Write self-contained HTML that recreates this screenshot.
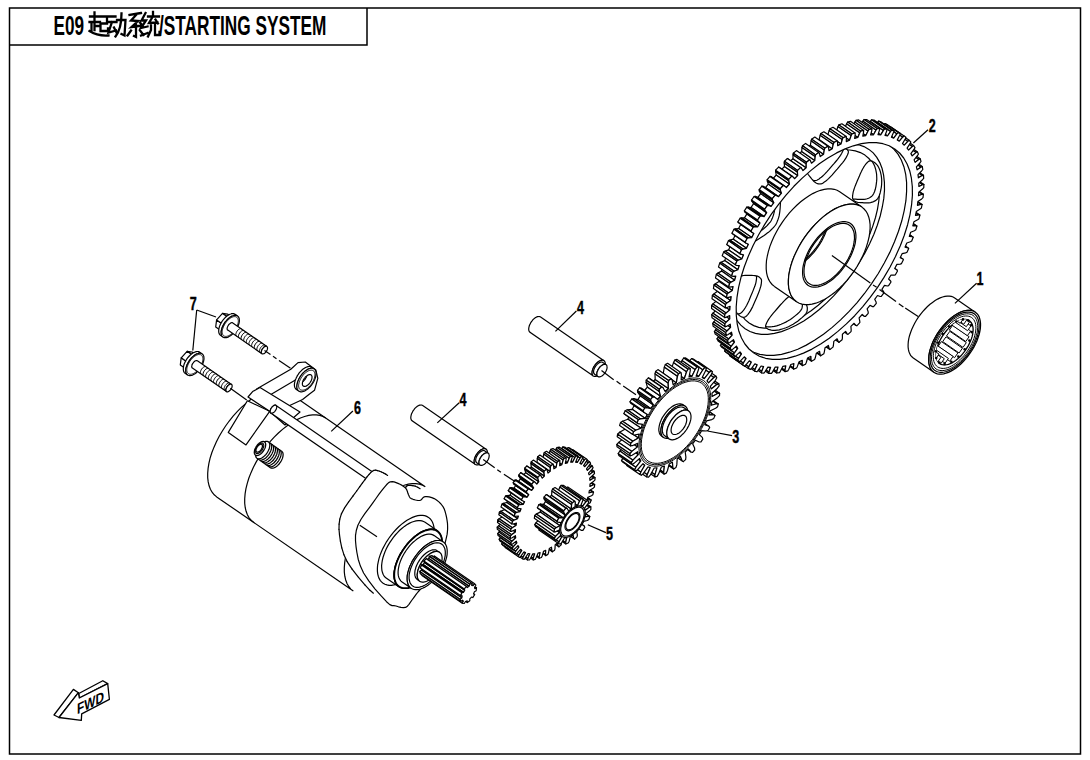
<!DOCTYPE html>
<html><head><meta charset="utf-8"><style>
html,body{margin:0;padding:0;background:#fff;}
body{width:1090px;height:760px;overflow:hidden;position:relative;}
svg{position:absolute;left:0;top:0;}
text{font-family:"Liberation Sans",sans-serif;font-weight:bold;}
</style></head><body>
<svg width="1090" height="760" viewBox="0 0 1090 760">
<defs><clipPath id="c1"><path d="M894.7,148.9 899.6,153.0 903.7,158.0 907.1,164.0 909.7,170.7 911.4,178.2 912.3,186.5 912.4,195.3 911.6,204.7 910.0,214.6 907.6,224.7 904.3,235.2 900.3,245.8 895.5,256.4 890.1,267.0 884.0,277.4 877.4,287.6 870.2,297.4 862.6,306.8 854.7,315.7 846.4,323.9 837.9,331.4 829.3,338.2 820.7,344.1 812.0,349.1 803.5,353.1 795.2,356.2 787.2,358.3 779.6,359.3 772.3,359.3 765.6,358.3 759.4,356.2 753.9,353.1 749.0,349.0 744.9,344.0 741.5,338.0 738.9,331.3 737.2,323.8 736.3,315.5 736.2,306.7 737.0,297.3 738.6,287.4 741.0,277.3 744.3,266.8 748.3,256.2 753.1,245.6 758.5,235.0 764.6,224.6 771.2,214.4 778.4,204.6 786.0,195.2 793.9,186.3 802.2,178.1 810.7,170.6 819.3,163.8 827.9,157.9 836.6,152.9 845.1,148.9 853.4,145.8 861.4,143.7 869.0,142.7 876.3,142.7 883.0,143.7 889.2,145.8Z"/></clipPath>
<clipPath id="c2"><path d="M808.3,164.4 809.7,162.6 811.7,160.7 814.0,158.8 816.4,157.0 818.7,155.4 820.9,153.9 823.3,152.7 825.7,151.5 828.0,150.5 830.3,149.6 832.5,149.0 834.8,148.4 836.9,148.0 839.0,147.8 840.9,147.8 842.7,148.0 844.5,148.4 846.2,149.0 847.4,149.8 848.2,150.8 848.4,152.0 848.1,153.5 847.4,155.1 846.5,156.9 845.5,158.7 844.2,160.7 842.5,162.8 840.7,164.9 838.9,167.1 837.2,169.1 835.4,171.1 833.7,173.1 832.0,175.1 830.3,176.8 828.8,178.4 827.5,179.6 826.2,180.7 825.1,181.6 824.0,182.3 823.1,182.9 822.3,183.4 821.7,183.7 821.1,183.9 820.6,183.9 819.9,184.0 819.2,183.9 818.3,183.8 817.5,183.7 816.6,183.3 815.7,182.8 814.7,182.1 813.8,181.3 812.8,180.2 811.9,179.2 811.0,178.0 810.1,176.9 809.1,175.7 808.2,174.5 807.5,173.2 807.0,171.8 806.8,170.4 806.7,169.0 806.8,167.5 807.3,166.0Z"/></clipPath>
<clipPath id="c3"><path d="M869.8,160.9 871.2,160.9 872.7,161.4 874.1,162.2 875.5,163.3 876.7,164.5 877.8,165.9 878.7,167.5 879.5,169.3 880.2,171.2 880.7,173.2 881.2,175.3 881.5,177.6 881.7,179.9 881.7,182.3 881.6,184.8 881.3,187.3 880.8,190.0 880.2,192.7 879.4,195.2 878.6,197.2 877.5,198.8 876.3,200.0 875.0,200.9 873.5,201.6 872.1,202.2 870.5,202.6 868.9,202.8 867.2,202.9 865.5,202.8 863.9,202.8 862.3,202.7 860.7,202.6 859.2,202.5 857.9,202.3 856.7,202.0 855.7,201.6 854.9,201.2 854.2,200.6 853.7,200.1 853.2,199.5 852.9,199.0 852.7,198.6 852.6,198.1 852.5,197.5 852.6,196.7 852.6,195.7 852.8,194.5 853.0,193.2 853.3,191.7 853.8,190.0 854.4,188.1 855.2,185.9 856.2,183.6 857.1,181.3 858.1,178.9 859.2,176.6 860.2,174.0 861.4,171.6 862.5,169.2 863.7,167.2 864.8,165.5 866.0,163.8 867.3,162.5 868.5,161.4Z"/></clipPath>
<clipPath id="c4"><path d="M868.6,235.6 868.5,237.3 868.0,239.7 867.2,242.5 866.1,245.4 865.0,248.2 863.8,251.0 862.4,253.9 860.8,256.9 859.2,259.8 857.5,262.7 855.7,265.5 853.7,268.3 851.7,271.0 849.7,273.6 847.7,276.0 845.6,278.4 843.3,280.7 841.1,282.8 839.0,284.5 837.4,285.5 836.1,285.8 835.2,285.6 834.5,284.9 834.0,283.8 833.6,282.6 833.4,281.1 833.3,279.1 833.4,277.0 833.6,274.8 833.7,272.7 833.9,270.7 834.0,268.6 834.3,266.5 834.5,264.5 834.9,262.7 835.2,261.1 835.7,259.6 836.2,258.1 836.7,256.9 837.2,255.7 837.6,254.7 838.0,254.0 838.4,253.3 838.9,252.6 839.6,251.8 840.5,250.8 841.4,249.7 842.5,248.6 843.8,247.4 845.1,246.3 846.7,245.0 848.5,243.8 850.4,242.5 852.3,241.2 854.2,240.0 856.1,238.7 858.2,237.4 860.2,236.2 862.1,235.2 863.7,234.5 865.1,234.1 866.4,233.9 867.4,234.0 868.2,234.5Z"/></clipPath>
<clipPath id="c5"><path d="M805.8,313.8 804.3,315.5 802.3,317.4 800.0,319.3 797.7,321.2 795.3,322.8 793.1,324.2 790.7,325.5 788.4,326.7 786.0,327.7 783.7,328.5 781.5,329.2 779.3,329.8 777.1,330.1 775.0,330.4 773.1,330.3 771.3,330.1 769.5,329.7 767.9,329.1 766.6,328.3 765.8,327.4 765.6,326.1 765.9,324.7 766.6,323.0 767.5,321.3 768.6,319.4 769.9,317.5 771.5,315.4 773.3,313.2 775.1,311.1 776.9,309.0 778.6,307.0 780.3,305.0 782.1,303.1 783.7,301.3 785.2,299.8 786.6,298.5 787.8,297.5 789.0,296.6 790.0,295.9 791.0,295.3 791.7,294.8 792.3,294.5 792.9,294.3 793.4,294.2 794.1,294.2 794.9,294.2 795.7,294.3 796.6,294.5 797.5,294.8 798.4,295.3 799.3,296.0 800.3,296.9 801.2,297.9 802.2,299.0 803.1,300.1 804.0,301.2 804.9,302.4 805.8,303.7 806.6,305.0 807.0,306.3 807.3,307.7 807.3,309.1 807.2,310.6 806.7,312.2Z"/></clipPath>
<clipPath id="c6"><path d="M744.2,317.3 742.8,317.2 741.4,316.8 739.9,315.9 738.5,314.8 737.3,313.6 736.3,312.2 735.3,310.6 734.5,308.8 733.8,306.9 733.3,304.9 732.9,302.8 732.5,300.6 732.4,298.2 732.3,295.8 732.5,293.4 732.8,290.8 733.2,288.1 733.8,285.4 734.6,282.9 735.5,280.9 736.5,279.4 737.7,278.2 739.1,277.2 740.5,276.5 742.0,275.9 743.5,275.5 745.2,275.3 746.9,275.3 748.6,275.3 750.2,275.4 751.7,275.4 753.3,275.5 754.8,275.7 756.2,275.9 757.4,276.1 758.3,276.5 759.1,277.0 759.8,277.5 760.3,278.1 760.8,278.6 761.1,279.1 761.4,279.6 761.5,280.0 761.5,280.7 761.5,281.5 761.4,282.5 761.3,283.6 761.1,285.0 760.7,286.5 760.2,288.1 759.6,290.1 758.8,292.2 757.9,294.5 756.9,296.9 755.9,299.2 754.9,301.6 753.8,304.1 752.7,306.6 751.5,308.9 750.4,310.9 749.2,312.7 748.0,314.3 746.8,315.7 745.5,316.7Z"/></clipPath>
<clipPath id="c7"><path d="M745.4,242.6 745.5,240.8 746.1,238.4 746.9,235.6 747.9,232.7 749.0,229.9 750.2,227.1 751.6,224.2 753.2,221.3 754.8,218.3 756.6,215.5 758.4,212.7 760.3,209.9 762.3,207.1 764.3,204.5 766.3,202.1 768.5,199.8 770.7,197.4 773.0,195.3 775.0,193.7 776.7,192.6 777.9,192.3 778.8,192.6 779.5,193.3 780.0,194.3 780.4,195.6 780.6,197.1 780.7,199.0 780.6,201.2 780.4,203.4 780.3,205.4 780.2,207.5 780.0,209.6 779.8,211.6 779.5,213.6 779.2,215.4 778.8,217.1 778.3,218.6 777.8,220.0 777.3,221.3 776.8,222.5 776.4,223.4 776.0,224.2 775.6,224.8 775.1,225.5 774.4,226.4 773.6,227.3 772.6,228.4 771.5,229.5 770.3,230.7 768.9,231.9 767.3,233.1 765.5,234.4 763.7,235.7 761.7,237.0 759.8,238.2 757.9,239.4 755.9,240.7 753.8,242.0 752.0,243.0 750.4,243.7 748.9,244.0 747.7,244.3 746.6,244.2 745.8,243.6Z"/></clipPath>
<clipPath id="c8"><path d="M850.5,223.5 852.0,224.8 853.3,226.3 854.3,228.1 855.1,230.1 855.6,232.4 855.9,234.9 855.9,237.6 855.6,240.4 855.2,243.4 854.4,246.5 853.4,249.6 852.2,252.8 850.8,256.0 849.1,259.2 847.3,262.4 845.3,265.5 843.1,268.5 840.8,271.3 838.4,274.0 835.9,276.4 833.4,278.7 830.8,280.8 828.1,282.5 825.5,284.1 823.0,285.3 820.5,286.2 818.0,286.8 815.7,287.2 813.5,287.2 811.5,286.8 809.6,286.2 807.9,285.3 806.5,284.0 805.2,282.5 804.2,280.7 803.4,278.7 802.9,276.4 802.6,273.9 802.6,271.2 802.8,268.4 803.3,265.4 804.1,262.3 805.0,259.2 806.3,256.0 807.7,252.8 809.3,249.6 811.2,246.4 813.2,243.3 815.4,240.4 817.7,237.5 820.1,234.9 822.6,232.4 825.1,230.1 827.7,228.1 830.3,226.3 832.9,224.8 835.5,223.5 838.0,222.6 840.5,222.0 842.8,221.7 845.0,221.7 847.0,222.0 848.9,222.6Z"/></clipPath>
<clipPath id="c9"><path d="M850.5,223.5 852.0,224.8 853.3,226.3 854.3,228.1 855.1,230.1 855.6,232.4 855.9,234.9 855.9,237.6 855.6,240.4 855.2,243.4 854.4,246.5 853.4,249.6 852.2,252.8 850.8,256.0 849.1,259.2 847.3,262.4 845.3,265.5 843.1,268.5 840.8,271.3 838.4,274.0 835.9,276.4 833.4,278.7 830.8,280.8 828.1,282.5 825.5,284.1 823.0,285.3 820.5,286.2 818.0,286.8 815.7,287.2 813.5,287.2 811.5,286.8 809.6,286.2 807.9,285.3 806.5,284.0 805.2,282.5 804.2,280.7 803.4,278.7 802.9,276.4 802.6,273.9 802.6,271.2 802.8,268.4 803.3,265.4 804.1,262.3 805.0,259.2 806.3,256.0 807.7,252.8 809.3,249.6 811.2,246.4 813.2,243.3 815.4,240.4 817.7,237.5 820.1,234.9 822.6,232.4 825.1,230.1 827.7,228.1 830.3,226.3 832.9,224.8 835.5,223.5 838.0,222.6 840.5,222.0 842.8,221.7 845.0,221.7 847.0,222.0 848.9,222.6Z"/></clipPath>
<clipPath id="c10"><path d="M969.4,320.8 970.4,321.7 971.3,322.7 972.0,323.9 972.5,325.4 972.9,326.9 973.1,328.7 973.1,330.5 972.9,332.5 972.6,334.6 972.1,336.7 971.4,338.9 970.5,341.1 969.5,343.3 968.4,345.6 967.1,347.7 965.7,349.9 964.2,351.9 962.6,353.9 961.0,355.8 959.2,357.5 957.5,359.1 955.7,360.5 953.8,361.7 952.0,362.8 950.2,363.6 948.5,364.3 946.8,364.7 945.2,364.9 943.7,364.9 942.3,364.7 941.0,364.3 939.8,363.6 938.8,362.7 937.9,361.7 937.2,360.5 936.7,359.0 936.3,357.5 936.1,355.7 936.1,353.9 936.3,351.9 936.6,349.8 937.1,347.7 937.8,345.5 938.7,343.3 939.7,341.1 940.8,338.8 942.1,336.7 943.5,334.5 945.0,332.5 946.6,330.5 948.2,328.6 950.0,326.9 951.7,325.3 953.5,323.9 955.4,322.7 957.2,321.6 959.0,320.8 960.7,320.1 962.4,319.7 964.0,319.5 965.5,319.5 966.9,319.7 968.2,320.1Z"/></clipPath>
<clipPath id="c11"><path d="M685.2,415.9 685.6,416.2 686.0,416.7 686.3,417.2 686.5,417.8 686.6,418.5 686.7,419.2 686.7,420.0 686.7,420.8 686.5,421.7 686.3,422.6 686.0,423.5 685.7,424.5 685.2,425.4 684.8,426.4 684.2,427.3 683.6,428.2 683.0,429.1 682.3,429.9 681.6,430.7 680.9,431.4 680.1,432.1 679.4,432.7 678.6,433.2 677.8,433.6 677.1,434.0 676.3,434.3 675.6,434.5 674.9,434.5 674.3,434.5 673.7,434.5 673.2,434.3 672.7,434.0 672.2,433.6 671.9,433.2 671.6,432.7 671.3,432.1 671.2,431.4 671.1,430.7 671.1,429.9 671.2,429.0 671.3,428.2 671.5,427.3 671.8,426.3 672.2,425.4 672.6,424.5 673.1,423.5 673.6,422.6 674.2,421.7 674.8,420.8 675.5,420.0 676.2,419.2 677.0,418.5 677.7,417.8 678.5,417.2 679.2,416.7 680.0,416.2 680.8,415.9 681.5,415.6 682.2,415.4 682.9,415.3 683.5,415.3 684.1,415.4 684.7,415.6Z"/></clipPath>
<clipPath id="c12"><path d="M311.1,374.9 311.3,375.1 311.6,375.4 311.7,375.7 311.9,376.1 312.0,376.5 312.0,377.0 312.0,377.4 312.0,378.0 311.9,378.5 311.8,379.1 311.6,379.6 311.4,380.2 311.1,380.8 310.8,381.4 310.5,381.9 310.1,382.5 309.7,383.0 309.3,383.6 308.9,384.0 308.4,384.5 307.9,384.9 307.5,385.3 307.0,385.6 306.5,385.9 306.1,386.1 305.6,386.3 305.2,386.4 304.7,386.4 304.3,386.4 304.0,386.4 303.6,386.3 303.3,386.1 303.1,385.9 302.8,385.6 302.7,385.3 302.5,384.9 302.4,384.5 302.4,384.0 302.4,383.6 302.4,383.0 302.5,382.5 302.6,381.9 302.8,381.4 303.0,380.8 303.3,380.2 303.6,379.6 303.9,379.1 304.3,378.5 304.7,378.0 305.1,377.4 305.5,377.0 306.0,376.5 306.5,376.1 306.9,375.7 307.4,375.4 307.9,375.1 308.3,374.9 308.8,374.7 309.2,374.6 309.7,374.6 310.1,374.6 310.4,374.6 310.8,374.7Z"/></clipPath></defs>
<rect x="9.5" y="8" width="1071" height="746" fill="none" stroke="#000" stroke-width="1.5"/>
<path d="M9.5,45 H367 V8" fill="none" stroke="#000" stroke-width="1.5"/>
<g font-size="27"><text x="0" y="0" transform="translate(53.5,34.5) scale(0.636,1)">E09</text>
<text x="0" y="0" transform="translate(159,34.5) scale(0.639,1)">/STARTING SYSTEM</text></g>
<path d="M90,16.5 L99,16.5 M94.5,12.5 L94.5,22 M89.5,22 L100,22 M94.5,22 L94.5,30 M94.5,26 L99,26 M91.5,24.5 L91.5,31 M89.5,31 C94,34 100,36 108.5,35.5 M100.5,16.5 L107,16.5 L107,23.5 L100.5,23.5 L100.5,31 L108,31 L108,28.5 M108.5,16.5 L115.5,16.5 M107.5,22 L116.5,22 M112,22 L108.5,32.5 L116,30.5 M114,27.5 L116.5,32.5 M117,20 L125.5,20 L124.5,35.5 L121.5,34 M121.5,13.5 C121.5,25 119,32 115.5,36.5 M129.5,15 L141,13 M136,15 L131,20.5 L138,21 L131.5,27 L142,25.5 M140,22.5 L142.5,26 M136,25 L136,37 L134,36 M131,30.5 L127.5,35.5 M140,30.5 L143.5,35 M145.5,13 L141.5,20.5 L146,20.5 L141,28 L147.5,26.5 M141,35.5 L147.5,33 M153,12 L153,15.5 M148,16.5 L159,16.5 M152.5,17 L149,23 L157.5,22.5 M155.5,19.5 L158,23.5 M151,25 L151,30 L148,36.5 M155,25 L155,35 L159.5,35 L159.5,32" fill="none" stroke="#000" stroke-width="2.3" stroke-linecap="square" stroke-linejoin="miter"/>
<g stroke="#000" stroke-width="1.3" fill="#fff" stroke-linejoin="round">
<path d="M54,715 L73.4,689.4 L78.4,692.7 L59,717.5Z"/>
<path d="M78.8,693.5 L102.8,680.7 L107.7,683.6 L79.3,698Z"/>
<path d="M59,717.5 L78.4,692.7 L79.3,698 L107.7,683.6 L109.4,699.3 L81.7,713.8 L81.3,720.4Z"/>
</g>
<text x="0" y="0" font-size="16" transform="translate(77,714.5) skewY(-26) scale(0.74,0.95)">FWD</text>
<path d="M881.5,259.4 883.8,261.0 897.0,270.1 894.7,268.5Z" fill="#fff" stroke="#000" stroke-width="1.20" stroke-linejoin="round"/>
<path d="M851.2,307.2 849.0,305.4 862.2,314.5 864.4,316.3Z" fill="#fff" stroke="#000" stroke-width="1.20" stroke-linejoin="round"/>
<path d="M887.0,248.7 889.6,249.9 902.8,259.0 900.2,257.8Z" fill="#fff" stroke="#000" stroke-width="1.20" stroke-linejoin="round"/>
<path d="M842.8,316.3 840.9,314.2 854.1,323.3 855.9,325.4Z" fill="#fff" stroke="#000" stroke-width="1.20" stroke-linejoin="round"/>
<path d="M891.9,238.0 894.7,238.7 907.9,247.8 905.1,247.1Z" fill="#fff" stroke="#000" stroke-width="1.20" stroke-linejoin="round"/>
<path d="M899.1,227.6 900.0,228.1 913.2,237.2 912.3,236.7Z" fill="#fff" stroke="#000" stroke-width="1.20" stroke-linejoin="round"/>
<path d="M834.0,324.8 832.5,322.3 845.6,331.4 847.2,333.9Z" fill="#fff" stroke="#000" stroke-width="1.20" stroke-linejoin="round"/>
<path d="M825.8,333.3 825.1,332.6 838.3,341.6 839.0,342.3Z" fill="#fff" stroke="#000" stroke-width="1.20" stroke-linejoin="round"/>
<path d="M896.1,227.3 899.1,227.6 912.3,236.7 909.3,236.4Z" fill="#fff" stroke="#000" stroke-width="1.20" stroke-linejoin="round"/>
<path d="M825.1,332.6 823.9,329.7 837.1,338.8 838.3,341.6Z" fill="#fff" stroke="#000" stroke-width="1.20" stroke-linejoin="round"/>
<path d="M902.8,216.6 903.8,216.9 916.9,226.0 916.0,225.7Z" fill="#fff" stroke="#000" stroke-width="1.20" stroke-linejoin="round"/>
<path d="M816.7,340.4 816.1,339.6 829.2,348.6 829.9,349.5Z" fill="#fff" stroke="#000" stroke-width="1.20" stroke-linejoin="round"/>
<path d="M899.6,216.7 902.8,216.6 916.0,225.7 912.8,225.8Z" fill="#fff" stroke="#000" stroke-width="1.20" stroke-linejoin="round"/>
<path d="M816.1,339.6 815.2,336.3 828.4,345.4 829.2,348.6Z" fill="#fff" stroke="#000" stroke-width="1.20" stroke-linejoin="round"/>
<path d="M905.7,205.8 906.7,206.0 919.9,215.0 918.9,214.9Z" fill="#fff" stroke="#000" stroke-width="1.20" stroke-linejoin="round"/>
<path d="M902.3,206.3 905.7,205.8 918.9,214.9 915.5,215.4Z" fill="#fff" stroke="#000" stroke-width="1.20" stroke-linejoin="round"/>
<path d="M807.5,346.7 807.0,345.7 820.2,354.8 820.7,355.8Z" fill="#fff" stroke="#000" stroke-width="1.20" stroke-linejoin="round"/>
<path d="M807.0,345.7 806.4,342.2 819.6,351.3 820.2,354.8Z" fill="#fff" stroke="#000" stroke-width="1.20" stroke-linejoin="round"/>
<path d="M907.8,195.3 908.9,195.3 922.1,204.4 920.9,204.4Z" fill="#fff" stroke="#000" stroke-width="1.20" stroke-linejoin="round"/>
<path d="M904.2,196.3 907.8,195.3 920.9,204.4 917.4,205.3Z" fill="#fff" stroke="#000" stroke-width="1.20" stroke-linejoin="round"/>
<path d="M798.3,352.1 797.9,351.0 811.1,360.1 811.5,361.2Z" fill="#fff" stroke="#000" stroke-width="1.20" stroke-linejoin="round"/>
<path d="M797.9,351.0 797.8,347.2 810.9,356.3 811.1,360.1Z" fill="#fff" stroke="#000" stroke-width="1.20" stroke-linejoin="round"/>
<path d="M909.0,185.2 910.2,185.1 923.4,194.2 922.2,194.3Z" fill="#fff" stroke="#000" stroke-width="1.20" stroke-linejoin="round"/>
<path d="M905.4,186.6 909.0,185.2 922.2,194.3 918.5,195.7Z" fill="#fff" stroke="#000" stroke-width="1.20" stroke-linejoin="round"/>
<path d="M789.3,356.5 789.0,355.3 802.2,364.4 802.4,365.6Z" fill="#fff" stroke="#000" stroke-width="1.20" stroke-linejoin="round"/>
<path d="M789.0,355.3 789.2,351.3 802.3,360.4 802.2,364.4Z" fill="#fff" stroke="#000" stroke-width="1.20" stroke-linejoin="round"/>
<path d="M909.4,175.6 910.7,175.3 923.9,184.4 922.6,184.7Z" fill="#fff" stroke="#000" stroke-width="1.20" stroke-linejoin="round"/>
<path d="M905.7,177.4 909.4,175.6 922.6,184.7 918.9,186.5Z" fill="#fff" stroke="#000" stroke-width="1.20" stroke-linejoin="round"/>
<path d="M780.4,360.0 780.3,358.7 793.4,367.8 793.6,369.1Z" fill="#fff" stroke="#000" stroke-width="1.20" stroke-linejoin="round"/>
<path d="M780.3,358.7 780.8,354.5 793.9,363.6 793.4,367.8Z" fill="#fff" stroke="#000" stroke-width="1.20" stroke-linejoin="round"/>
<path d="M909.0,166.5 910.3,166.1 923.5,175.2 922.2,175.6Z" fill="#fff" stroke="#000" stroke-width="1.20" stroke-linejoin="round"/>
<path d="M905.2,168.7 909.0,166.5 922.2,175.6 918.4,177.8Z" fill="#fff" stroke="#000" stroke-width="1.20" stroke-linejoin="round"/>
<path d="M771.8,362.5 771.8,361.1 785.0,370.2 785.0,371.6Z" fill="#fff" stroke="#000" stroke-width="1.20" stroke-linejoin="round"/>
<path d="M771.8,361.1 772.6,356.7 785.8,365.8 785.0,370.2Z" fill="#fff" stroke="#000" stroke-width="1.20" stroke-linejoin="round"/>
<path d="M907.8,158.1 909.1,157.6 922.3,166.6 920.9,167.2Z" fill="#fff" stroke="#000" stroke-width="1.20" stroke-linejoin="round"/>
<path d="M904.0,160.7 907.8,158.1 920.9,167.2 917.1,169.8Z" fill="#fff" stroke="#000" stroke-width="1.20" stroke-linejoin="round"/>
<path d="M763.5,363.9 763.6,362.5 776.8,371.5 776.7,373.0Z" fill="#fff" stroke="#000" stroke-width="1.20" stroke-linejoin="round"/>
<path d="M763.6,362.5 764.8,357.9 778.0,367.0 776.8,371.5Z" fill="#fff" stroke="#000" stroke-width="1.20" stroke-linejoin="round"/>
<path d="M905.7,150.4 907.0,149.7 920.2,158.8 918.8,159.5Z" fill="#fff" stroke="#000" stroke-width="1.20" stroke-linejoin="round"/>
<path d="M901.9,153.4 905.7,150.4 918.8,159.5 915.1,162.4Z" fill="#fff" stroke="#000" stroke-width="1.20" stroke-linejoin="round"/>
<path d="M755.7,364.3 755.9,362.8 769.1,371.9 768.8,373.4Z" fill="#fff" stroke="#000" stroke-width="1.20" stroke-linejoin="round"/>
<path d="M755.9,362.8 757.4,358.2 770.6,367.3 769.1,371.9Z" fill="#fff" stroke="#000" stroke-width="1.20" stroke-linejoin="round"/>
<path d="M902.8,143.5 904.1,142.7 917.3,151.8 916.0,152.6Z" fill="#fff" stroke="#000" stroke-width="1.20" stroke-linejoin="round"/>
<path d="M899.1,146.8 902.8,143.5 916.0,152.6 912.2,155.9Z" fill="#fff" stroke="#000" stroke-width="1.20" stroke-linejoin="round"/>
<path d="M748.3,363.7 748.6,362.1 761.8,371.2 761.4,372.8Z" fill="#fff" stroke="#000" stroke-width="1.20" stroke-linejoin="round"/>
<path d="M748.6,362.1 750.5,357.4 763.6,366.5 761.8,371.2Z" fill="#fff" stroke="#000" stroke-width="1.20" stroke-linejoin="round"/>
<path d="M899.1,137.5 900.5,136.5 913.6,145.6 912.3,146.6Z" fill="#fff" stroke="#000" stroke-width="1.20" stroke-linejoin="round"/>
<path d="M895.5,141.0 899.1,137.5 912.3,146.6 908.6,150.1Z" fill="#fff" stroke="#000" stroke-width="1.20" stroke-linejoin="round"/>
<path d="M741.4,362.0 741.9,360.4 755.1,369.5 754.6,371.1Z" fill="#fff" stroke="#000" stroke-width="1.20" stroke-linejoin="round"/>
<path d="M741.9,360.4 744.0,355.7 757.2,364.8 755.1,369.5Z" fill="#fff" stroke="#000" stroke-width="1.20" stroke-linejoin="round"/>
<path d="M894.7,132.3 896.0,131.2 909.2,140.3 907.9,141.4Z" fill="#fff" stroke="#000" stroke-width="1.20" stroke-linejoin="round"/>
<path d="M891.2,136.1 894.7,132.3 907.9,141.4 904.3,145.2Z" fill="#fff" stroke="#000" stroke-width="1.20" stroke-linejoin="round"/>
<path d="M735.2,359.3 735.8,357.7 748.9,366.7 748.3,368.4Z" fill="#fff" stroke="#000" stroke-width="1.20" stroke-linejoin="round"/>
<path d="M735.8,357.7 738.2,353.0 751.3,362.1 748.9,366.7Z" fill="#fff" stroke="#000" stroke-width="1.20" stroke-linejoin="round"/>
<path d="M889.6,128.1 890.9,126.9 904.1,135.9 902.7,137.2Z" fill="#fff" stroke="#000" stroke-width="1.20" stroke-linejoin="round"/>
<path d="M886.2,132.1 889.6,128.1 902.7,137.2 899.3,141.2Z" fill="#fff" stroke="#000" stroke-width="1.20" stroke-linejoin="round"/>
<path d="M731.4,357.0 729.5,355.6 742.7,364.7 744.5,366.1Z" fill="#fff" stroke="#000" stroke-width="1.20" stroke-linejoin="round"/>
<path d="M884.1,130.8 886.2,132.1 899.3,141.2 897.3,139.9Z" fill="#fff" stroke="#000" stroke-width="1.20" stroke-linejoin="round"/>
<path d="M729.5,355.6 730.3,353.9 743.4,363.0 742.7,364.7Z" fill="#fff" stroke="#000" stroke-width="1.20" stroke-linejoin="round"/>
<path d="M730.3,353.9 732.9,349.4 746.1,358.4 743.4,363.0Z" fill="#fff" stroke="#000" stroke-width="1.20" stroke-linejoin="round"/>
<path d="M732.9,349.4 731.1,347.7 744.3,356.8 746.1,358.4Z" fill="#fff" stroke="#000" stroke-width="1.20" stroke-linejoin="round"/>
<path d="M885.0,123.5 887.1,124.5 900.3,133.6 898.2,132.6Z" fill="#fff" stroke="#000" stroke-width="1.20" stroke-linejoin="round"/>
<path d="M883.8,124.8 885.0,123.5 898.2,132.6 896.9,133.9Z" fill="#fff" stroke="#000" stroke-width="1.20" stroke-linejoin="round"/>
<path d="M880.5,129.0 883.8,124.8 896.9,133.9 893.7,138.1Z" fill="#fff" stroke="#000" stroke-width="1.20" stroke-linejoin="round"/>
<path d="M726.2,352.6 724.6,350.9 737.8,360.0 739.4,361.7Z" fill="#fff" stroke="#000" stroke-width="1.20" stroke-linejoin="round"/>
<path d="M878.2,128.1 880.5,129.0 893.7,138.1 891.4,137.2Z" fill="#fff" stroke="#000" stroke-width="1.20" stroke-linejoin="round"/>
<path d="M724.6,350.9 725.4,349.3 738.6,358.3 737.8,360.0Z" fill="#fff" stroke="#000" stroke-width="1.20" stroke-linejoin="round"/>
<path d="M725.4,349.3 728.4,344.8 741.5,353.9 738.6,358.3Z" fill="#fff" stroke="#000" stroke-width="1.20" stroke-linejoin="round"/>
<path d="M728.4,344.8 726.8,342.8 740.0,351.9 741.5,353.9Z" fill="#fff" stroke="#000" stroke-width="1.20" stroke-linejoin="round"/>
<path d="M878.6,121.1 880.8,121.8 894.0,130.9 891.7,130.2Z" fill="#fff" stroke="#000" stroke-width="1.20" stroke-linejoin="round"/>
<path d="M877.3,122.5 878.6,121.1 891.7,130.2 890.5,131.6Z" fill="#fff" stroke="#000" stroke-width="1.20" stroke-linejoin="round"/>
<path d="M874.3,126.9 877.3,122.5 890.5,131.6 887.5,136.0Z" fill="#fff" stroke="#000" stroke-width="1.20" stroke-linejoin="round"/>
<path d="M871.8,126.4 874.3,126.9 887.5,136.0 885.0,135.5Z" fill="#fff" stroke="#000" stroke-width="1.20" stroke-linejoin="round"/>
<path d="M721.8,347.3 720.4,345.3 733.6,354.4 735.0,356.4Z" fill="#fff" stroke="#000" stroke-width="1.20" stroke-linejoin="round"/>
<path d="M720.4,345.3 721.4,343.7 734.5,352.8 733.6,354.4Z" fill="#fff" stroke="#000" stroke-width="1.20" stroke-linejoin="round"/>
<path d="M721.4,343.7 724.5,339.3 737.7,348.4 734.5,352.8Z" fill="#fff" stroke="#000" stroke-width="1.20" stroke-linejoin="round"/>
<path d="M724.5,339.3 723.2,337.0 736.4,346.1 737.7,348.4Z" fill="#fff" stroke="#000" stroke-width="1.20" stroke-linejoin="round"/>
<path d="M871.5,119.8 874.0,120.1 887.2,129.2 884.7,128.9Z" fill="#fff" stroke="#000" stroke-width="1.20" stroke-linejoin="round"/>
<path d="M867.5,125.8 870.3,121.3 883.5,130.4 880.7,134.9Z" fill="#fff" stroke="#000" stroke-width="1.20" stroke-linejoin="round"/>
<path d="M870.3,121.3 871.5,119.8 884.7,128.9 883.5,130.4Z" fill="#fff" stroke="#000" stroke-width="1.20" stroke-linejoin="round"/>
<path d="M864.8,125.6 867.5,125.8 880.7,134.9 878.0,134.7Z" fill="#fff" stroke="#000" stroke-width="1.20" stroke-linejoin="round"/>
<path d="M718.1,341.1 717.0,338.8 730.2,347.9 731.3,350.2Z" fill="#fff" stroke="#000" stroke-width="1.20" stroke-linejoin="round"/>
<path d="M718.0,337.2 721.4,333.1 734.5,342.1 731.2,346.3Z" fill="#fff" stroke="#000" stroke-width="1.20" stroke-linejoin="round"/>
<path d="M717.0,338.8 718.0,337.2 731.2,346.3 730.2,347.9Z" fill="#fff" stroke="#000" stroke-width="1.20" stroke-linejoin="round"/>
<path d="M721.4,333.1 720.4,330.5 733.5,339.6 734.5,342.1Z" fill="#fff" stroke="#000" stroke-width="1.20" stroke-linejoin="round"/>
<path d="M864.0,119.5 866.6,119.5 879.8,128.6 877.1,128.6Z" fill="#fff" stroke="#000" stroke-width="1.20" stroke-linejoin="round"/>
<path d="M860.3,125.7 862.9,121.1 876.0,130.1 873.5,134.8Z" fill="#fff" stroke="#000" stroke-width="1.20" stroke-linejoin="round"/>
<path d="M862.9,121.1 864.0,119.5 877.1,128.6 876.0,130.1Z" fill="#fff" stroke="#000" stroke-width="1.20" stroke-linejoin="round"/>
<path d="M857.4,125.9 860.3,125.7 873.5,134.8 870.6,135.0Z" fill="#fff" stroke="#000" stroke-width="1.20" stroke-linejoin="round"/>
<path d="M715.2,334.1 714.4,331.5 727.6,340.6 728.4,343.2Z" fill="#fff" stroke="#000" stroke-width="1.20" stroke-linejoin="round"/>
<path d="M715.5,329.9 719.0,326.0 732.2,335.1 728.7,339.0Z" fill="#fff" stroke="#000" stroke-width="1.20" stroke-linejoin="round"/>
<path d="M714.4,331.5 715.5,329.9 728.7,339.0 727.6,340.6Z" fill="#fff" stroke="#000" stroke-width="1.20" stroke-linejoin="round"/>
<path d="M719.0,326.0 718.3,323.1 731.5,332.2 732.2,335.1Z" fill="#fff" stroke="#000" stroke-width="1.20" stroke-linejoin="round"/>
<path d="M856.0,120.3 858.7,119.9 871.9,129.0 869.1,129.4Z" fill="#fff" stroke="#000" stroke-width="1.20" stroke-linejoin="round"/>
<path d="M852.6,126.5 854.9,121.9 868.1,131.0 865.8,135.6Z" fill="#fff" stroke="#000" stroke-width="1.20" stroke-linejoin="round"/>
<path d="M854.9,121.9 856.0,120.3 869.1,129.4 868.1,131.0Z" fill="#fff" stroke="#000" stroke-width="1.20" stroke-linejoin="round"/>
<path d="M849.6,127.1 852.6,126.5 865.8,135.6 862.8,136.2Z" fill="#fff" stroke="#000" stroke-width="1.20" stroke-linejoin="round"/>
<path d="M713.2,326.3 712.7,323.4 725.8,332.5 726.3,335.4Z" fill="#fff" stroke="#000" stroke-width="1.20" stroke-linejoin="round"/>
<path d="M713.8,321.9 717.4,318.2 730.6,327.3 727.0,331.0Z" fill="#fff" stroke="#000" stroke-width="1.20" stroke-linejoin="round"/>
<path d="M712.7,323.4 713.8,321.9 727.0,331.0 725.8,332.5Z" fill="#fff" stroke="#000" stroke-width="1.20" stroke-linejoin="round"/>
<path d="M717.4,318.2 717.0,315.1 730.2,324.2 730.6,327.3Z" fill="#fff" stroke="#000" stroke-width="1.20" stroke-linejoin="round"/>
<path d="M847.6,122.1 850.5,121.3 863.6,130.4 860.7,131.2Z" fill="#fff" stroke="#000" stroke-width="1.20" stroke-linejoin="round"/>
<path d="M844.6,128.4 846.6,123.7 859.8,132.8 857.8,137.5Z" fill="#fff" stroke="#000" stroke-width="1.20" stroke-linejoin="round"/>
<path d="M841.5,129.3 844.6,128.4 857.8,137.5 854.7,138.4Z" fill="#fff" stroke="#000" stroke-width="1.20" stroke-linejoin="round"/>
<path d="M846.6,123.7 847.6,122.1 860.7,131.2 859.8,132.8Z" fill="#fff" stroke="#000" stroke-width="1.20" stroke-linejoin="round"/>
<path d="M712.0,317.7 711.7,314.7 724.9,323.7 725.1,326.8Z" fill="#fff" stroke="#000" stroke-width="1.20" stroke-linejoin="round"/>
<path d="M712.9,313.2 716.6,309.8 729.8,318.9 726.1,322.3Z" fill="#fff" stroke="#000" stroke-width="1.20" stroke-linejoin="round"/>
<path d="M716.6,309.8 716.6,306.5 729.7,315.5 729.8,318.9Z" fill="#fff" stroke="#000" stroke-width="1.20" stroke-linejoin="round"/>
<path d="M711.7,314.7 712.9,313.2 726.1,322.3 724.9,323.7Z" fill="#fff" stroke="#000" stroke-width="1.20" stroke-linejoin="round"/>
<path d="M838.9,124.9 841.9,123.8 855.0,132.9 852.0,134.0Z" fill="#fff" stroke="#000" stroke-width="1.20" stroke-linejoin="round"/>
<path d="M836.3,131.2 838.0,126.5 851.2,135.6 849.5,140.3Z" fill="#fff" stroke="#000" stroke-width="1.20" stroke-linejoin="round"/>
<path d="M833.1,132.5 836.3,131.2 849.5,140.3 846.3,141.6Z" fill="#fff" stroke="#000" stroke-width="1.20" stroke-linejoin="round"/>
<path d="M838.0,126.5 838.9,124.9 852.0,134.0 851.2,135.6Z" fill="#fff" stroke="#000" stroke-width="1.20" stroke-linejoin="round"/>
<path d="M712.9,303.9 716.7,300.8 729.8,309.9 726.1,313.0Z" fill="#fff" stroke="#000" stroke-width="1.20" stroke-linejoin="round"/>
<path d="M711.6,308.5 711.6,305.3 724.8,314.4 724.7,317.6Z" fill="#fff" stroke="#000" stroke-width="1.20" stroke-linejoin="round"/>
<path d="M716.7,300.8 716.9,297.2 730.1,306.3 729.8,309.9Z" fill="#fff" stroke="#000" stroke-width="1.20" stroke-linejoin="round"/>
<path d="M711.6,305.3 712.9,303.9 726.1,313.0 724.8,314.4Z" fill="#fff" stroke="#000" stroke-width="1.20" stroke-linejoin="round"/>
<path d="M827.8,134.9 829.2,130.4 842.3,139.5 841.0,144.0Z" fill="#fff" stroke="#000" stroke-width="1.20" stroke-linejoin="round"/>
<path d="M824.5,136.6 827.8,134.9 841.0,144.0 837.7,145.7Z" fill="#fff" stroke="#000" stroke-width="1.20" stroke-linejoin="round"/>
<path d="M829.9,128.7 833.0,127.3 846.2,136.4 843.1,137.8Z" fill="#fff" stroke="#000" stroke-width="1.20" stroke-linejoin="round"/>
<path d="M829.2,130.4 829.9,128.7 843.1,137.8 842.3,139.5Z" fill="#fff" stroke="#000" stroke-width="1.20" stroke-linejoin="round"/>
<path d="M713.7,294.1 717.5,291.3 730.7,300.4 726.9,303.1Z" fill="#fff" stroke="#000" stroke-width="1.20" stroke-linejoin="round"/>
<path d="M717.5,291.3 718.0,287.6 731.2,296.7 730.7,300.4Z" fill="#fff" stroke="#000" stroke-width="1.20" stroke-linejoin="round"/>
<path d="M712.0,298.8 712.4,295.3 725.6,304.4 725.2,307.8Z" fill="#fff" stroke="#000" stroke-width="1.20" stroke-linejoin="round"/>
<path d="M712.4,295.3 713.7,294.1 726.9,303.1 725.6,304.4Z" fill="#fff" stroke="#000" stroke-width="1.20" stroke-linejoin="round"/>
<path d="M815.8,141.6 819.1,139.6 832.3,148.7 829.0,150.7Z" fill="#fff" stroke="#000" stroke-width="1.20" stroke-linejoin="round"/>
<path d="M819.1,139.6 820.2,135.2 833.3,144.2 832.3,148.7Z" fill="#fff" stroke="#000" stroke-width="1.20" stroke-linejoin="round"/>
<path d="M820.8,133.5 823.9,131.8 837.1,140.8 834.0,142.6Z" fill="#fff" stroke="#000" stroke-width="1.20" stroke-linejoin="round"/>
<path d="M820.2,135.2 820.8,133.5 834.0,142.6 833.3,144.2Z" fill="#fff" stroke="#000" stroke-width="1.20" stroke-linejoin="round"/>
<path d="M719.1,281.4 720.0,277.5 733.1,286.6 732.3,290.5Z" fill="#fff" stroke="#000" stroke-width="1.20" stroke-linejoin="round"/>
<path d="M715.3,283.8 719.1,281.4 732.3,290.5 728.5,292.9Z" fill="#fff" stroke="#000" stroke-width="1.20" stroke-linejoin="round"/>
<path d="M713.4,288.5 714.0,284.9 727.2,294.0 726.5,297.6Z" fill="#fff" stroke="#000" stroke-width="1.20" stroke-linejoin="round"/>
<path d="M714.0,284.9 715.3,283.8 728.5,292.9 727.2,294.0Z" fill="#fff" stroke="#000" stroke-width="1.20" stroke-linejoin="round"/>
<path d="M807.1,147.5 810.4,145.2 823.6,154.2 820.2,156.6Z" fill="#fff" stroke="#000" stroke-width="1.20" stroke-linejoin="round"/>
<path d="M810.4,145.2 811.1,140.8 824.3,149.9 823.6,154.2Z" fill="#fff" stroke="#000" stroke-width="1.20" stroke-linejoin="round"/>
<path d="M811.6,139.2 814.8,137.1 827.9,146.2 824.8,148.3Z" fill="#fff" stroke="#000" stroke-width="1.20" stroke-linejoin="round"/>
<path d="M811.1,140.8 811.6,139.2 824.8,148.3 824.3,149.9Z" fill="#fff" stroke="#000" stroke-width="1.20" stroke-linejoin="round"/>
<path d="M721.6,271.1 722.7,267.1 735.8,276.2 734.7,280.2Z" fill="#fff" stroke="#000" stroke-width="1.20" stroke-linejoin="round"/>
<path d="M717.8,273.1 721.6,271.1 734.7,280.2 731.0,282.2Z" fill="#fff" stroke="#000" stroke-width="1.20" stroke-linejoin="round"/>
<path d="M715.5,277.9 716.4,274.2 729.6,283.3 728.7,287.0Z" fill="#fff" stroke="#000" stroke-width="1.20" stroke-linejoin="round"/>
<path d="M716.4,274.2 717.8,273.1 731.0,282.2 729.6,283.3Z" fill="#fff" stroke="#000" stroke-width="1.20" stroke-linejoin="round"/>
<path d="M798.4,154.1 801.7,151.5 814.8,160.6 811.5,163.2Z" fill="#fff" stroke="#000" stroke-width="1.20" stroke-linejoin="round"/>
<path d="M801.7,151.5 802.0,147.4 815.2,156.5 814.8,160.6Z" fill="#fff" stroke="#000" stroke-width="1.20" stroke-linejoin="round"/>
<path d="M724.7,260.6 726.1,256.6 739.3,265.6 737.9,269.7Z" fill="#fff" stroke="#000" stroke-width="1.20" stroke-linejoin="round"/>
<path d="M802.5,145.8 805.6,143.4 818.7,152.5 815.6,154.9Z" fill="#fff" stroke="#000" stroke-width="1.20" stroke-linejoin="round"/>
<path d="M802.0,147.4 802.5,145.8 815.6,154.9 815.2,156.5Z" fill="#fff" stroke="#000" stroke-width="1.20" stroke-linejoin="round"/>
<path d="M721.0,262.2 724.7,260.6 737.9,269.7 734.2,271.3Z" fill="#fff" stroke="#000" stroke-width="1.20" stroke-linejoin="round"/>
<path d="M718.5,266.9 719.7,263.1 732.8,272.2 731.7,276.0Z" fill="#fff" stroke="#000" stroke-width="1.20" stroke-linejoin="round"/>
<path d="M789.8,161.6 793.0,158.7 806.2,167.7 803.0,170.6Z" fill="#fff" stroke="#000" stroke-width="1.20" stroke-linejoin="round"/>
<path d="M719.7,263.1 721.0,262.2 734.2,271.3 732.8,272.2Z" fill="#fff" stroke="#000" stroke-width="1.20" stroke-linejoin="round"/>
<path d="M793.0,158.7 793.0,154.8 806.2,163.8 806.2,167.7Z" fill="#fff" stroke="#000" stroke-width="1.20" stroke-linejoin="round"/>
<path d="M728.7,249.9 730.3,245.8 743.5,254.9 741.8,259.0Z" fill="#fff" stroke="#000" stroke-width="1.20" stroke-linejoin="round"/>
<path d="M725.1,251.1 728.7,249.9 741.8,259.0 738.2,260.2Z" fill="#fff" stroke="#000" stroke-width="1.20" stroke-linejoin="round"/>
<path d="M793.3,153.2 796.4,150.6 809.6,159.7 806.5,162.3Z" fill="#fff" stroke="#000" stroke-width="1.20" stroke-linejoin="round"/>
<path d="M793.0,154.8 793.3,153.2 806.5,162.3 806.2,163.8Z" fill="#fff" stroke="#000" stroke-width="1.20" stroke-linejoin="round"/>
<path d="M781.4,169.7 784.5,166.5 797.7,175.6 794.5,178.7Z" fill="#fff" stroke="#000" stroke-width="1.20" stroke-linejoin="round"/>
<path d="M722.2,255.8 723.7,251.9 736.9,261.0 735.4,264.8Z" fill="#fff" stroke="#000" stroke-width="1.20" stroke-linejoin="round"/>
<path d="M784.5,166.5 784.2,162.9 797.4,171.9 797.7,175.6Z" fill="#fff" stroke="#000" stroke-width="1.20" stroke-linejoin="round"/>
<path d="M723.7,251.9 725.1,251.1 738.2,260.2 736.9,261.0Z" fill="#fff" stroke="#000" stroke-width="1.20" stroke-linejoin="round"/>
<path d="M733.3,239.2 735.2,235.1 748.4,244.2 746.5,248.3Z" fill="#fff" stroke="#000" stroke-width="1.20" stroke-linejoin="round"/>
<path d="M787.4,158.5 788.2,159.0 801.4,168.1 800.6,167.6Z" fill="#fff" stroke="#000" stroke-width="1.20" stroke-linejoin="round"/>
<path d="M729.8,240.0 733.3,239.2 746.5,248.3 743.0,249.1Z" fill="#fff" stroke="#000" stroke-width="1.20" stroke-linejoin="round"/>
<path d="M773.2,178.4 776.3,175.0 789.5,184.1 786.4,187.5Z" fill="#fff" stroke="#000" stroke-width="1.20" stroke-linejoin="round"/>
<path d="M784.4,161.3 787.4,158.5 800.6,167.6 797.6,170.4Z" fill="#fff" stroke="#000" stroke-width="1.20" stroke-linejoin="round"/>
<path d="M784.2,162.9 784.4,161.3 797.6,170.4 797.4,171.9Z" fill="#fff" stroke="#000" stroke-width="1.20" stroke-linejoin="round"/>
<path d="M727.5,245.1 726.8,244.5 739.9,253.6 740.7,254.2Z" fill="#fff" stroke="#000" stroke-width="1.20" stroke-linejoin="round"/>
<path d="M738.6,228.5 740.7,224.4 753.9,233.5 751.7,237.6Z" fill="#fff" stroke="#000" stroke-width="1.20" stroke-linejoin="round"/>
<path d="M776.3,175.0 775.6,171.6 788.8,180.7 789.5,184.1Z" fill="#fff" stroke="#000" stroke-width="1.20" stroke-linejoin="round"/>
<path d="M765.4,187.6 768.3,184.1 781.5,193.2 778.6,196.7Z" fill="#fff" stroke="#000" stroke-width="1.20" stroke-linejoin="round"/>
<path d="M726.8,244.5 728.5,240.6 741.6,249.7 739.9,253.6Z" fill="#fff" stroke="#000" stroke-width="1.20" stroke-linejoin="round"/>
<path d="M728.5,240.6 729.8,240.0 743.0,249.1 741.6,249.7Z" fill="#fff" stroke="#000" stroke-width="1.20" stroke-linejoin="round"/>
<path d="M735.2,228.8 738.6,228.5 751.7,237.6 748.4,237.9Z" fill="#fff" stroke="#000" stroke-width="1.20" stroke-linejoin="round"/>
<path d="M744.5,217.9 746.9,213.9 760.0,223.0 757.6,227.0Z" fill="#fff" stroke="#000" stroke-width="1.20" stroke-linejoin="round"/>
<path d="M778.6,167.1 779.5,167.5 792.7,176.6 791.8,176.2Z" fill="#fff" stroke="#000" stroke-width="1.20" stroke-linejoin="round"/>
<path d="M757.9,197.4 760.7,193.6 773.9,202.7 771.1,206.5Z" fill="#fff" stroke="#000" stroke-width="1.20" stroke-linejoin="round"/>
<path d="M751.0,207.5 753.6,203.6 766.7,212.7 764.1,216.6Z" fill="#fff" stroke="#000" stroke-width="1.20" stroke-linejoin="round"/>
<path d="M768.3,184.1 767.3,181.0 780.4,190.1 781.5,193.2Z" fill="#fff" stroke="#000" stroke-width="1.20" stroke-linejoin="round"/>
<path d="M775.6,171.6 775.6,170.2 788.8,179.3 788.8,180.7Z" fill="#fff" stroke="#000" stroke-width="1.20" stroke-linejoin="round"/>
<path d="M775.6,170.2 778.6,167.1 791.8,176.2 788.8,179.3Z" fill="#fff" stroke="#000" stroke-width="1.20" stroke-linejoin="round"/>
<path d="M732.7,233.9 732.0,233.2 745.2,242.3 745.8,243.0Z" fill="#fff" stroke="#000" stroke-width="1.20" stroke-linejoin="round"/>
<path d="M741.3,217.8 744.5,217.9 757.6,227.0 754.5,226.9Z" fill="#fff" stroke="#000" stroke-width="1.20" stroke-linejoin="round"/>
<path d="M762.9,186.3 765.4,187.6 778.6,196.7 776.1,195.4Z" fill="#fff" stroke="#000" stroke-width="1.20" stroke-linejoin="round"/>
<path d="M746.9,213.9 744.9,211.9 758.0,221.0 760.0,223.0Z" fill="#fff" stroke="#000" stroke-width="1.20" stroke-linejoin="round"/>
<path d="M760.7,193.6 759.3,190.9 772.5,200.0 773.9,202.7Z" fill="#fff" stroke="#000" stroke-width="1.20" stroke-linejoin="round"/>
<path d="M733.9,229.3 735.2,228.8 748.4,237.9 747.1,238.4Z" fill="#fff" stroke="#000" stroke-width="1.20" stroke-linejoin="round"/>
<path d="M732.0,233.2 733.9,229.3 747.1,238.4 745.2,242.3Z" fill="#fff" stroke="#000" stroke-width="1.20" stroke-linejoin="round"/>
<path d="M748.0,207.0 751.0,207.5 764.1,216.6 761.2,216.0Z" fill="#fff" stroke="#000" stroke-width="1.20" stroke-linejoin="round"/>
<path d="M755.2,196.4 757.9,197.4 771.1,206.5 768.4,205.5Z" fill="#fff" stroke="#000" stroke-width="1.20" stroke-linejoin="round"/>
<path d="M753.6,203.6 751.9,201.2 765.0,210.3 766.7,212.7Z" fill="#fff" stroke="#000" stroke-width="1.20" stroke-linejoin="round"/>
<path d="M770.0,176.4 771.1,176.6 784.2,185.7 783.2,185.5Z" fill="#fff" stroke="#000" stroke-width="1.20" stroke-linejoin="round"/>
<path d="M767.3,181.0 767.2,179.7 780.4,188.7 780.4,190.1Z" fill="#fff" stroke="#000" stroke-width="1.20" stroke-linejoin="round"/>
<path d="M738.5,222.8 737.9,221.9 751.1,231.0 751.6,231.9Z" fill="#fff" stroke="#000" stroke-width="1.20" stroke-linejoin="round"/>
<path d="M767.2,179.7 770.0,176.4 783.2,185.5 780.4,188.7Z" fill="#fff" stroke="#000" stroke-width="1.20" stroke-linejoin="round"/>
<path d="M740.1,218.2 741.3,217.8 754.5,226.9 753.2,227.2Z" fill="#fff" stroke="#000" stroke-width="1.20" stroke-linejoin="round"/>
<path d="M761.9,186.2 762.9,186.3 776.1,195.4 775.0,195.3Z" fill="#fff" stroke="#000" stroke-width="1.20" stroke-linejoin="round"/>
<path d="M737.9,221.9 740.1,218.2 753.2,227.2 751.1,231.0Z" fill="#fff" stroke="#000" stroke-width="1.20" stroke-linejoin="round"/>
<path d="M759.3,190.9 759.2,189.6 772.3,198.7 772.5,200.0Z" fill="#fff" stroke="#000" stroke-width="1.20" stroke-linejoin="round"/>
<path d="M744.9,211.9 744.4,210.9 757.6,220.0 758.0,221.0Z" fill="#fff" stroke="#000" stroke-width="1.20" stroke-linejoin="round"/>
<path d="M746.8,207.2 748.0,207.0 761.2,216.0 760.0,216.3Z" fill="#fff" stroke="#000" stroke-width="1.20" stroke-linejoin="round"/>
<path d="M754.1,196.5 755.2,196.4 768.4,205.5 767.3,205.6Z" fill="#fff" stroke="#000" stroke-width="1.20" stroke-linejoin="round"/>
<path d="M759.2,189.6 761.9,186.2 775.0,195.3 772.3,198.7Z" fill="#fff" stroke="#000" stroke-width="1.20" stroke-linejoin="round"/>
<path d="M751.9,201.2 751.5,200.1 764.7,209.2 765.0,210.3Z" fill="#fff" stroke="#000" stroke-width="1.20" stroke-linejoin="round"/>
<path d="M744.4,210.9 746.8,207.2 760.0,216.3 757.6,220.0Z" fill="#fff" stroke="#000" stroke-width="1.20" stroke-linejoin="round"/>
<path d="M751.5,200.1 754.1,196.5 767.3,205.6 764.7,209.2Z" fill="#fff" stroke="#000" stroke-width="1.20" stroke-linejoin="round"/>
<g clip-path="url(#c1)">
<path d="M894.7,148.9 899.6,153.0 903.7,158.0 907.1,164.0 909.7,170.7 911.4,178.2 912.3,186.5 912.4,195.3 911.6,204.7 910.0,214.6 907.6,224.7 904.3,235.2 900.3,245.8 895.5,256.4 890.1,267.0 884.0,277.4 877.4,287.6 870.2,297.4 862.6,306.8 854.7,315.7 846.4,323.9 837.9,331.4 829.3,338.2 820.7,344.1 812.0,349.1 803.5,353.1 795.2,356.2 787.2,358.3 779.6,359.3 772.3,359.3 765.6,358.3 759.4,356.2 753.9,353.1 749.0,349.0 744.9,344.0 741.5,338.0 738.9,331.3 737.2,323.8 736.3,315.5 736.2,306.7 737.0,297.3 738.6,287.4 741.0,277.3 744.3,266.8 748.3,256.2 753.1,245.6 758.5,235.0 764.6,224.6 771.2,214.4 778.4,204.6 786.0,195.2 793.9,186.3 802.2,178.1 810.7,170.6 819.3,163.8 827.9,157.9 836.6,152.9 845.1,148.9 853.4,145.8 861.4,143.7 869.0,142.7 876.3,142.7 883.0,143.7 889.2,145.8Z" fill="#fff" stroke="none" stroke-width="1.20"/>
<path d="M877.4,137.0 882.3,141.1 886.4,146.1 889.8,152.0 892.4,158.8 894.1,166.3 895.0,174.6 895.1,183.4 894.3,192.8 892.7,202.6 890.3,212.8 887.0,223.3 883.0,233.8 878.2,244.5 872.8,255.1 866.7,265.5 860.1,275.7 852.9,285.5 845.3,294.9 837.4,303.7 829.1,312.0 820.6,319.5 812.0,326.2 803.4,332.1 794.8,337.1 786.3,341.2 778.0,344.3 769.9,346.4 762.3,347.4 755.0,347.4 748.3,346.3 742.1,344.2 736.6,341.1 731.7,337.1 727.6,332.0 724.2,326.1 721.7,319.4 719.9,311.8 719.0,303.6 718.9,294.7 719.7,285.4 721.3,275.5 723.8,265.3 727.0,254.9 731.0,244.3 735.8,233.7 741.2,223.1 747.3,212.6 753.9,202.5 761.1,192.6 768.7,183.3 776.7,174.4 784.9,166.2 793.4,158.7 802.0,151.9 810.7,146.0 819.3,141.0 827.8,136.9 836.1,133.9 844.1,131.8 851.8,130.8 859.0,130.8 865.7,131.8 871.9,133.9Z" fill="#fff" stroke="none" stroke-width="1.20"/>
<path d="M868.9,149.4 873.2,152.9 876.8,157.4 879.8,162.6 882.1,168.5 883.6,175.1 884.4,182.4 884.5,190.1 883.8,198.4 882.3,207.0 880.2,216.0 877.3,225.2 873.8,234.5 869.6,243.8 864.8,253.1 859.5,262.3 853.7,271.3 847.4,279.9 840.7,288.1 833.7,295.9 826.4,303.1 819.0,309.8 811.4,315.7 803.8,320.9 796.2,325.3 788.8,328.8 781.5,331.6 774.4,333.4 767.7,334.3 761.3,334.3 755.4,333.4 750.0,331.5 745.1,328.8 740.8,325.2 737.2,320.8 734.2,315.6 732.0,309.7 730.4,303.0 729.6,295.8 729.6,288.0 730.3,279.8 731.7,271.1 733.8,262.2 736.7,253.0 740.2,243.7 744.4,234.3 749.2,225.0 754.5,215.8 760.4,206.9 766.7,198.3 773.3,190.0 780.3,182.2 787.6,175.0 795.0,168.4 802.6,162.5 810.2,157.3 817.8,152.9 825.3,149.3 832.6,146.6 839.6,144.8 846.3,143.9 852.7,143.9 858.6,144.8 864.0,146.6Z" fill="none" stroke="#000" stroke-width="1.20"/>
<path d="M864.9,155.1 868.9,158.5 872.3,162.6 875.1,167.5 877.2,173.0 878.7,179.2 879.4,186.0 879.5,193.3 878.8,201.0 877.5,209.1 875.5,217.5 872.8,226.1 869.5,234.8 865.6,243.5 861.1,252.2 856.1,260.8 850.7,269.2 844.8,277.3 838.5,285.0 832.0,292.3 825.2,299.0 818.2,305.2 811.1,310.8 804.0,315.6 796.9,319.7 789.9,323.1 783.1,325.6 776.5,327.3 770.2,328.2 764.3,328.2 758.7,327.3 753.7,325.6 749.1,323.0 745.1,319.7 741.7,315.5 738.9,310.7 736.8,305.1 735.4,298.9 734.6,292.2 734.5,284.9 735.2,277.1 736.5,269.1 738.5,260.7 741.2,252.1 744.5,243.4 748.4,234.6 752.9,225.9 757.9,217.3 763.4,209.0 769.2,200.9 775.5,193.2 782.0,185.9 788.8,179.1 795.8,172.9 802.9,167.4 810.0,162.5 817.1,158.4 824.1,155.1 830.9,152.5 837.5,150.8 843.8,150.0 849.8,150.0 855.3,150.9 860.4,152.6Z" fill="none" stroke="#000" stroke-width="1.20"/>
<path d="M889.0,145.0 893.8,149.0 898.0,154.1 901.3,160.0 903.9,166.7 905.7,174.3 906.6,182.5 906.6,191.4 905.9,200.7 904.2,210.6 901.8,220.8 898.5,231.2 894.5,241.8 889.8,252.4 884.3,263.0 878.3,273.5 871.6,283.6 864.5,293.5 856.9,302.8 848.9,311.7 840.6,319.9 832.2,327.4 823.5,334.2 814.9,340.1 806.3,345.1 797.8,349.2 789.5,352.2 781.5,354.3 773.8,355.3 766.6,355.3 759.8,354.3 753.7,352.2 748.1,349.1 743.3,345.0 739.1,340.0 735.8,334.1 733.2,327.3 731.4,319.8 730.5,311.6 730.4,302.7 731.2,293.3 732.8,283.5 735.3,273.3 738.5,262.8 742.6,252.3 747.3,241.6 752.7,231.0 758.8,220.6 765.5,210.4 772.6,200.6 780.2,191.2 788.2,182.4 796.4,174.1 804.9,166.6 813.5,159.9 822.2,154.0 830.8,149.0 839.3,144.9 847.6,141.8 855.6,139.7 863.3,138.7 870.5,138.7 877.2,139.8 883.4,141.9Z" fill="none" stroke="#000" stroke-width="1.20"/>
<path d="M808.3,164.4 809.7,162.6 811.7,160.7 814.0,158.8 816.4,157.0 818.7,155.4 820.9,153.9 823.3,152.7 825.7,151.5 828.0,150.5 830.3,149.6 832.5,149.0 834.8,148.4 836.9,148.0 839.0,147.8 840.9,147.8 842.7,148.0 844.5,148.4 846.2,149.0 847.4,149.8 848.2,150.8 848.4,152.0 848.1,153.5 847.4,155.1 846.5,156.9 845.5,158.7 844.2,160.7 842.5,162.8 840.7,164.9 838.9,167.1 837.2,169.1 835.4,171.1 833.7,173.1 832.0,175.1 830.3,176.8 828.8,178.4 827.5,179.6 826.2,180.7 825.1,181.6 824.0,182.3 823.1,182.9 822.3,183.4 821.7,183.7 821.1,183.9 820.6,183.9 819.9,184.0 819.2,183.9 818.3,183.8 817.5,183.7 816.6,183.3 815.7,182.8 814.7,182.1 813.8,181.3 812.8,180.2 811.9,179.2 811.0,178.0 810.1,176.9 809.1,175.7 808.2,174.5 807.5,173.2 807.0,171.8 806.8,170.4 806.7,169.0 806.8,167.5 807.3,166.0Z" fill="#fff" stroke="#000" stroke-width="1.20" stroke-linejoin="round"/>
<path d="M803.3,161.0 804.8,159.2 806.8,157.3 809.0,155.4 811.4,153.6 813.7,152.0 816.0,150.5 818.4,149.2 820.7,148.1 823.1,147.1 825.4,146.2 827.6,145.5 829.8,145.0 832.0,144.6 834.1,144.4 836.0,144.4 837.8,144.6 839.6,145.0 841.2,145.6 842.5,146.4 843.3,147.4 843.4,148.6 843.2,150.1 842.5,151.7 841.6,153.5 840.5,155.3 839.2,157.2 837.6,159.4 835.8,161.5 834.0,163.7 832.2,165.7 830.5,167.7 828.8,169.7 827.0,171.7 825.4,173.4 823.9,174.9 822.5,176.2 821.3,177.3 820.1,178.1 819.1,178.9 818.1,179.5 817.3,180.0 816.7,180.3 816.2,180.5 815.7,180.5 815.0,180.6 814.2,180.5 813.4,180.4 812.5,180.2 811.6,179.9 810.7,179.4 809.8,178.7 808.8,177.8 807.9,176.8 806.9,175.7 806.0,174.6 805.1,173.5 804.1,172.3 803.2,171.0 802.5,169.7 802.1,168.4 801.8,167.0 801.8,165.6 801.9,164.1 802.4,162.6Z" fill="none" stroke="#000" stroke-width="1.20" clip-path="url(#c2)"/>
<path d="M869.8,160.9 871.2,160.9 872.7,161.4 874.1,162.2 875.5,163.3 876.7,164.5 877.8,165.9 878.7,167.5 879.5,169.3 880.2,171.2 880.7,173.2 881.2,175.3 881.5,177.6 881.7,179.9 881.7,182.3 881.6,184.8 881.3,187.3 880.8,190.0 880.2,192.7 879.4,195.2 878.6,197.2 877.5,198.8 876.3,200.0 875.0,200.9 873.5,201.6 872.1,202.2 870.5,202.6 868.9,202.8 867.2,202.9 865.5,202.8 863.9,202.8 862.3,202.7 860.7,202.6 859.2,202.5 857.9,202.3 856.7,202.0 855.7,201.6 854.9,201.2 854.2,200.6 853.7,200.1 853.2,199.5 852.9,199.0 852.7,198.6 852.6,198.1 852.5,197.5 852.6,196.7 852.6,195.7 852.8,194.5 853.0,193.2 853.3,191.7 853.8,190.0 854.4,188.1 855.2,185.9 856.2,183.6 857.1,181.3 858.1,178.9 859.2,176.6 860.2,174.0 861.4,171.6 862.5,169.2 863.7,167.2 864.8,165.5 866.0,163.8 867.3,162.5 868.5,161.4Z" fill="#fff" stroke="#000" stroke-width="1.20" stroke-linejoin="round"/>
<path d="M864.9,157.5 866.3,157.5 867.7,158.0 869.2,158.8 870.6,159.9 871.8,161.1 872.8,162.5 873.7,164.1 874.6,165.9 875.2,167.8 875.8,169.8 876.2,171.9 876.6,174.2 876.7,176.5 876.8,178.9 876.6,181.4 876.3,183.9 875.9,186.6 875.3,189.3 874.5,191.8 873.6,193.8 872.6,195.4 871.4,196.6 870.0,197.5 868.6,198.2 867.1,198.8 865.6,199.2 863.9,199.4 862.2,199.4 860.5,199.4 858.9,199.4 857.4,199.3 855.8,199.2 854.3,199.1 852.9,198.9 851.7,198.6 850.8,198.2 850.0,197.7 849.3,197.2 848.7,196.7 848.3,196.1 848.0,195.6 847.7,195.2 847.6,194.7 847.6,194.1 847.6,193.3 847.7,192.3 847.8,191.1 848.0,189.8 848.4,188.3 848.8,186.6 849.5,184.7 850.3,182.5 851.2,180.2 852.2,177.9 853.2,175.5 854.2,173.1 855.3,170.6 856.4,168.1 857.6,165.8 858.7,163.8 859.9,162.0 861.1,160.4 862.3,159.0 863.6,158.0Z" fill="none" stroke="#000" stroke-width="1.20" clip-path="url(#c3)"/>
<path d="M868.6,235.6 868.5,237.3 868.0,239.7 867.2,242.5 866.1,245.4 865.0,248.2 863.8,251.0 862.4,253.9 860.8,256.9 859.2,259.8 857.5,262.7 855.7,265.5 853.7,268.3 851.7,271.0 849.7,273.6 847.7,276.0 845.6,278.4 843.3,280.7 841.1,282.8 839.0,284.5 837.4,285.5 836.1,285.8 835.2,285.6 834.5,284.9 834.0,283.8 833.6,282.6 833.4,281.1 833.3,279.1 833.4,277.0 833.6,274.8 833.7,272.7 833.9,270.7 834.0,268.6 834.3,266.5 834.5,264.5 834.9,262.7 835.2,261.1 835.7,259.6 836.2,258.1 836.7,256.9 837.2,255.7 837.6,254.7 838.0,254.0 838.4,253.3 838.9,252.6 839.6,251.8 840.5,250.8 841.4,249.7 842.5,248.6 843.8,247.4 845.1,246.3 846.7,245.0 848.5,243.8 850.4,242.5 852.3,241.2 854.2,240.0 856.1,238.7 858.2,237.4 860.2,236.2 862.1,235.2 863.7,234.5 865.1,234.1 866.4,233.9 867.4,234.0 868.2,234.5Z" fill="#fff" stroke="#000" stroke-width="1.20" stroke-linejoin="round"/>
<path d="M863.6,232.2 863.5,233.9 863.0,236.3 862.2,239.1 861.2,242.0 860.1,244.8 858.9,247.6 857.5,250.5 855.9,253.5 854.2,256.4 852.5,259.2 850.7,262.0 848.8,264.9 846.8,267.6 844.8,270.2 842.7,272.6 840.6,275.0 838.3,277.3 836.1,279.4 834.1,281.1 832.4,282.1 831.2,282.4 830.3,282.2 829.6,281.4 829.1,280.4 828.7,279.2 828.5,277.6 828.4,275.7 828.5,273.6 828.6,271.4 828.8,269.3 828.9,267.3 829.1,265.2 829.3,263.1 829.6,261.1 829.9,259.3 830.3,257.7 830.8,256.1 831.3,254.7 831.8,253.4 832.2,252.3 832.7,251.3 833.1,250.6 833.5,249.9 834.0,249.2 834.7,248.4 835.5,247.4 836.5,246.3 837.6,245.2 838.8,244.0 840.2,242.8 841.8,241.6 843.5,240.3 845.4,239.1 847.4,237.8 849.2,236.6 851.2,235.3 853.2,234.0 855.2,232.8 857.1,231.7 858.7,231.1 860.1,230.7 861.4,230.5 862.5,230.6 863.3,231.1Z" fill="none" stroke="#000" stroke-width="1.20" clip-path="url(#c4)"/>
<path d="M805.8,313.8 804.3,315.5 802.3,317.4 800.0,319.3 797.7,321.2 795.3,322.8 793.1,324.2 790.7,325.5 788.4,326.7 786.0,327.7 783.7,328.5 781.5,329.2 779.3,329.8 777.1,330.1 775.0,330.4 773.1,330.3 771.3,330.1 769.5,329.7 767.9,329.1 766.6,328.3 765.8,327.4 765.6,326.1 765.9,324.7 766.6,323.0 767.5,321.3 768.6,319.4 769.9,317.5 771.5,315.4 773.3,313.2 775.1,311.1 776.9,309.0 778.6,307.0 780.3,305.0 782.1,303.1 783.7,301.3 785.2,299.8 786.6,298.5 787.8,297.5 789.0,296.6 790.0,295.9 791.0,295.3 791.7,294.8 792.3,294.5 792.9,294.3 793.4,294.2 794.1,294.2 794.9,294.2 795.7,294.3 796.6,294.5 797.5,294.8 798.4,295.3 799.3,296.0 800.3,296.9 801.2,297.9 802.2,299.0 803.1,300.1 804.0,301.2 804.9,302.4 805.8,303.7 806.6,305.0 807.0,306.3 807.3,307.7 807.3,309.1 807.2,310.6 806.7,312.2Z" fill="#fff" stroke="#000" stroke-width="1.20" stroke-linejoin="round"/>
<path d="M800.8,310.4 799.4,312.1 797.4,314.0 795.1,315.9 792.7,317.8 790.4,319.4 788.1,320.8 785.8,322.1 783.4,323.2 781.1,324.3 778.8,325.1 776.6,325.8 774.3,326.3 772.1,326.7 770.1,326.9 768.2,326.9 766.4,326.7 764.5,326.3 762.9,325.7 761.7,324.9 760.9,324.0 760.7,322.7 761.0,321.3 761.7,319.6 762.6,317.9 763.6,316.0 764.9,314.1 766.6,312.0 768.3,309.8 770.2,307.7 771.9,305.6 773.6,303.6 775.4,301.6 777.1,299.7 778.8,297.9 780.3,296.4 781.6,295.1 782.9,294.1 784.0,293.2 785.1,292.5 786.0,291.8 786.8,291.4 787.4,291.1 787.9,290.9 788.5,290.8 789.1,290.8 789.9,290.8 790.8,290.9 791.6,291.1 792.5,291.4 793.4,291.9 794.4,292.6 795.3,293.5 796.3,294.5 797.2,295.6 798.1,296.7 799.0,297.8 800.0,299.0 800.9,300.3 801.6,301.6 802.1,302.9 802.3,304.3 802.4,305.7 802.2,307.2 801.8,308.7Z" fill="none" stroke="#000" stroke-width="1.20" clip-path="url(#c5)"/>
<path d="M744.2,317.3 742.8,317.2 741.4,316.8 739.9,315.9 738.5,314.8 737.3,313.6 736.3,312.2 735.3,310.6 734.5,308.8 733.8,306.9 733.3,304.9 732.9,302.8 732.5,300.6 732.4,298.2 732.3,295.8 732.5,293.4 732.8,290.8 733.2,288.1 733.8,285.4 734.6,282.9 735.5,280.9 736.5,279.4 737.7,278.2 739.1,277.2 740.5,276.5 742.0,275.9 743.5,275.5 745.2,275.3 746.9,275.3 748.6,275.3 750.2,275.4 751.7,275.4 753.3,275.5 754.8,275.7 756.2,275.9 757.4,276.1 758.3,276.5 759.1,277.0 759.8,277.5 760.3,278.1 760.8,278.6 761.1,279.1 761.4,279.6 761.5,280.0 761.5,280.7 761.5,281.5 761.4,282.5 761.3,283.6 761.1,285.0 760.7,286.5 760.2,288.1 759.6,290.1 758.8,292.2 757.9,294.5 756.9,296.9 755.9,299.2 754.9,301.6 753.8,304.1 752.7,306.6 751.5,308.9 750.4,310.9 749.2,312.7 748.0,314.3 746.8,315.7 745.5,316.7Z" fill="#fff" stroke="#000" stroke-width="1.20" stroke-linejoin="round"/>
<path d="M739.3,313.8 737.9,313.8 736.4,313.3 735.0,312.5 733.6,311.4 732.4,310.2 731.3,308.8 730.4,307.2 729.6,305.4 728.9,303.5 728.3,301.5 727.9,299.4 727.6,297.2 727.4,294.8 727.4,292.4 727.5,290.0 727.8,287.4 728.3,284.7 728.9,282.0 729.6,279.5 730.5,277.5 731.6,275.9 732.8,274.8 734.1,273.8 735.5,273.1 737.0,272.5 738.6,272.1 740.2,271.9 741.9,271.9 743.6,271.9 745.2,272.0 746.8,272.0 748.4,272.1 749.9,272.2 751.2,272.5 752.4,272.7 753.4,273.1 754.2,273.6 754.9,274.1 755.4,274.7 755.9,275.2 756.2,275.7 756.4,276.2 756.5,276.6 756.6,277.2 756.5,278.1 756.5,279.1 756.3,280.2 756.1,281.6 755.8,283.1 755.3,284.7 754.7,286.6 753.8,288.8 752.9,291.1 751.9,293.5 750.9,295.8 749.9,298.2 748.9,300.7 747.7,303.2 746.6,305.5 745.4,307.5 744.2,309.3 743.0,310.9 741.8,312.3 740.6,313.3Z" fill="none" stroke="#000" stroke-width="1.20" clip-path="url(#c6)"/>
<path d="M745.4,242.6 745.5,240.8 746.1,238.4 746.9,235.6 747.9,232.7 749.0,229.9 750.2,227.1 751.6,224.2 753.2,221.3 754.8,218.3 756.6,215.5 758.4,212.7 760.3,209.9 762.3,207.1 764.3,204.5 766.3,202.1 768.5,199.8 770.7,197.4 773.0,195.3 775.0,193.7 776.7,192.6 777.9,192.3 778.8,192.6 779.5,193.3 780.0,194.3 780.4,195.6 780.6,197.1 780.7,199.0 780.6,201.2 780.4,203.4 780.3,205.4 780.2,207.5 780.0,209.6 779.8,211.6 779.5,213.6 779.2,215.4 778.8,217.1 778.3,218.6 777.8,220.0 777.3,221.3 776.8,222.5 776.4,223.4 776.0,224.2 775.6,224.8 775.1,225.5 774.4,226.4 773.6,227.3 772.6,228.4 771.5,229.5 770.3,230.7 768.9,231.9 767.3,233.1 765.5,234.4 763.7,235.7 761.7,237.0 759.8,238.2 757.9,239.4 755.9,240.7 753.8,242.0 752.0,243.0 750.4,243.7 748.9,244.0 747.7,244.3 746.6,244.2 745.8,243.6Z" fill="#fff" stroke="#000" stroke-width="1.20" stroke-linejoin="round"/>
<path d="M740.5,239.2 740.6,237.4 741.1,235.0 741.9,232.2 742.9,229.3 744.0,226.5 745.3,223.7 746.7,220.8 748.2,217.9 749.9,214.9 751.6,212.1 753.4,209.3 755.4,206.5 757.3,203.7 759.4,201.1 761.4,198.7 763.5,196.4 765.8,194.0 768.0,191.9 770.1,190.3 771.7,189.2 772.9,188.9 773.9,189.2 774.6,189.9 775.1,190.9 775.5,192.2 775.7,193.7 775.7,195.6 775.7,197.7 775.5,199.9 775.4,202.0 775.2,204.1 775.0,206.2 774.8,208.2 774.6,210.2 774.2,212.0 773.8,213.7 773.4,215.2 772.9,216.6 772.4,217.9 771.9,219.0 771.5,220.0 771.1,220.8 770.7,221.4 770.2,222.1 769.5,222.9 768.6,223.9 767.6,225.0 766.6,226.1 765.3,227.3 763.9,228.5 762.4,229.7 760.6,231.0 758.7,232.3 756.8,233.6 754.9,234.8 753.0,236.0 750.9,237.3 748.9,238.6 747.0,239.6 745.4,240.3 744.0,240.6 742.7,240.8 741.6,240.7 740.9,240.2Z" fill="none" stroke="#000" stroke-width="1.20" clip-path="url(#c7)"/>
</g>
<path d="M899.3,141.2 902.7,137.2 904.1,135.9 905.9,137.3 905.2,139.0 902.5,143.6 904.3,145.2 907.9,141.4 909.2,140.3 910.8,142.0 910.0,143.7 907.1,148.1 908.6,150.1 912.3,146.6 913.6,145.6 915.0,147.6 914.1,149.2 910.9,153.6 912.2,155.9 916.0,152.6 917.3,151.8 918.4,154.1 917.4,155.7 914.1,159.9 915.1,162.4 918.8,159.5 920.2,158.8 921.0,161.4 919.9,163.0 916.4,166.9 917.1,169.8 920.9,167.2 922.3,166.6 922.8,169.5 921.6,171.0 918.0,174.7 918.4,177.8 922.2,175.6 923.5,175.2 923.7,178.3 922.5,179.7 918.8,183.1 918.9,186.5 922.6,184.7 923.9,184.4 923.8,187.6 922.5,189.0 918.8,192.1 918.5,195.7 922.2,194.3 923.4,194.2 923.0,197.6 921.7,198.9 917.9,201.6 917.4,205.3 920.9,204.4 922.1,204.4 921.4,208.0 920.1,209.1 916.3,211.5 915.5,215.4 918.9,214.9 919.9,215.0 919.0,218.7 917.6,219.8 913.9,221.8 912.8,225.8 916.0,225.7 916.9,226.0 915.8,229.8 914.4,230.7 910.7,232.3 909.3,236.4 912.3,236.7 913.2,237.2 911.7,241.0 910.4,241.8 906.8,243.0 905.1,247.1 907.9,247.8 908.7,248.4 907.0,252.3 905.6,252.9 902.1,253.7 900.2,257.8 902.8,259.0 903.4,259.7 901.5,263.6 900.2,264.1 896.9,264.4 894.7,268.5 897.0,270.1 897.5,271.0 895.4,274.8 894.1,275.1 891.0,275.0 888.6,279.0 890.6,281.0 891.0,282.0 888.6,285.7 887.4,286.0 884.5,285.4 881.9,289.3 883.6,291.7 883.9,292.8 881.3,296.4 880.2,296.5 877.5,295.5 874.7,299.3 876.1,302.0 876.3,303.3 873.6,306.7 872.5,306.6 870.0,305.3 867.1,308.8 868.2,311.9 868.2,313.3 865.4,316.5 864.4,316.3 862.2,314.5 859.1,317.9 859.8,321.3 859.8,322.7 856.8,325.8 855.9,325.4 854.1,323.3 850.9,326.4 851.2,330.1 851.0,331.6 848.0,334.4 847.2,333.9 845.6,331.4 842.4,334.3 842.4,338.2 842.1,339.7 839.0,342.3 838.3,341.6 837.1,338.8 833.8,341.4 833.4,345.5 833.0,347.1 829.9,349.5 829.2,348.6 828.4,345.4 825.0,347.8 824.3,352.1 823.8,353.7 820.7,355.8 820.2,354.8 819.6,351.3 816.3,353.3 815.3,357.8 814.6,359.4 811.5,361.2 811.1,360.1 810.9,356.3 807.6,358.0 806.3,362.5 805.5,364.2 802.4,365.6 802.2,364.4 802.3,360.4 799.1,361.7 797.4,366.4 796.6,368.0 793.6,369.1 793.4,367.8 793.9,363.6 790.8,364.5 788.8,369.2 787.9,370.8 785.0,371.6 785.0,370.2 785.8,365.8 782.8,366.4 780.5,371.0 779.5,372.6 776.7,373.0 776.8,371.5 778.0,367.0 775.1,367.2 772.6,371.9 771.5,373.4 768.8,373.4 769.1,371.9 770.6,367.3 767.9,367.1 765.1,371.6 763.9,373.1 761.4,372.8 761.8,371.2 763.6,366.5 761.1,366.0 758.1,370.4 756.9,371.8 754.6,371.1 755.1,369.5 757.2,364.8 754.9,363.9 751.7,368.1 750.4,369.4 748.3,368.4 748.9,366.7 751.3,362.1 749.3,360.8 745.9,364.8 744.5,366.1 742.7,364.7 743.4,363.0 746.1,358.4 744.3,356.8 740.7,360.6 739.4,361.7 737.8,360.0 738.6,358.3 741.5,353.9 740.0,351.9 736.3,355.4 735.0,356.4 733.6,354.4 734.5,352.8 737.7,348.4 736.4,346.1 732.6,349.4 731.3,350.2 730.2,347.9 731.2,346.3 734.5,342.1 733.5,339.6 729.8,342.5 728.4,343.2 727.6,340.6 728.7,339.0 732.2,335.1 731.5,332.2 727.7,334.8 726.3,335.4 725.8,332.5 727.0,331.0 730.6,327.3 730.2,324.2 726.4,326.4 725.1,326.8 724.9,323.7 726.1,322.3 729.8,318.9 729.7,315.5 726.0,317.3 724.7,317.6 724.8,314.4 726.1,313.0 729.8,309.9 730.1,306.3 726.4,307.7 725.2,307.8 725.6,304.4 726.9,303.1 730.7,300.4 731.2,296.7 727.7,297.6 726.5,297.6 727.2,294.0 728.5,292.9 732.3,290.5 733.1,286.6 729.7,287.1 728.7,287.0 729.6,283.3 731.0,282.2 734.7,280.2 735.8,276.2 732.6,276.3 731.7,276.0 732.8,272.2 734.2,271.3 737.9,269.7 739.3,265.6 736.3,265.3 735.4,264.8 736.9,261.0 738.2,260.2 741.8,259.0 743.5,254.9 740.7,254.2 739.9,253.6 741.6,249.7 743.0,249.1 746.5,248.3 748.4,244.2 745.8,243.0 745.2,242.3 747.1,238.4 748.4,237.9 751.7,237.6 753.9,233.5 751.6,231.9 751.1,231.0 753.2,227.2 754.5,226.9 757.6,227.0 760.0,223.0 758.0,221.0 757.6,220.0 760.0,216.3 761.2,216.0 764.1,216.6 766.7,212.7 765.0,210.3 764.7,209.2 767.3,205.6 768.4,205.5 771.1,206.5 773.9,202.7 772.5,200.0 772.3,198.7 775.0,195.3 776.1,195.4 778.6,196.7 781.5,193.2 780.4,190.1 780.4,188.7 783.2,185.5 784.2,185.7 786.4,187.5 789.5,184.1 788.8,180.7 788.8,179.3 791.8,176.2 792.7,176.6 794.5,178.7 797.7,175.6 797.4,171.9 797.6,170.4 800.6,167.6 801.4,168.1 803.0,170.6 806.2,167.7 806.2,163.8 806.5,162.3 809.6,159.7 810.3,160.4 811.5,163.2 814.8,160.6 815.2,156.5 815.6,154.9 818.7,152.5 819.4,153.4 820.2,156.6 823.6,154.2 824.3,149.9 824.8,148.3 827.9,146.2 828.4,147.2 829.0,150.7 832.3,148.7 833.3,144.2 834.0,142.6 837.1,140.8 837.5,141.9 837.7,145.7 841.0,144.0 842.3,139.5 843.1,137.8 846.2,136.4 846.4,137.6 846.3,141.6 849.5,140.3 851.2,135.6 852.0,134.0 855.0,132.9 855.2,134.2 854.7,138.4 857.8,137.5 859.8,132.8 860.7,131.2 863.6,130.4 863.6,131.8 862.8,136.2 865.8,135.6 868.1,131.0 869.1,129.4 871.9,129.0 871.8,130.5 870.6,135.0 873.5,134.8 876.0,130.1 877.1,128.6 879.8,128.6 879.5,130.1 878.0,134.7 880.7,134.9 883.5,130.4 884.7,128.9 887.2,129.2 886.8,130.8 885.0,135.5 887.5,136.0 890.5,131.6 891.7,130.2 894.0,130.9 893.5,132.5 891.4,137.2 893.7,138.1 896.9,133.9 898.2,132.6 900.3,133.6 899.7,135.3 897.3,139.9Z M894.7,148.9 899.6,153.0 903.7,158.0 907.1,164.0 909.7,170.7 911.4,178.2 912.3,186.5 912.4,195.3 911.6,204.7 910.0,214.6 907.6,224.7 904.3,235.2 900.3,245.8 895.5,256.4 890.1,267.0 884.0,277.4 877.4,287.6 870.2,297.4 862.6,306.8 854.7,315.7 846.4,323.9 837.9,331.4 829.3,338.2 820.7,344.1 812.0,349.1 803.5,353.1 795.2,356.2 787.2,358.3 779.6,359.3 772.3,359.3 765.6,358.3 759.4,356.2 753.9,353.1 749.0,349.0 744.9,344.0 741.5,338.0 738.9,331.3 737.2,323.8 736.3,315.5 736.2,306.7 737.0,297.3 738.6,287.4 741.0,277.3 744.3,266.8 748.3,256.2 753.1,245.6 758.5,235.0 764.6,224.6 771.2,214.4 778.4,204.6 786.0,195.2 793.9,186.3 802.2,178.1 810.7,170.6 819.3,163.8 827.9,157.9 836.6,152.9 845.1,148.9 853.4,145.8 861.4,143.7 869.0,142.7 876.3,142.7 883.0,143.7 889.2,145.8Z" fill="#fff" stroke="#000" stroke-width="1.20" fill-rule="evenodd" stroke-linejoin="round"/>
<path d="M774.4,286.4 772.1,284.5 770.2,282.2 768.6,279.4 767.4,276.3 766.6,272.8 766.2,269.0 766.2,264.9 766.5,260.5 767.3,256.0 768.4,251.3 769.9,246.4 771.8,241.5 774.0,236.6 776.5,231.7 779.3,226.8 782.4,222.1 785.7,217.5 789.2,213.2 792.9,209.1 796.8,205.3 800.7,201.8 804.7,198.7 808.7,195.9 812.7,193.6 816.6,191.7 820.5,190.3 824.2,189.3 827.8,188.9 831.1,188.9 834.2,189.3 837.1,190.3 839.7,191.7 861.9,207.1 859.3,205.6 856.5,204.7 853.3,204.2 850.0,204.2 846.4,204.7 842.7,205.6 838.9,207.0 834.9,208.9 830.9,211.3 826.9,214.0 822.9,217.1 819.0,220.6 815.2,224.4 811.5,228.5 807.9,232.9 804.6,237.4 801.5,242.1 798.7,247.0 796.2,251.9 794.0,256.8 792.1,261.7 790.6,266.6 789.5,271.3 788.7,275.9 788.4,280.2 788.4,284.3 788.8,288.1 789.7,291.6 790.8,294.8 792.4,297.5 794.3,299.8 796.6,301.7Z" fill="#fff" stroke="#000" stroke-width="1.20"/>
<path d="M861.9,207.1 864.1,209.0 866.1,211.3 867.6,214.0 868.8,217.2 869.6,220.7 870.1,224.5 870.1,228.6 869.7,232.9 869.0,237.5 867.8,242.2 866.3,247.1 864.5,252.0 862.3,256.9 859.7,261.8 856.9,266.7 853.9,271.4 850.5,275.9 847.0,280.3 843.3,284.4 839.5,288.2 835.6,291.7 831.6,294.8 827.6,297.6 823.6,299.9 819.6,301.8 815.8,303.2 812.0,304.2 808.5,304.6 805.1,304.6 802.0,304.1 799.2,303.2 796.6,301.7 794.3,299.8 792.4,297.5 790.8,294.8 789.7,291.6 788.8,288.1 788.4,284.3 788.4,280.2 788.7,275.9 789.5,271.3 790.6,266.6 792.1,261.7 794.0,256.8 796.2,251.9 798.7,247.0 801.5,242.1 804.6,237.4 807.9,232.9 811.5,228.5 815.2,224.4 819.0,220.6 822.9,217.1 826.9,214.0 830.9,211.3 834.9,208.9 838.9,207.0 842.7,205.6 846.4,204.7 850.0,204.2 853.3,204.2 856.5,204.7 859.3,205.6Z" fill="#fff" stroke="#000" stroke-width="1.20"/>
<path d="M850.5,223.5 852.0,224.8 853.3,226.3 854.3,228.1 855.1,230.1 855.6,232.4 855.9,234.9 855.9,237.6 855.6,240.4 855.2,243.4 854.4,246.5 853.4,249.6 852.2,252.8 850.8,256.0 849.1,259.2 847.3,262.4 845.3,265.5 843.1,268.5 840.8,271.3 838.4,274.0 835.9,276.4 833.4,278.7 830.8,280.8 828.1,282.5 825.5,284.1 823.0,285.3 820.5,286.2 818.0,286.8 815.7,287.2 813.5,287.2 811.5,286.8 809.6,286.2 807.9,285.3 806.5,284.0 805.2,282.5 804.2,280.7 803.4,278.7 802.9,276.4 802.6,273.9 802.6,271.2 802.8,268.4 803.3,265.4 804.1,262.3 805.0,259.2 806.3,256.0 807.7,252.8 809.3,249.6 811.2,246.4 813.2,243.3 815.4,240.4 817.7,237.5 820.1,234.9 822.6,232.4 825.1,230.1 827.7,228.1 830.3,226.3 832.9,224.8 835.5,223.5 838.0,222.6 840.5,222.0 842.8,221.7 845.0,221.7 847.0,222.0 848.9,222.6Z" fill="#fff" stroke="#000" stroke-width="1.20"/>
<path d="M849.4,225.2 850.8,226.4 852.0,227.8 852.9,229.5 853.7,231.4 854.2,233.6 854.4,235.9 854.5,238.5 854.2,241.2 853.8,244.0 853.1,246.9 852.1,249.9 851.0,252.9 849.6,256.0 848.1,259.0 846.3,262.0 844.4,264.9 842.4,267.7 840.2,270.4 837.9,272.9 835.6,275.3 833.1,277.4 830.7,279.4 828.2,281.0 825.7,282.5 823.3,283.6 820.9,284.5 818.6,285.1 816.4,285.4 814.4,285.4 812.4,285.1 810.7,284.5 809.1,283.6 807.7,282.5 806.5,281.0 805.5,279.3 804.8,277.4 804.3,275.2 804.0,272.9 804.0,270.3 804.2,267.7 804.7,264.8 805.4,261.9 806.3,258.9 807.5,255.9 808.8,252.9 810.4,249.8 812.1,246.8 814.0,243.9 816.1,241.1 818.3,238.4 820.5,235.9 822.9,233.5 825.3,231.4 827.8,229.5 830.3,227.8 832.7,226.3 835.2,225.2 837.6,224.3 839.9,223.7 842.0,223.4 844.1,223.4 846.0,223.7 847.8,224.3Z" fill="none" stroke="#000" stroke-width="1.20"/>
<path d="M823.4,204.8 824.8,206.0 826.1,207.6 827.1,209.3 827.9,211.4 828.4,213.7 828.7,216.2 828.7,218.8 828.5,221.7 828.0,224.6 827.3,227.7 826.3,230.9 825.1,234.1 823.6,237.3 822.0,240.5 820.1,243.7 818.1,246.7 816.0,249.7 813.7,252.6 811.3,255.2 808.8,257.7 806.2,260.0 803.6,262.0 801.0,263.8 798.4,265.3 795.8,266.6 793.3,267.5 790.9,268.1 788.5,268.4 786.4,268.4 784.3,268.1 782.5,267.5 780.8,266.5 779.3,265.3 778.1,263.8 777.0,262.0 776.3,259.9 775.7,257.7 775.5,255.2 775.4,252.5 775.7,249.7 776.2,246.7 776.9,243.6 777.9,240.5 779.1,237.3 780.5,234.0 782.2,230.8 784.0,227.7 786.0,224.6 788.2,221.6 790.5,218.8 792.9,216.1 795.4,213.6 798.0,211.4 800.6,209.3 803.2,207.5 805.8,206.0 808.4,204.8 810.9,203.9 813.3,203.2 815.6,202.9 817.8,202.9 819.8,203.2 821.7,203.9Z" fill="none" stroke="#000" stroke-width="1.20" clip-path="url(#c8)"/>
<path d="M822.2,206.4 823.6,207.6 824.8,209.1 825.8,210.7 826.5,212.7 827.0,214.8 827.3,217.2 827.3,219.7 827.1,222.4 826.6,225.2 825.9,228.1 825.0,231.1 823.8,234.2 822.5,237.2 820.9,240.2 819.2,243.2 817.3,246.2 815.2,249.0 813.0,251.6 810.8,254.2 808.4,256.5 806.0,258.7 803.5,260.6 801.0,262.3 798.6,263.7 796.1,264.9 793.8,265.8 791.5,266.4 789.3,266.7 787.2,266.7 785.3,266.4 783.5,265.8 781.9,264.9 780.5,263.7 779.3,262.3 778.4,260.6 777.6,258.7 777.1,256.5 776.9,254.1 776.9,251.6 777.1,248.9 777.5,246.1 778.2,243.2 779.2,240.2 780.3,237.2 781.7,234.1 783.2,231.1 785.0,228.1 786.9,225.2 788.9,222.4 791.1,219.7 793.4,217.2 795.8,214.8 798.2,212.6 800.6,210.7 803.1,209.0 805.6,207.6 808.0,206.4 810.4,205.5 812.7,205.0 814.9,204.7 817.0,204.7 818.9,205.0 820.6,205.6Z" fill="none" stroke="#000" stroke-width="1.20" clip-path="url(#c9)"/>
<path d="M913.3,358.0 911.9,356.8 910.6,355.4 909.7,353.6 908.9,351.6 908.4,349.4 908.1,347.0 908.1,344.4 908.3,341.6 908.8,338.7 909.5,335.7 910.5,332.7 911.7,329.5 913.1,326.4 914.7,323.3 916.4,320.2 918.4,317.2 920.5,314.3 922.7,311.6 925.1,309.0 927.5,306.5 930.0,304.3 932.5,302.4 935.1,300.6 937.6,299.1 940.1,297.9 942.6,297.0 944.9,296.4 947.2,296.1 949.3,296.1 951.3,296.4 953.1,297.0 954.7,298.0 975.3,312.2 973.7,311.2 971.9,310.6 969.9,310.3 967.8,310.3 965.5,310.6 963.2,311.2 960.7,312.1 958.2,313.3 955.7,314.8 953.1,316.5 950.6,318.5 948.1,320.7 945.7,323.2 943.3,325.8 941.1,328.5 939.0,331.4 937.0,334.4 935.2,337.5 933.6,340.6 932.2,343.7 931.1,346.9 930.1,349.9 929.4,352.9 928.9,355.8 928.7,358.6 928.7,361.2 929.0,363.6 929.5,365.8 930.2,367.8 931.2,369.6 932.4,371.0 933.9,372.2Z" fill="#fff" stroke="#000" stroke-width="1.20"/>
<path d="M975.3,312.2 976.8,313.4 978.0,314.8 979.0,316.6 979.7,318.6 980.2,320.8 980.5,323.2 980.5,325.8 980.3,328.6 979.8,331.5 979.1,334.5 978.1,337.5 977.0,340.7 975.6,343.8 974.0,346.9 972.2,350.0 970.2,353.0 968.1,355.9 965.9,358.6 963.5,361.2 961.1,363.7 958.6,365.9 956.1,367.9 953.5,369.6 951.0,371.1 948.5,372.3 946.0,373.2 943.7,373.8 941.4,374.1 939.3,374.1 937.3,373.8 935.5,373.2 933.9,372.2 932.4,371.0 931.2,369.6 930.2,367.8 929.5,365.8 929.0,363.6 928.7,361.2 928.7,358.6 928.9,355.8 929.4,352.9 930.1,349.9 931.1,346.9 932.2,343.7 933.6,340.6 935.2,337.5 937.0,334.4 939.0,331.4 941.1,328.5 943.3,325.8 945.7,323.2 948.1,320.7 950.6,318.5 953.1,316.5 955.7,314.8 958.2,313.3 960.7,312.1 963.2,311.2 965.5,310.6 967.8,310.3 969.9,310.3 971.9,310.6 973.7,311.2Z" fill="#fff" stroke="#000" stroke-width="1.30"/>
<path d="M974.2,313.8 975.5,314.9 976.7,316.3 977.6,318.0 978.4,319.9 978.8,322.0 979.1,324.2 979.1,326.7 978.9,329.3 978.4,332.1 977.8,334.9 976.9,337.8 975.7,340.7 974.4,343.7 972.9,346.7 971.2,349.6 969.4,352.4 967.4,355.1 965.3,357.7 963.0,360.2 960.7,362.5 958.4,364.6 956.0,366.4 953.6,368.1 951.2,369.5 948.8,370.6 946.5,371.5 944.3,372.0 942.2,372.3 940.1,372.3 938.3,372.0 936.6,371.5 935.0,370.6 933.7,369.5 932.5,368.1 931.6,366.4 930.8,364.5 930.4,362.4 930.1,360.2 930.1,357.7 930.3,355.1 930.8,352.3 931.4,349.5 932.3,346.6 933.5,343.7 934.8,340.7 936.3,337.7 938.0,334.8 939.8,332.0 941.8,329.3 943.9,326.7 946.2,324.2 948.5,321.9 950.8,319.8 953.2,318.0 955.6,316.3 958.0,314.9 960.4,313.8 962.7,312.9 964.9,312.4 967.0,312.1 969.1,312.1 970.9,312.4 972.6,312.9Z" fill="none" stroke="#000" stroke-width="1.20"/>
<path d="M973.1,315.4 974.3,316.5 975.4,317.8 976.3,319.4 977.0,321.2 977.4,323.1 977.7,325.3 977.7,327.6 977.5,330.1 977.1,332.6 976.4,335.3 975.6,338.1 974.5,340.8 973.3,343.6 971.8,346.4 970.3,349.1 968.5,351.8 966.6,354.4 964.6,356.8 962.6,359.1 960.4,361.3 958.2,363.3 955.9,365.0 953.6,366.6 951.4,367.9 949.2,369.0 947.0,369.8 944.9,370.3 942.9,370.6 941.0,370.6 939.2,370.3 937.6,369.8 936.1,369.0 934.9,367.9 933.8,366.6 932.9,365.0 932.2,363.2 931.8,361.3 931.5,359.1 931.5,356.8 931.7,354.3 932.1,351.8 932.8,349.1 933.6,346.3 934.7,343.6 935.9,340.8 937.4,338.0 938.9,335.3 940.7,332.6 942.6,330.0 944.6,327.6 946.6,325.3 948.8,323.1 951.0,321.1 953.3,319.4 955.6,317.8 957.8,316.5 960.0,315.4 962.2,314.6 964.3,314.1 966.3,313.8 968.2,313.8 970.0,314.1 971.6,314.6Z" fill="none" stroke="#000" stroke-width="1.00"/>
<path d="M971.6,317.5 972.8,318.5 973.8,319.7 974.6,321.1 975.3,322.8 975.7,324.6 975.9,326.6 975.9,328.7 975.7,331.0 975.3,333.4 974.7,335.8 974.0,338.4 973.0,340.9 971.8,343.5 970.5,346.1 969.0,348.6 967.4,351.1 965.7,353.4 963.9,355.7 961.9,357.8 959.9,359.8 957.9,361.7 955.8,363.3 953.7,364.7 951.6,365.9 949.6,366.9 947.6,367.7 945.6,368.2 943.8,368.4 942.0,368.4 940.4,368.1 938.9,367.6 937.6,366.9 936.4,365.9 935.4,364.7 934.6,363.3 933.9,361.6 933.5,359.8 933.3,357.8 933.3,355.7 933.5,353.4 933.9,351.0 934.5,348.6 935.2,346.0 936.2,343.5 937.4,340.9 938.7,338.3 940.2,335.8 941.8,333.3 943.5,331.0 945.3,328.7 947.3,326.6 949.3,324.6 951.3,322.7 953.4,321.1 955.5,319.7 957.6,318.5 959.6,317.5 961.6,316.7 963.6,316.2 965.4,316.0 967.2,316.0 968.8,316.3 970.3,316.8Z" fill="none" stroke="#000" stroke-width="1.00"/>
<path d="M969.4,320.8 970.4,321.7 971.3,322.7 972.0,323.9 972.5,325.4 972.9,326.9 973.1,328.7 973.1,330.5 972.9,332.5 972.6,334.6 972.1,336.7 971.4,338.9 970.5,341.1 969.5,343.3 968.4,345.6 967.1,347.7 965.7,349.9 964.2,351.9 962.6,353.9 961.0,355.8 959.2,357.5 957.5,359.1 955.7,360.5 953.8,361.7 952.0,362.8 950.2,363.6 948.5,364.3 946.8,364.7 945.2,364.9 943.7,364.9 942.3,364.7 941.0,364.3 939.8,363.6 938.8,362.7 937.9,361.7 937.2,360.5 936.7,359.0 936.3,357.5 936.1,355.7 936.1,353.9 936.3,351.9 936.6,349.8 937.1,347.7 937.8,345.5 938.7,343.3 939.7,341.1 940.8,338.8 942.1,336.7 943.5,334.5 945.0,332.5 946.6,330.5 948.2,328.6 950.0,326.9 951.7,325.3 953.5,323.9 955.4,322.7 957.2,321.6 959.0,320.8 960.7,320.1 962.4,319.7 964.0,319.5 965.5,319.5 966.9,319.7 968.2,320.1Z" fill="#fff" stroke="#000" stroke-width="1.30"/>
<g clip-path="url(#c10)">
<path d="M946.0,336.8 962.4,348.2 959.1,353.0 942.7,341.6Z" fill="#fff" stroke="#000" stroke-width="1.00" stroke-linejoin="round"/>
<path d="M949.8,331.3 966.3,342.6 963.0,347.4 946.5,336.0Z" fill="#fff" stroke="#000" stroke-width="1.00" stroke-linejoin="round"/>
<path d="M941.4,341.6 957.9,352.9 954.6,357.7 938.1,346.3Z" fill="#fff" stroke="#000" stroke-width="1.00" stroke-linejoin="round"/>
<path d="M952.6,325.3 969.1,336.7 965.8,341.5 949.3,330.1Z" fill="#fff" stroke="#000" stroke-width="1.00" stroke-linejoin="round"/>
<path d="M954.2,319.6 970.7,331.0 967.4,335.7 950.9,324.4Z" fill="#fff" stroke="#000" stroke-width="1.00" stroke-linejoin="round"/>
<path d="M936.6,345.1 953.1,356.4 949.8,361.2 933.3,349.9Z" fill="#fff" stroke="#000" stroke-width="1.00" stroke-linejoin="round"/>
<path d="M932.0,347.1 948.4,358.4 945.1,363.2 928.7,351.8Z" fill="#fff" stroke="#000" stroke-width="1.00" stroke-linejoin="round"/>
<path d="M954.4,314.5 970.9,325.9 967.6,330.7 951.1,319.3Z" fill="#fff" stroke="#000" stroke-width="1.00" stroke-linejoin="round"/>
<path d="M953.2,310.6 969.6,321.9 966.3,326.7 949.9,315.3Z" fill="#fff" stroke="#000" stroke-width="1.00" stroke-linejoin="round"/>
<path d="M927.8,347.3 944.3,358.7 941.0,363.5 924.5,352.1Z" fill="#fff" stroke="#000" stroke-width="1.00" stroke-linejoin="round"/>
<path d="M924.6,345.9 941.0,357.2 937.7,362.0 921.3,350.6Z" fill="#fff" stroke="#000" stroke-width="1.00" stroke-linejoin="round"/>
<path d="M950.7,308.1 967.1,319.4 963.8,324.2 947.4,312.8Z" fill="#fff" stroke="#000" stroke-width="1.00" stroke-linejoin="round"/>
<path d="M922.5,342.8 939.0,354.1 935.7,358.9 919.2,347.6Z" fill="#fff" stroke="#000" stroke-width="1.00" stroke-linejoin="round"/>
<path d="M947.0,307.2 963.5,318.6 960.2,323.3 943.7,312.0Z" fill="#fff" stroke="#000" stroke-width="1.00" stroke-linejoin="round"/>
</g>
<circle cx="968.3" cy="320.6" r="1.3" fill="#000"/>
<circle cx="971.3" cy="325.1" r="1.3" fill="#000"/>
<circle cx="971.7" cy="332.1" r="1.3" fill="#000"/>
<circle cx="969.4" cy="340.6" r="1.3" fill="#000"/>
<circle cx="964.7" cy="349.2" r="1.3" fill="#000"/>
<circle cx="958.3" cy="356.6" r="1.3" fill="#000"/>
<circle cx="951.3" cy="361.8" r="1.3" fill="#000"/>
<circle cx="944.6" cy="363.9" r="1.3" fill="#000"/>
<circle cx="939.3" cy="362.6" r="1.3" fill="#000"/>
<circle cx="936.2" cy="358.1" r="1.3" fill="#000"/>
<circle cx="935.8" cy="351.2" r="1.3" fill="#000"/>
<circle cx="938.2" cy="342.7" r="1.3" fill="#000"/>
<circle cx="942.9" cy="334.1" r="1.3" fill="#000"/>
<circle cx="949.2" cy="326.6" r="1.3" fill="#000"/>
<circle cx="956.3" cy="321.5" r="1.3" fill="#000"/>
<circle cx="963.0" cy="319.4" r="1.3" fill="#000"/>
<path d="M670.1,452.5 668.9,451.6 682.1,460.7 683.3,461.6Z" fill="#fff" stroke="#000" stroke-width="1.20" stroke-linejoin="round"/>
<path d="M700.4,405.7 701.7,406.5 714.9,415.6 713.6,414.8Z" fill="#fff" stroke="#000" stroke-width="1.20" stroke-linejoin="round"/>
<path d="M677.9,442.9 675.1,439.8 688.2,448.8 691.0,452.0Z" fill="#fff" stroke="#000" stroke-width="1.20" stroke-linejoin="round"/>
<path d="M691.6,415.7 695.6,417.1 708.8,426.2 704.8,424.8Z" fill="#fff" stroke="#000" stroke-width="1.20" stroke-linejoin="round"/>
<path d="M668.9,451.6 667.3,447.2 680.4,456.2 682.1,460.7Z" fill="#fff" stroke="#000" stroke-width="1.20" stroke-linejoin="round"/>
<path d="M695.7,405.8 700.4,405.7 713.6,414.8 708.9,414.9Z" fill="#fff" stroke="#000" stroke-width="1.20" stroke-linejoin="round"/>
<path d="M660.5,459.9 659.7,458.4 672.9,467.5 673.6,468.9Z" fill="#fff" stroke="#000" stroke-width="1.20" stroke-linejoin="round"/>
<path d="M703.5,394.7 705.1,394.9 718.3,403.9 716.6,403.7Z" fill="#fff" stroke="#000" stroke-width="1.20" stroke-linejoin="round"/>
<path d="M659.7,458.4 659.2,453.0 672.4,462.0 672.9,467.5Z" fill="#fff" stroke="#000" stroke-width="1.20" stroke-linejoin="round"/>
<path d="M698.2,396.2 703.5,394.7 716.6,403.7 711.3,405.3Z" fill="#fff" stroke="#000" stroke-width="1.20" stroke-linejoin="round"/>
<path d="M650.9,465.0 650.5,463.2 663.7,472.2 664.0,474.1Z" fill="#fff" stroke="#000" stroke-width="1.20" stroke-linejoin="round"/>
<path d="M704.6,384.4 706.4,384.1 719.6,393.2 717.7,393.5Z" fill="#fff" stroke="#000" stroke-width="1.20" stroke-linejoin="round"/>
<path d="M650.5,463.2 651.3,456.9 664.4,466.0 663.7,472.2Z" fill="#fff" stroke="#000" stroke-width="1.20" stroke-linejoin="round"/>
<path d="M699.0,387.4 704.6,384.4 717.7,393.5 712.1,396.5Z" fill="#fff" stroke="#000" stroke-width="1.20" stroke-linejoin="round"/>
<path d="M641.8,467.7 641.9,465.5 655.0,474.6 654.9,476.8Z" fill="#fff" stroke="#000" stroke-width="1.20" stroke-linejoin="round"/>
<path d="M703.6,375.6 705.6,374.7 718.8,383.8 716.8,384.6Z" fill="#fff" stroke="#000" stroke-width="1.20" stroke-linejoin="round"/>
<path d="M641.9,465.5 643.8,458.8 657.0,467.9 655.0,474.6Z" fill="#fff" stroke="#000" stroke-width="1.20" stroke-linejoin="round"/>
<path d="M698.0,379.8 703.6,375.6 716.8,384.6 711.2,388.9Z" fill="#fff" stroke="#000" stroke-width="1.20" stroke-linejoin="round"/>
<path d="M633.6,467.9 634.1,465.5 647.3,474.5 646.8,476.9Z" fill="#fff" stroke="#000" stroke-width="1.20" stroke-linejoin="round"/>
<path d="M700.7,368.4 702.8,367.1 716.0,376.2 713.9,377.5Z" fill="#fff" stroke="#000" stroke-width="1.20" stroke-linejoin="round"/>
<path d="M634.1,465.5 637.2,458.5 650.3,467.6 647.3,474.5Z" fill="#fff" stroke="#000" stroke-width="1.20" stroke-linejoin="round"/>
<path d="M695.3,373.8 700.7,368.4 713.9,377.5 708.5,382.9Z" fill="#fff" stroke="#000" stroke-width="1.20" stroke-linejoin="round"/>
<path d="M626.7,465.4 627.7,462.9 640.9,472.0 639.9,474.5Z" fill="#fff" stroke="#000" stroke-width="1.20" stroke-linejoin="round"/>
<path d="M696.0,363.4 698.0,361.6 711.2,370.7 709.2,372.5Z" fill="#fff" stroke="#000" stroke-width="1.20" stroke-linejoin="round"/>
<path d="M627.7,462.9 631.7,456.1 644.8,465.2 640.9,472.0Z" fill="#fff" stroke="#000" stroke-width="1.20" stroke-linejoin="round"/>
<path d="M691.1,369.6 696.0,363.4 709.2,372.5 704.3,378.7Z" fill="#fff" stroke="#000" stroke-width="1.20" stroke-linejoin="round"/>
<path d="M631.7,456.1 629.9,454.6 643.0,463.7 644.8,465.2Z" fill="#fff" stroke="#000" stroke-width="1.20" stroke-linejoin="round"/>
<path d="M689.0,368.4 691.1,369.6 704.3,378.7 702.2,377.5Z" fill="#fff" stroke="#000" stroke-width="1.20" stroke-linejoin="round"/>
<path d="M622.6,462.0 621.5,460.6 634.7,469.7 635.8,471.0Z" fill="#fff" stroke="#000" stroke-width="1.20" stroke-linejoin="round"/>
<path d="M691.6,358.6 693.3,359.1 706.4,368.1 704.7,367.6Z" fill="#fff" stroke="#000" stroke-width="1.20" stroke-linejoin="round"/>
<path d="M621.5,460.6 622.8,458.1 636.0,467.2 634.7,469.7Z" fill="#fff" stroke="#000" stroke-width="1.20" stroke-linejoin="round"/>
<path d="M622.8,458.1 627.6,451.7 640.8,460.8 636.0,467.2Z" fill="#fff" stroke="#000" stroke-width="1.20" stroke-linejoin="round"/>
<path d="M685.5,367.4 689.7,360.7 702.9,369.8 698.7,376.5Z" fill="#fff" stroke="#000" stroke-width="1.20" stroke-linejoin="round"/>
<path d="M689.7,360.7 691.6,358.6 704.7,367.6 702.9,369.8Z" fill="#fff" stroke="#000" stroke-width="1.20" stroke-linejoin="round"/>
<path d="M627.6,451.7 626.4,449.4 639.6,458.5 640.8,460.8Z" fill="#fff" stroke="#000" stroke-width="1.20" stroke-linejoin="round"/>
<path d="M682.9,367.1 685.5,367.4 698.7,376.5 696.1,376.2Z" fill="#fff" stroke="#000" stroke-width="1.20" stroke-linejoin="round"/>
<path d="M618.8,455.4 618.2,453.5 631.3,462.6 632.0,464.5Z" fill="#fff" stroke="#000" stroke-width="1.20" stroke-linejoin="round"/>
<path d="M619.8,451.1 625.1,445.5 638.3,454.6 633.0,460.2Z" fill="#fff" stroke="#000" stroke-width="1.20" stroke-linejoin="round"/>
<path d="M683.7,358.0 685.7,357.9 698.9,367.0 696.9,367.1Z" fill="#fff" stroke="#000" stroke-width="1.20" stroke-linejoin="round"/>
<path d="M678.8,367.4 682.1,360.4 695.2,369.5 691.9,376.4Z" fill="#fff" stroke="#000" stroke-width="1.20" stroke-linejoin="round"/>
<path d="M625.1,445.5 624.6,442.6 637.7,451.7 638.3,454.6Z" fill="#fff" stroke="#000" stroke-width="1.20" stroke-linejoin="round"/>
<path d="M618.2,453.5 619.8,451.1 633.0,460.2 631.3,462.6Z" fill="#fff" stroke="#000" stroke-width="1.20" stroke-linejoin="round"/>
<path d="M675.8,367.9 678.8,367.4 691.9,376.4 689.0,377.0Z" fill="#fff" stroke="#000" stroke-width="1.20" stroke-linejoin="round"/>
<path d="M682.1,360.4 683.7,358.0 696.9,367.1 695.2,369.5Z" fill="#fff" stroke="#000" stroke-width="1.20" stroke-linejoin="round"/>
<path d="M624.3,437.8 624.5,434.3 637.6,443.4 637.5,446.9Z" fill="#fff" stroke="#000" stroke-width="1.20" stroke-linejoin="round"/>
<path d="M618.7,442.4 624.3,437.8 637.5,446.9 631.9,451.4Z" fill="#fff" stroke="#000" stroke-width="1.20" stroke-linejoin="round"/>
<path d="M668.1,370.9 671.2,369.4 684.4,378.5 681.2,379.9Z" fill="#fff" stroke="#000" stroke-width="1.20" stroke-linejoin="round"/>
<path d="M671.2,369.4 673.5,362.6 686.6,371.7 684.4,378.5Z" fill="#fff" stroke="#000" stroke-width="1.20" stroke-linejoin="round"/>
<path d="M617.0,446.8 616.8,444.5 630.0,453.6 630.1,455.9Z" fill="#fff" stroke="#000" stroke-width="1.20" stroke-linejoin="round"/>
<path d="M674.8,360.1 677.0,359.4 690.2,368.5 688.0,369.2Z" fill="#fff" stroke="#000" stroke-width="1.20" stroke-linejoin="round"/>
<path d="M616.8,444.5 618.7,442.4 631.9,451.4 630.0,453.6Z" fill="#fff" stroke="#000" stroke-width="1.20" stroke-linejoin="round"/>
<path d="M673.5,362.6 674.8,360.1 688.0,369.2 686.6,371.7Z" fill="#fff" stroke="#000" stroke-width="1.20" stroke-linejoin="round"/>
<path d="M625.3,428.9 626.1,425.1 639.3,434.2 638.4,438.0Z" fill="#fff" stroke="#000" stroke-width="1.20" stroke-linejoin="round"/>
<path d="M660.0,375.8 663.2,373.6 676.4,382.7 673.2,384.8Z" fill="#fff" stroke="#000" stroke-width="1.20" stroke-linejoin="round"/>
<path d="M619.6,432.2 625.3,428.9 638.4,438.0 632.8,441.3Z" fill="#fff" stroke="#000" stroke-width="1.20" stroke-linejoin="round"/>
<path d="M663.2,373.6 664.3,367.1 677.5,376.2 676.4,382.7Z" fill="#fff" stroke="#000" stroke-width="1.20" stroke-linejoin="round"/>
<path d="M617.2,436.7 617.6,434.1 630.8,443.2 630.4,445.8Z" fill="#fff" stroke="#000" stroke-width="1.20" stroke-linejoin="round"/>
<path d="M665.3,364.6 667.6,363.3 680.8,372.4 678.5,373.7Z" fill="#fff" stroke="#000" stroke-width="1.20" stroke-linejoin="round"/>
<path d="M617.6,434.1 619.6,432.2 632.8,441.3 630.8,443.2Z" fill="#fff" stroke="#000" stroke-width="1.20" stroke-linejoin="round"/>
<path d="M664.3,367.1 665.3,364.6 678.5,373.7 677.5,376.2Z" fill="#fff" stroke="#000" stroke-width="1.20" stroke-linejoin="round"/>
<path d="M627.9,419.3 629.4,415.3 642.6,424.4 641.1,428.3Z" fill="#fff" stroke="#000" stroke-width="1.20" stroke-linejoin="round"/>
<path d="M652.0,382.4 655.2,379.5 668.4,388.6 665.2,391.5Z" fill="#fff" stroke="#000" stroke-width="1.20" stroke-linejoin="round"/>
<path d="M622.5,421.2 627.9,419.3 641.1,428.3 635.7,430.3Z" fill="#fff" stroke="#000" stroke-width="1.20" stroke-linejoin="round"/>
<path d="M655.2,379.5 655.0,373.8 668.2,382.9 668.4,388.6Z" fill="#fff" stroke="#000" stroke-width="1.20" stroke-linejoin="round"/>
<path d="M632.2,409.3 634.2,405.4 647.4,414.5 645.3,418.4Z" fill="#fff" stroke="#000" stroke-width="1.20" stroke-linejoin="round"/>
<path d="M644.5,390.5 647.4,387.1 660.6,396.2 657.7,399.5Z" fill="#fff" stroke="#000" stroke-width="1.20" stroke-linejoin="round"/>
<path d="M637.8,399.6 640.3,395.8 653.5,404.9 650.9,408.7Z" fill="#fff" stroke="#000" stroke-width="1.20" stroke-linejoin="round"/>
<path d="M620.5,422.6 622.5,421.2 635.7,430.3 633.6,431.7Z" fill="#fff" stroke="#000" stroke-width="1.20" stroke-linejoin="round"/>
<path d="M619.6,425.4 620.5,422.6 633.6,431.7 632.8,434.5Z" fill="#fff" stroke="#000" stroke-width="1.20" stroke-linejoin="round"/>
<path d="M655.0,373.8 655.6,371.4 668.8,380.5 668.2,382.9Z" fill="#fff" stroke="#000" stroke-width="1.20" stroke-linejoin="round"/>
<path d="M655.6,371.4 657.9,369.6 671.1,378.7 668.8,380.5Z" fill="#fff" stroke="#000" stroke-width="1.20" stroke-linejoin="round"/>
<path d="M627.2,409.8 632.2,409.3 645.3,418.4 640.4,418.9Z" fill="#fff" stroke="#000" stroke-width="1.20" stroke-linejoin="round"/>
<path d="M647.4,387.1 646.1,382.3 659.3,391.4 660.6,396.2Z" fill="#fff" stroke="#000" stroke-width="1.20" stroke-linejoin="round"/>
<path d="M633.6,398.6 637.8,399.6 650.9,408.7 646.7,407.6Z" fill="#fff" stroke="#000" stroke-width="1.20" stroke-linejoin="round"/>
<path d="M640.3,395.8 637.8,392.3 651.0,401.4 653.5,404.9Z" fill="#fff" stroke="#000" stroke-width="1.20" stroke-linejoin="round"/>
<path d="M625.0,414.6 623.9,413.6 637.1,422.7 638.2,423.7Z" fill="#fff" stroke="#000" stroke-width="1.20" stroke-linejoin="round"/>
<path d="M648.4,377.9 649.8,378.6 663.0,387.7 661.6,387.0Z" fill="#fff" stroke="#000" stroke-width="1.20" stroke-linejoin="round"/>
<path d="M625.2,410.7 627.2,409.8 640.4,418.9 638.4,419.8Z" fill="#fff" stroke="#000" stroke-width="1.20" stroke-linejoin="round"/>
<path d="M646.1,382.3 646.2,380.1 659.4,389.2 659.3,391.4Z" fill="#fff" stroke="#000" stroke-width="1.20" stroke-linejoin="round"/>
<path d="M623.9,413.6 625.2,410.7 638.4,419.8 637.1,422.7Z" fill="#fff" stroke="#000" stroke-width="1.20" stroke-linejoin="round"/>
<path d="M646.2,380.1 648.4,377.9 661.6,387.0 659.4,389.2Z" fill="#fff" stroke="#000" stroke-width="1.20" stroke-linejoin="round"/>
<path d="M630.7,403.2 630.0,401.7 643.2,410.8 643.9,412.3Z" fill="#fff" stroke="#000" stroke-width="1.20" stroke-linejoin="round"/>
<path d="M639.5,387.8 641.2,388.0 654.4,397.1 652.7,396.9Z" fill="#fff" stroke="#000" stroke-width="1.20" stroke-linejoin="round"/>
<path d="M631.7,399.0 633.6,398.6 646.7,407.6 644.8,408.0Z" fill="#fff" stroke="#000" stroke-width="1.20" stroke-linejoin="round"/>
<path d="M637.8,392.3 637.5,390.4 650.7,399.5 651.0,401.4Z" fill="#fff" stroke="#000" stroke-width="1.20" stroke-linejoin="round"/>
<path d="M630.0,401.7 631.7,399.0 644.8,408.0 643.2,410.8Z" fill="#fff" stroke="#000" stroke-width="1.20" stroke-linejoin="round"/>
<path d="M637.5,390.4 639.5,387.8 652.7,396.9 650.7,399.5Z" fill="#fff" stroke="#000" stroke-width="1.20" stroke-linejoin="round"/>
<path d="M704.3,378.7 709.2,372.5 711.2,370.7 712.5,371.8 711.4,374.3 707.0,380.9 708.5,382.9 713.9,377.5 716.0,376.2 716.8,377.8 715.4,380.3 710.3,386.3 711.2,388.9 716.8,384.6 718.8,383.8 719.2,385.9 717.4,388.2 712.0,393.3 712.1,396.5 717.7,393.5 719.6,393.2 719.5,395.7 717.5,397.7 711.9,401.7 711.3,405.3 716.6,403.7 718.3,403.9 717.6,406.7 715.6,408.3 710.0,411.0 708.9,414.9 713.6,414.8 714.9,415.6 713.8,418.4 711.8,419.6 706.6,420.8 704.8,424.8 708.8,426.2 709.7,427.5 708.2,430.3 706.2,431.0 701.6,430.7 699.3,434.6 702.3,437.4 702.8,439.1 701.0,441.8 699.2,442.0 695.4,440.2 692.6,443.8 694.6,447.9 694.7,450.0 692.6,452.4 691.0,452.0 688.2,448.8 685.2,452.0 685.9,457.2 685.6,459.6 683.3,461.6 682.1,460.7 680.4,456.2 677.2,458.8 676.8,464.9 676.0,467.4 673.6,468.9 672.9,467.5 672.4,462.0 669.2,463.9 667.5,470.5 666.3,473.1 664.0,474.1 663.7,472.2 664.4,466.0 661.4,467.0 658.6,473.9 657.1,476.4 654.9,476.8 655.0,474.6 657.0,467.9 654.2,468.0 650.4,474.9 648.6,477.1 646.8,476.9 647.3,474.5 650.3,467.6 648.0,466.9 643.4,473.4 641.4,475.3 639.9,474.5 640.9,472.0 644.8,465.2 643.0,463.7 637.8,469.5 635.8,471.0 634.7,469.7 636.0,467.2 640.8,460.8 639.6,458.5 634.0,463.4 632.0,464.5 631.3,462.6 633.0,460.2 638.3,454.6 637.7,451.7 632.1,455.3 630.1,455.9 630.0,453.6 631.9,451.4 637.5,446.9 637.6,443.4 632.2,445.7 630.4,445.8 630.8,443.2 632.8,441.3 638.4,438.0 639.3,434.2 634.2,435.0 632.8,434.5 633.6,431.7 635.7,430.3 641.1,428.3 642.6,424.4 638.2,423.7 637.1,422.7 638.4,419.8 640.4,418.9 645.3,418.4 647.4,414.5 643.9,412.3 643.2,410.8 644.8,408.0 646.7,407.6 650.9,408.7 653.5,404.9 651.0,401.4 650.7,399.5 652.7,396.9 654.4,397.1 657.7,399.5 660.6,396.2 659.3,391.4 659.4,389.2 661.6,387.0 663.0,387.7 665.2,391.5 668.4,388.6 668.2,382.9 668.8,380.5 671.1,378.7 672.1,379.9 673.2,384.8 676.4,382.7 677.5,376.2 678.5,373.7 680.8,372.4 681.4,374.0 681.2,379.9 684.4,378.5 686.6,371.7 688.0,369.2 690.2,368.5 690.3,370.5 689.0,377.0 691.9,376.4 695.2,369.5 696.9,367.1 698.9,367.0 698.6,369.3 696.1,376.2 698.7,376.5 702.9,369.8 704.7,367.6 706.4,368.1 705.7,370.6 702.2,377.5Z" fill="#fff" stroke="#000" stroke-width="1.20" stroke-linejoin="round"/>
<path d="M703.5,380.5 705.5,382.2 707.1,384.2 708.5,386.7 709.6,389.4 710.3,392.5 710.7,395.8 710.7,399.4 710.4,403.3 709.7,407.3 708.7,411.4 707.4,415.7 705.7,420.0 703.8,424.3 701.6,428.6 699.1,432.9 696.4,437.0 693.5,441.0 690.4,444.8 687.2,448.4 683.8,451.8 680.3,454.8 676.8,457.6 673.3,460.0 669.8,462.0 666.3,463.7 663.0,464.9 659.7,465.8 656.6,466.2 653.6,466.2 650.9,465.8 648.4,464.9 646.1,463.7 644.1,462.0 642.5,460.0 641.1,457.5 640.0,454.8 639.3,451.7 638.9,448.4 638.9,444.8 639.2,440.9 639.9,436.9 640.9,432.8 642.2,428.5 643.9,424.2 645.8,419.9 648.0,415.6 650.5,411.3 653.2,407.2 656.1,403.2 659.2,399.4 662.4,395.8 665.8,392.4 669.3,389.4 672.8,386.6 676.3,384.2 679.8,382.2 683.3,380.5 686.6,379.3 689.9,378.4 693.0,378.0 696.0,378.0 698.7,378.4 701.2,379.3Z" fill="none" stroke="#000" stroke-width="1.00"/>
<path d="M702.5,381.9 704.4,383.5 706.1,385.5 707.4,387.8 708.4,390.5 709.1,393.5 709.4,396.7 709.5,400.2 709.2,403.9 708.5,407.8 707.6,411.8 706.3,415.9 704.7,420.0 702.8,424.2 700.7,428.4 698.3,432.5 695.7,436.5 692.9,440.4 689.9,444.1 686.7,447.5 683.5,450.8 680.2,453.7 676.8,456.4 673.4,458.7 670.0,460.7 666.6,462.3 663.4,463.5 660.2,464.3 657.2,464.7 654.3,464.7 651.7,464.3 649.3,463.5 647.1,462.3 645.2,460.7 643.5,458.7 642.2,456.4 641.2,453.7 640.5,450.7 640.2,447.5 640.1,444.0 640.4,440.3 641.1,436.4 642.0,432.4 643.3,428.3 644.9,424.2 646.8,420.0 648.9,415.8 651.3,411.7 653.9,407.7 656.7,403.8 659.7,400.1 662.9,396.7 666.1,393.4 669.4,390.5 672.8,387.8 676.2,385.5 679.6,383.5 683.0,381.9 686.2,380.7 689.4,379.9 692.4,379.5 695.3,379.5 697.9,379.9 700.3,380.7Z" fill="none" stroke="#000" stroke-width="1.00"/>
<path d="M701.6,383.2 703.5,384.8 705.0,386.7 706.3,389.0 707.3,391.5 708.0,394.4 708.3,397.5 708.3,400.9 708.0,404.5 707.4,408.2 706.5,412.1 705.3,416.1 703.7,420.1 701.9,424.2 699.8,428.2 697.5,432.2 695.0,436.0 692.3,439.8 689.4,443.3 686.4,446.7 683.2,449.8 680.0,452.7 676.7,455.3 673.4,457.5 670.1,459.4 666.9,461.0 663.7,462.1 660.7,462.9 657.8,463.3 655.0,463.3 652.5,462.9 650.1,462.1 648.0,461.0 646.1,459.4 644.6,457.5 643.3,455.2 642.3,452.7 641.6,449.8 641.3,446.7 641.3,443.3 641.6,439.7 642.2,436.0 643.1,432.1 644.3,428.1 645.9,424.1 647.7,420.0 649.8,416.0 652.1,412.0 654.6,408.2 657.3,404.4 660.2,400.9 663.2,397.5 666.4,394.4 669.6,391.5 672.9,388.9 676.2,386.7 679.5,384.8 682.7,383.2 685.9,382.1 688.9,381.3 691.8,380.9 694.6,380.9 697.1,381.3 699.5,382.1Z" fill="none" stroke="#000" stroke-width="1.00"/>
<path d="M661.5,436.0 660.8,435.4 660.2,434.6 659.6,433.7 659.3,432.7 659.0,431.5 658.8,430.3 658.8,428.9 659.0,427.5 659.2,426.0 659.6,424.4 660.1,422.8 660.7,421.2 661.4,419.6 662.2,417.9 663.2,416.3 664.2,414.8 665.3,413.3 666.5,411.8 667.7,410.5 668.9,409.2 670.2,408.1 671.6,407.0 672.9,406.1 674.2,405.4 675.5,404.7 676.8,404.3 678.0,404.0 679.2,403.8 680.3,403.8 681.3,404.0 682.3,404.3 683.1,404.8 685.2,406.2 684.3,405.7 683.4,405.4 682.4,405.2 681.2,405.2 680.1,405.4 678.8,405.7 677.6,406.2 676.3,406.8 674.9,407.6 673.6,408.5 672.3,409.5 671.0,410.6 669.7,411.9 668.5,413.3 667.4,414.7 666.3,416.2 665.2,417.8 664.3,419.4 663.5,421.0 662.7,422.6 662.1,424.2 661.6,425.8 661.3,427.4 661.0,428.9 660.9,430.3 660.9,431.7 661.0,433.0 661.3,434.1 661.7,435.2 662.2,436.1 662.9,436.8 663.6,437.5Z" fill="#fff" stroke="#000" stroke-width="1.20"/>
<path d="M685.2,406.2 685.9,406.8 686.6,407.6 687.1,408.5 687.5,409.5 687.7,410.7 687.9,411.9 687.9,413.3 687.8,414.7 687.5,416.2 687.1,417.8 686.6,419.4 686.0,421.0 685.3,422.6 684.5,424.3 683.5,425.9 682.5,427.4 681.4,428.9 680.3,430.4 679.0,431.7 677.8,433.0 676.5,434.1 675.2,435.2 673.8,436.1 672.5,436.8 671.2,437.5 669.9,437.9 668.7,438.3 667.5,438.4 666.4,438.4 665.4,438.2 664.4,437.9 663.6,437.5 662.9,436.8 662.2,436.1 661.7,435.2 661.3,434.1 661.0,433.0 660.9,431.7 660.9,430.3 661.0,428.9 661.3,427.4 661.6,425.8 662.1,424.2 662.7,422.6 663.5,421.0 664.3,419.4 665.2,417.8 666.3,416.2 667.4,414.7 668.5,413.3 669.7,411.9 671.0,410.6 672.3,409.5 673.6,408.5 674.9,407.6 676.3,406.8 677.6,406.2 678.8,405.7 680.1,405.4 681.2,405.2 682.4,405.2 683.4,405.4 684.3,405.7Z" fill="#fff" stroke="#000" stroke-width="1.20"/>
<path d="M664.7,435.8 664.1,435.2 663.5,434.6 663.0,433.7 662.7,432.8 662.4,431.8 662.3,430.7 662.3,429.4 662.4,428.2 662.6,426.8 663.0,425.4 663.4,424.0 664.0,422.5 664.6,421.1 665.4,419.6 666.2,418.2 667.1,416.8 668.1,415.4 669.1,414.2 670.2,413.0 671.4,411.8 672.5,410.8 673.7,409.9 674.9,409.1 676.1,408.4 677.2,407.8 678.4,407.4 679.5,407.1 680.5,407.0 681.5,407.0 682.4,407.1 683.3,407.4 684.0,407.8 688.6,410.9 687.8,410.5 687.0,410.2 686.0,410.1 685.0,410.1 684.0,410.2 682.9,410.5 681.8,410.9 680.6,411.5 679.4,412.2 678.2,413.0 677.0,413.9 675.9,414.9 674.8,416.1 673.7,417.3 672.6,418.6 671.6,419.9 670.7,421.3 669.9,422.7 669.2,424.2 668.5,425.7 667.9,427.1 667.5,428.5 667.2,429.9 666.9,431.3 666.8,432.6 666.8,433.8 667.0,434.9 667.2,435.9 667.6,436.9 668.0,437.7 668.6,438.4 669.3,438.9Z" fill="#fff" stroke="#000" stroke-width="1.20"/>
<path d="M688.6,410.9 689.2,411.5 689.8,412.2 690.3,413.0 690.6,413.9 690.9,415.0 691.0,416.1 691.0,417.3 690.9,418.6 690.7,419.9 690.3,421.3 689.9,422.8 689.3,424.2 688.7,425.7 687.9,427.1 687.1,428.6 686.2,430.0 685.2,431.3 684.2,432.6 683.1,433.8 681.9,434.9 680.8,436.0 679.6,436.9 678.4,437.7 677.2,438.4 676.1,438.9 674.9,439.4 673.8,439.6 672.8,439.8 671.8,439.8 670.9,439.6 670.0,439.4 669.3,438.9 668.6,438.4 668.0,437.7 667.6,436.9 667.2,435.9 667.0,434.9 666.8,433.8 666.8,432.6 666.9,431.3 667.2,429.9 667.5,428.5 667.9,427.1 668.5,425.7 669.2,424.2 669.9,422.7 670.7,421.3 671.6,419.9 672.6,418.6 673.7,417.3 674.8,416.1 675.9,414.9 677.0,413.9 678.2,413.0 679.4,412.2 680.6,411.5 681.8,410.9 682.9,410.5 684.0,410.2 685.0,410.1 686.0,410.1 687.0,410.2 687.8,410.5Z" fill="#fff" stroke="#000" stroke-width="1.20"/>
<path d="M685.2,415.9 685.6,416.2 686.0,416.7 686.3,417.2 686.5,417.8 686.6,418.5 686.7,419.2 686.7,420.0 686.7,420.8 686.5,421.7 686.3,422.6 686.0,423.5 685.7,424.5 685.2,425.4 684.8,426.4 684.2,427.3 683.6,428.2 683.0,429.1 682.3,429.9 681.6,430.7 680.9,431.4 680.1,432.1 679.4,432.7 678.6,433.2 677.8,433.6 677.1,434.0 676.3,434.3 675.6,434.5 674.9,434.5 674.3,434.5 673.7,434.5 673.2,434.3 672.7,434.0 672.2,433.6 671.9,433.2 671.6,432.7 671.3,432.1 671.2,431.4 671.1,430.7 671.1,429.9 671.2,429.0 671.3,428.2 671.5,427.3 671.8,426.3 672.2,425.4 672.6,424.5 673.1,423.5 673.6,422.6 674.2,421.7 674.8,420.8 675.5,420.0 676.2,419.2 677.0,418.5 677.7,417.8 678.5,417.2 679.2,416.7 680.0,416.2 680.8,415.9 681.5,415.6 682.2,415.4 682.9,415.3 683.5,415.3 684.1,415.4 684.7,415.6Z" fill="#fff" stroke="#000" stroke-width="1.20"/>
<path d="M675.3,409.1 675.7,409.4 676.1,409.9 676.4,410.4 676.6,411.0 676.8,411.7 676.8,412.4 676.9,413.2 676.8,414.0 676.6,414.9 676.4,415.8 676.1,416.7 675.8,417.7 675.4,418.6 674.9,419.5 674.3,420.5 673.7,421.4 673.1,422.2 672.4,423.1 671.7,423.9 671.0,424.6 670.2,425.3 669.5,425.9 668.7,426.4 668.0,426.8 667.2,427.2 666.5,427.5 665.7,427.6 665.1,427.7 664.4,427.7 663.8,427.6 663.3,427.5 662.8,427.2 662.4,426.8 662.0,426.4 661.7,425.8 661.5,425.2 661.3,424.6 661.2,423.8 661.2,423.1 661.3,422.2 661.4,421.4 661.7,420.5 661.9,419.5 662.3,418.6 662.7,417.6 663.2,416.7 663.7,415.8 664.3,414.9 665.0,414.0 665.6,413.2 666.3,412.4 667.1,411.7 667.8,411.0 668.6,410.4 669.4,409.9 670.1,409.4 670.9,409.1 671.6,408.8 672.3,408.6 673.0,408.5 673.6,408.5 674.2,408.6 674.8,408.8Z" fill="none" stroke="#000" stroke-width="1.60" clip-path="url(#c11)"/>
<path d="M530.0,332.3 529.7,331.9 529.3,331.6 529.1,331.1 528.9,330.6 528.8,330.1 528.7,329.4 528.7,328.8 528.8,328.1 528.9,327.3 529.1,326.6 529.3,325.8 529.6,325.0 530.0,324.2 530.4,323.4 530.8,322.6 531.3,321.9 531.9,321.1 532.4,320.4 533.0,319.7 533.6,319.1 534.3,318.6 534.9,318.1 535.6,317.6 536.2,317.2 536.9,316.9 537.5,316.7 538.1,316.6 538.7,316.5 539.2,316.5 539.7,316.6 540.2,316.7 540.6,316.9 604.0,360.7 603.5,360.4 603.1,360.3 602.6,360.2 602.0,360.2 601.5,360.3 600.9,360.4 600.2,360.7 599.6,361.0 599.0,361.3 598.3,361.8 597.7,362.3 597.0,362.9 596.4,363.5 595.8,364.1 595.2,364.8 594.7,365.6 594.2,366.3 593.7,367.1 593.3,367.9 593.0,368.7 592.7,369.5 592.4,370.3 592.3,371.1 592.1,371.8 592.1,372.5 592.1,373.2 592.1,373.8 592.3,374.3 592.5,374.9 592.7,375.3 593.0,375.7 593.4,376.0Z" fill="#fff" stroke="#000" stroke-width="1.20"/>
<path d="M604.0,360.7 604.3,361.0 604.6,361.4 604.9,361.8 605.1,362.3 605.2,362.9 605.3,363.5 605.3,364.1 605.2,364.9 605.1,365.6 604.9,366.4 604.7,367.1 604.4,367.9 604.0,368.7 603.6,369.5 603.2,370.3 602.7,371.1 602.1,371.8 601.6,372.5 601.0,373.2 600.3,373.8 599.7,374.4 599.1,374.9 598.4,375.3 597.8,375.7 597.1,376.0 596.5,376.2 595.9,376.4 595.3,376.4 594.8,376.4 594.3,376.4 593.8,376.2 593.4,376.0 593.0,375.7 592.7,375.3 592.5,374.9 592.3,374.3 592.1,373.8 592.1,373.2 592.1,372.5 592.1,371.8 592.3,371.1 592.4,370.3 592.7,369.5 593.0,368.7 593.3,367.9 593.7,367.1 594.2,366.3 594.7,365.6 595.2,364.8 595.8,364.1 596.4,363.5 597.0,362.9 597.7,362.3 598.3,361.8 599.0,361.3 599.6,361.0 600.2,360.7 600.9,360.4 601.5,360.3 602.0,360.2 602.6,360.2 603.1,360.3 603.5,360.4Z" fill="#fff" stroke="#000" stroke-width="1.20"/>
<path d="M594.6,374.3 594.3,374.0 594.1,373.7 593.9,373.4 593.7,373.0 593.6,372.5 593.6,372.1 593.6,371.6 593.6,371.0 593.7,370.4 593.8,369.8 594.0,369.2 594.3,368.6 594.5,368.0 594.9,367.4 595.2,366.8 595.6,366.2 596.0,365.6 596.5,365.1 596.9,364.6 597.4,364.1 597.9,363.7 598.4,363.3 598.9,362.9 599.4,362.6 599.9,362.4 600.4,362.2 600.8,362.1 601.3,362.0 601.7,362.0 602.1,362.1 602.4,362.2 602.8,362.4 606.1,364.7 605.7,364.5 605.4,364.4 605.0,364.3 604.6,364.3 604.1,364.4 603.7,364.5 603.2,364.7 602.7,364.9 602.2,365.2 601.7,365.5 601.2,365.9 600.7,366.4 600.2,366.8 599.7,367.4 599.3,367.9 598.9,368.5 598.5,369.1 598.2,369.7 597.8,370.3 597.6,370.9 597.3,371.5 597.1,372.1 597.0,372.7 596.9,373.3 596.9,373.8 596.9,374.3 596.9,374.8 597.0,375.3 597.2,375.6 597.4,376.0 597.6,376.3 597.9,376.5Z" fill="#fff" stroke="#000" stroke-width="1.20"/>
<path d="M606.1,364.7 606.3,364.9 606.6,365.2 606.8,365.5 606.9,365.9 607.0,366.4 607.1,366.8 607.1,367.4 607.0,367.9 607.0,368.5 606.8,369.1 606.6,369.7 606.4,370.3 606.1,370.9 605.8,371.5 605.4,372.1 605.1,372.7 604.6,373.3 604.2,373.8 603.7,374.4 603.3,374.8 602.8,375.3 602.3,375.7 601.8,376.0 601.3,376.3 600.8,376.5 600.3,376.7 599.8,376.8 599.4,376.9 599.0,376.9 598.6,376.8 598.2,376.7 597.9,376.5 597.6,376.3 597.4,376.0 597.2,375.6 597.0,375.3 596.9,374.8 596.9,374.3 596.9,373.8 596.9,373.3 597.0,372.7 597.1,372.1 597.3,371.5 597.6,370.9 597.8,370.3 598.2,369.7 598.5,369.1 598.9,368.5 599.3,367.9 599.7,367.4 600.2,366.8 600.7,366.4 601.2,365.9 601.7,365.5 602.2,365.2 602.7,364.9 603.2,364.7 603.7,364.5 604.1,364.4 604.6,364.3 605.0,364.3 605.4,364.4 605.7,364.5Z" fill="#fff" stroke="#000" stroke-width="1.20"/>
<path d="M567.6,505.3 570.1,506.4 583.3,515.5 580.8,514.3Z" fill="#fff" stroke="#000" stroke-width="1.20" stroke-linejoin="round"/>
<path d="M557.4,524.8 555.4,522.9 568.6,532.0 570.6,533.9Z" fill="#fff" stroke="#000" stroke-width="1.20" stroke-linejoin="round"/>
<path d="M571.1,498.1 574.0,498.5 587.2,507.6 584.3,507.2Z" fill="#fff" stroke="#000" stroke-width="1.20" stroke-linejoin="round"/>
<path d="M551.4,531.3 550.0,528.7 563.1,537.8 564.6,540.4Z" fill="#fff" stroke="#000" stroke-width="1.20" stroke-linejoin="round"/>
<path d="M545.8,537.7 545.1,537.0 558.3,546.1 558.9,546.8Z" fill="#fff" stroke="#000" stroke-width="1.20" stroke-linejoin="round"/>
<path d="M577.1,490.6 578.0,491.0 591.2,500.0 590.3,499.7Z" fill="#fff" stroke="#000" stroke-width="1.20" stroke-linejoin="round"/>
<path d="M573.8,490.9 577.1,490.6 590.3,499.7 587.0,500.0Z" fill="#fff" stroke="#000" stroke-width="1.20" stroke-linejoin="round"/>
<path d="M545.1,537.0 544.2,533.8 557.4,542.9 558.3,546.1Z" fill="#fff" stroke="#000" stroke-width="1.20" stroke-linejoin="round"/>
<path d="M579.2,483.0 580.3,483.0 593.5,492.1 592.4,492.0Z" fill="#fff" stroke="#000" stroke-width="1.20" stroke-linejoin="round"/>
<path d="M539.1,542.7 538.7,541.7 551.9,550.8 552.3,551.8Z" fill="#fff" stroke="#000" stroke-width="1.20" stroke-linejoin="round"/>
<path d="M575.7,483.9 579.2,483.0 592.4,492.0 588.9,493.0Z" fill="#fff" stroke="#000" stroke-width="1.20" stroke-linejoin="round"/>
<path d="M538.7,541.7 538.4,538.1 551.5,547.2 551.9,550.8Z" fill="#fff" stroke="#000" stroke-width="1.20" stroke-linejoin="round"/>
<path d="M580.4,475.7 581.6,475.5 594.7,484.5 593.6,484.7Z" fill="#fff" stroke="#000" stroke-width="1.20" stroke-linejoin="round"/>
<path d="M532.5,546.5 532.3,545.4 545.5,554.5 545.7,555.6Z" fill="#fff" stroke="#000" stroke-width="1.20" stroke-linejoin="round"/>
<path d="M576.7,477.3 580.4,475.7 593.6,484.7 589.9,486.4Z" fill="#fff" stroke="#000" stroke-width="1.20" stroke-linejoin="round"/>
<path d="M532.3,545.4 532.5,541.3 545.7,550.4 545.5,554.5Z" fill="#fff" stroke="#000" stroke-width="1.20" stroke-linejoin="round"/>
<path d="M526.1,549.2 526.1,547.9 539.2,557.0 539.3,558.3Z" fill="#fff" stroke="#000" stroke-width="1.20" stroke-linejoin="round"/>
<path d="M580.5,468.9 581.8,468.5 595.0,477.6 593.7,478.0Z" fill="#fff" stroke="#000" stroke-width="1.20" stroke-linejoin="round"/>
<path d="M526.1,547.9 526.9,543.6 540.1,552.6 539.2,557.0Z" fill="#fff" stroke="#000" stroke-width="1.20" stroke-linejoin="round"/>
<path d="M576.8,471.2 580.5,468.9 593.7,478.0 590.0,480.3Z" fill="#fff" stroke="#000" stroke-width="1.20" stroke-linejoin="round"/>
<path d="M520.0,550.7 520.2,549.2 533.3,558.3 533.1,559.8Z" fill="#fff" stroke="#000" stroke-width="1.20" stroke-linejoin="round"/>
<path d="M579.7,462.9 581.0,462.3 594.2,471.3 592.8,472.0Z" fill="#fff" stroke="#000" stroke-width="1.20" stroke-linejoin="round"/>
<path d="M520.2,549.2 521.6,544.7 534.7,553.8 533.3,558.3Z" fill="#fff" stroke="#000" stroke-width="1.20" stroke-linejoin="round"/>
<path d="M575.9,465.9 579.7,462.9 592.8,472.0 589.1,474.9Z" fill="#fff" stroke="#000" stroke-width="1.20" stroke-linejoin="round"/>
<path d="M514.3,550.9 514.7,549.3 527.9,558.4 527.5,559.9Z" fill="#fff" stroke="#000" stroke-width="1.20" stroke-linejoin="round"/>
<path d="M577.8,457.8 579.2,456.9 592.3,466.0 591.0,466.9Z" fill="#fff" stroke="#000" stroke-width="1.20" stroke-linejoin="round"/>
<path d="M514.7,549.3 516.7,544.7 529.8,553.8 527.9,558.4Z" fill="#fff" stroke="#000" stroke-width="1.20" stroke-linejoin="round"/>
<path d="M574.2,461.3 577.8,457.8 591.0,466.9 587.4,470.4Z" fill="#fff" stroke="#000" stroke-width="1.20" stroke-linejoin="round"/>
<path d="M509.3,549.8 509.9,548.1 523.1,557.2 522.5,558.8Z" fill="#fff" stroke="#000" stroke-width="1.20" stroke-linejoin="round"/>
<path d="M575.0,453.7 576.3,452.6 589.5,461.7 588.2,462.8Z" fill="#fff" stroke="#000" stroke-width="1.20" stroke-linejoin="round"/>
<path d="M509.9,548.1 512.3,543.6 525.5,552.6 523.1,557.2Z" fill="#fff" stroke="#000" stroke-width="1.20" stroke-linejoin="round"/>
<path d="M571.6,457.6 575.0,453.7 588.2,462.8 584.8,466.7Z" fill="#fff" stroke="#000" stroke-width="1.20" stroke-linejoin="round"/>
<path d="M505.1,547.4 505.8,545.8 519.0,554.9 518.2,556.5Z" fill="#fff" stroke="#000" stroke-width="1.20" stroke-linejoin="round"/>
<path d="M571.4,450.8 572.6,449.5 585.8,458.6 584.5,459.9Z" fill="#fff" stroke="#000" stroke-width="1.20" stroke-linejoin="round"/>
<path d="M505.8,545.8 508.7,541.3 521.8,550.4 519.0,554.9Z" fill="#fff" stroke="#000" stroke-width="1.20" stroke-linejoin="round"/>
<path d="M568.2,455.0 571.4,450.8 584.5,459.9 581.4,464.1Z" fill="#fff" stroke="#000" stroke-width="1.20" stroke-linejoin="round"/>
<path d="M508.7,541.3 507.5,540.2 520.6,549.3 521.8,550.4Z" fill="#fff" stroke="#000" stroke-width="1.20" stroke-linejoin="round"/>
<path d="M566.7,454.3 568.2,455.0 581.4,464.1 579.9,463.4Z" fill="#fff" stroke="#000" stroke-width="1.20" stroke-linejoin="round"/>
<path d="M502.7,545.2 501.7,543.9 514.8,552.9 515.9,554.3Z" fill="#fff" stroke="#000" stroke-width="1.20" stroke-linejoin="round"/>
<path d="M568.1,447.6 569.7,448.1 582.9,457.2 581.3,456.6Z" fill="#fff" stroke="#000" stroke-width="1.20" stroke-linejoin="round"/>
<path d="M502.6,542.3 505.8,538.0 518.9,547.1 515.7,551.3Z" fill="#fff" stroke="#000" stroke-width="1.20" stroke-linejoin="round"/>
<path d="M564.1,453.4 566.9,449.0 580.1,458.1 577.3,462.5Z" fill="#fff" stroke="#000" stroke-width="1.20" stroke-linejoin="round"/>
<path d="M501.7,543.9 502.6,542.3 515.7,551.3 514.8,552.9Z" fill="#fff" stroke="#000" stroke-width="1.20" stroke-linejoin="round"/>
<path d="M566.9,449.0 568.1,447.6 581.3,456.6 580.1,458.1Z" fill="#fff" stroke="#000" stroke-width="1.20" stroke-linejoin="round"/>
<path d="M505.8,538.0 504.9,536.5 518.0,545.6 518.9,547.1Z" fill="#fff" stroke="#000" stroke-width="1.20" stroke-linejoin="round"/>
<path d="M562.4,453.1 564.1,453.4 577.3,462.5 575.6,462.2Z" fill="#fff" stroke="#000" stroke-width="1.20" stroke-linejoin="round"/>
<path d="M499.9,540.9 499.2,539.2 512.3,548.3 513.1,550.0Z" fill="#fff" stroke="#000" stroke-width="1.20" stroke-linejoin="round"/>
<path d="M562.9,446.9 564.7,447.0 577.9,456.1 576.0,456.0Z" fill="#fff" stroke="#000" stroke-width="1.20" stroke-linejoin="round"/>
<path d="M500.2,537.7 503.7,533.8 516.9,542.9 513.4,546.7Z" fill="#fff" stroke="#000" stroke-width="1.20" stroke-linejoin="round"/>
<path d="M559.4,453.0 561.8,448.4 575.0,457.5 572.6,462.1Z" fill="#fff" stroke="#000" stroke-width="1.20" stroke-linejoin="round"/>
<path d="M499.2,539.2 500.2,537.7 513.4,546.7 512.3,548.3Z" fill="#fff" stroke="#000" stroke-width="1.20" stroke-linejoin="round"/>
<path d="M561.8,448.4 562.9,446.9 576.0,456.0 575.0,457.5Z" fill="#fff" stroke="#000" stroke-width="1.20" stroke-linejoin="round"/>
<path d="M503.7,533.8 503.1,532.0 516.3,541.1 516.9,542.9Z" fill="#fff" stroke="#000" stroke-width="1.20" stroke-linejoin="round"/>
<path d="M557.5,453.1 559.4,453.0 572.6,462.1 570.7,462.2Z" fill="#fff" stroke="#000" stroke-width="1.20" stroke-linejoin="round"/>
<path d="M498.1,535.6 497.7,533.6 510.9,542.6 511.2,544.7Z" fill="#fff" stroke="#000" stroke-width="1.20" stroke-linejoin="round"/>
<path d="M557.0,447.5 559.1,447.1 572.3,456.2 570.2,456.6Z" fill="#fff" stroke="#000" stroke-width="1.20" stroke-linejoin="round"/>
<path d="M498.8,532.1 502.5,528.7 515.7,537.8 512.0,541.2Z" fill="#fff" stroke="#000" stroke-width="1.20" stroke-linejoin="round"/>
<path d="M554.2,453.7 556.1,449.1 569.3,458.2 567.4,462.8Z" fill="#fff" stroke="#000" stroke-width="1.20" stroke-linejoin="round"/>
<path d="M502.5,528.7 502.3,526.6 515.4,535.7 515.7,537.8Z" fill="#fff" stroke="#000" stroke-width="1.20" stroke-linejoin="round"/>
<path d="M552.2,454.3 554.2,453.7 567.4,462.8 565.3,463.4Z" fill="#fff" stroke="#000" stroke-width="1.20" stroke-linejoin="round"/>
<path d="M497.7,533.6 498.8,532.1 512.0,541.2 510.9,542.6Z" fill="#fff" stroke="#000" stroke-width="1.20" stroke-linejoin="round"/>
<path d="M556.1,449.1 557.0,447.5 570.2,456.6 569.3,458.2Z" fill="#fff" stroke="#000" stroke-width="1.20" stroke-linejoin="round"/>
<path d="M502.2,522.9 502.4,520.5 515.5,529.6 515.4,532.0Z" fill="#fff" stroke="#000" stroke-width="1.20" stroke-linejoin="round"/>
<path d="M546.5,456.5 548.7,455.5 561.9,464.6 559.7,465.6Z" fill="#fff" stroke="#000" stroke-width="1.20" stroke-linejoin="round"/>
<path d="M498.5,525.8 502.2,522.9 515.4,532.0 511.6,534.8Z" fill="#fff" stroke="#000" stroke-width="1.20" stroke-linejoin="round"/>
<path d="M548.7,455.5 550.0,451.0 563.2,460.1 561.9,464.6Z" fill="#fff" stroke="#000" stroke-width="1.20" stroke-linejoin="round"/>
<path d="M497.3,529.3 497.2,527.1 510.4,536.1 510.4,538.4Z" fill="#fff" stroke="#000" stroke-width="1.20" stroke-linejoin="round"/>
<path d="M550.8,449.4 553.0,448.6 566.1,457.7 564.0,458.5Z" fill="#fff" stroke="#000" stroke-width="1.20" stroke-linejoin="round"/>
<path d="M497.2,527.1 498.5,525.8 511.6,534.8 510.4,536.1Z" fill="#fff" stroke="#000" stroke-width="1.20" stroke-linejoin="round"/>
<path d="M550.0,451.0 550.8,449.4 564.0,458.5 563.2,460.1Z" fill="#fff" stroke="#000" stroke-width="1.20" stroke-linejoin="round"/>
<path d="M502.9,516.5 503.3,513.9 516.5,523.0 516.0,525.6Z" fill="#fff" stroke="#000" stroke-width="1.20" stroke-linejoin="round"/>
<path d="M540.7,459.8 542.9,458.4 556.1,467.5 553.9,468.8Z" fill="#fff" stroke="#000" stroke-width="1.20" stroke-linejoin="round"/>
<path d="M499.1,518.7 502.9,516.5 516.0,525.6 512.3,527.8Z" fill="#fff" stroke="#000" stroke-width="1.20" stroke-linejoin="round"/>
<path d="M542.9,458.4 543.7,454.1 556.9,463.2 556.1,467.5Z" fill="#fff" stroke="#000" stroke-width="1.20" stroke-linejoin="round"/>
<path d="M497.5,522.4 497.8,519.9 511.0,528.9 510.7,531.5Z" fill="#fff" stroke="#000" stroke-width="1.20" stroke-linejoin="round"/>
<path d="M544.3,452.5 546.5,451.3 559.7,460.4 557.5,461.6Z" fill="#fff" stroke="#000" stroke-width="1.20" stroke-linejoin="round"/>
<path d="M497.8,519.9 499.1,518.7 512.3,527.8 511.0,528.9Z" fill="#fff" stroke="#000" stroke-width="1.20" stroke-linejoin="round"/>
<path d="M543.7,454.1 544.3,452.5 557.5,461.6 556.9,463.2Z" fill="#fff" stroke="#000" stroke-width="1.20" stroke-linejoin="round"/>
<path d="M504.4,509.6 505.2,506.9 518.4,516.0 517.6,518.7Z" fill="#fff" stroke="#000" stroke-width="1.20" stroke-linejoin="round"/>
<path d="M534.8,464.0 537.1,462.3 550.2,471.4 548.0,473.1Z" fill="#fff" stroke="#000" stroke-width="1.20" stroke-linejoin="round"/>
<path d="M500.7,511.2 504.4,509.6 517.6,518.7 513.9,520.3Z" fill="#fff" stroke="#000" stroke-width="1.20" stroke-linejoin="round"/>
<path d="M537.1,462.3 537.3,458.3 550.4,467.4 550.2,471.4Z" fill="#fff" stroke="#000" stroke-width="1.20" stroke-linejoin="round"/>
<path d="M498.8,514.8 499.4,512.1 512.6,521.2 511.9,523.9Z" fill="#fff" stroke="#000" stroke-width="1.20" stroke-linejoin="round"/>
<path d="M537.7,456.7 539.9,455.1 553.1,464.2 550.8,465.8Z" fill="#fff" stroke="#000" stroke-width="1.20" stroke-linejoin="round"/>
<path d="M506.8,502.5 507.9,499.8 521.1,508.8 520.0,511.6Z" fill="#fff" stroke="#000" stroke-width="1.20" stroke-linejoin="round"/>
<path d="M529.1,469.1 531.3,467.1 544.4,476.1 542.3,478.2Z" fill="#fff" stroke="#000" stroke-width="1.20" stroke-linejoin="round"/>
<path d="M499.4,512.1 500.7,511.2 513.9,520.3 512.6,521.2Z" fill="#fff" stroke="#000" stroke-width="1.20" stroke-linejoin="round"/>
<path d="M537.3,458.3 537.7,456.7 550.8,465.8 550.4,467.4Z" fill="#fff" stroke="#000" stroke-width="1.20" stroke-linejoin="round"/>
<path d="M503.3,503.4 506.8,502.5 520.0,511.6 516.5,512.5Z" fill="#fff" stroke="#000" stroke-width="1.20" stroke-linejoin="round"/>
<path d="M531.3,467.1 530.9,463.5 544.0,472.6 544.4,476.1Z" fill="#fff" stroke="#000" stroke-width="1.20" stroke-linejoin="round"/>
<path d="M510.0,495.3 511.4,492.6 524.6,501.7 523.2,504.4Z" fill="#fff" stroke="#000" stroke-width="1.20" stroke-linejoin="round"/>
<path d="M523.6,474.9 525.7,472.6 538.8,481.7 536.8,484.0Z" fill="#fff" stroke="#000" stroke-width="1.20" stroke-linejoin="round"/>
<path d="M514.0,488.2 515.6,485.5 528.8,494.6 527.1,497.3Z" fill="#fff" stroke="#000" stroke-width="1.20" stroke-linejoin="round"/>
<path d="M518.5,481.3 520.4,478.8 533.6,487.9 531.7,490.4Z" fill="#fff" stroke="#000" stroke-width="1.20" stroke-linejoin="round"/>
<path d="M501.0,506.9 502.0,504.1 515.2,513.2 514.2,516.0Z" fill="#fff" stroke="#000" stroke-width="1.20" stroke-linejoin="round"/>
<path d="M531.1,462.0 533.3,460.1 546.5,469.2 544.2,471.1Z" fill="#fff" stroke="#000" stroke-width="1.20" stroke-linejoin="round"/>
<path d="M502.0,504.1 503.3,503.4 516.5,512.5 515.2,513.2Z" fill="#fff" stroke="#000" stroke-width="1.20" stroke-linejoin="round"/>
<path d="M530.9,463.5 531.1,462.0 544.2,471.1 544.0,472.6Z" fill="#fff" stroke="#000" stroke-width="1.20" stroke-linejoin="round"/>
<path d="M506.8,495.5 510.0,495.3 523.2,504.4 520.0,504.6Z" fill="#fff" stroke="#000" stroke-width="1.20" stroke-linejoin="round"/>
<path d="M525.7,472.6 524.7,469.5 537.9,478.6 538.8,481.7Z" fill="#fff" stroke="#000" stroke-width="1.20" stroke-linejoin="round"/>
<path d="M511.1,487.6 514.0,488.2 527.1,497.3 524.3,496.7Z" fill="#fff" stroke="#000" stroke-width="1.20" stroke-linejoin="round"/>
<path d="M520.4,478.8 518.9,476.3 532.1,485.4 533.6,487.9Z" fill="#fff" stroke="#000" stroke-width="1.20" stroke-linejoin="round"/>
<path d="M515.6,485.5 513.6,483.7 526.8,492.8 528.8,494.6Z" fill="#fff" stroke="#000" stroke-width="1.20" stroke-linejoin="round"/>
<path d="M516.1,480.1 518.5,481.3 531.7,490.4 529.2,489.2Z" fill="#fff" stroke="#000" stroke-width="1.20" stroke-linejoin="round"/>
<path d="M505.0,499.3 504.2,498.7 517.4,507.8 518.2,508.4Z" fill="#fff" stroke="#000" stroke-width="1.20" stroke-linejoin="round"/>
<path d="M526.8,466.0 527.6,466.5 540.8,475.6 540.0,475.1Z" fill="#fff" stroke="#000" stroke-width="1.20" stroke-linejoin="round"/>
<path d="M505.5,496.0 506.8,495.5 520.0,504.6 518.7,505.0Z" fill="#fff" stroke="#000" stroke-width="1.20" stroke-linejoin="round"/>
<path d="M524.7,469.5 524.7,468.2 537.9,477.3 537.9,478.6Z" fill="#fff" stroke="#000" stroke-width="1.20" stroke-linejoin="round"/>
<path d="M504.2,498.7 505.5,496.0 518.7,505.0 517.4,507.8Z" fill="#fff" stroke="#000" stroke-width="1.20" stroke-linejoin="round"/>
<path d="M524.7,468.2 526.8,466.0 540.0,475.1 537.9,477.3Z" fill="#fff" stroke="#000" stroke-width="1.20" stroke-linejoin="round"/>
<path d="M508.9,491.4 508.3,490.6 521.5,499.7 522.1,500.5Z" fill="#fff" stroke="#000" stroke-width="1.20" stroke-linejoin="round"/>
<path d="M520.7,472.7 521.6,473.0 534.8,482.1 533.8,481.8Z" fill="#fff" stroke="#000" stroke-width="1.20" stroke-linejoin="round"/>
<path d="M509.9,487.9 511.1,487.6 524.3,496.7 523.1,496.9Z" fill="#fff" stroke="#000" stroke-width="1.20" stroke-linejoin="round"/>
<path d="M518.9,476.3 518.7,475.1 531.8,484.2 532.1,485.4Z" fill="#fff" stroke="#000" stroke-width="1.20" stroke-linejoin="round"/>
<path d="M513.6,483.7 513.2,482.7 526.3,491.7 526.8,492.8Z" fill="#fff" stroke="#000" stroke-width="1.20" stroke-linejoin="round"/>
<path d="M515.0,480.0 516.1,480.1 529.2,489.2 528.1,489.1Z" fill="#fff" stroke="#000" stroke-width="1.20" stroke-linejoin="round"/>
<path d="M508.3,490.6 509.9,487.9 523.1,496.9 521.5,499.7Z" fill="#fff" stroke="#000" stroke-width="1.20" stroke-linejoin="round"/>
<path d="M518.7,475.1 520.7,472.7 533.8,481.8 531.8,484.2Z" fill="#fff" stroke="#000" stroke-width="1.20" stroke-linejoin="round"/>
<path d="M513.2,482.7 515.0,480.0 528.1,489.1 526.3,491.7Z" fill="#fff" stroke="#000" stroke-width="1.20" stroke-linejoin="round"/>
<path d="M581.4,464.1 584.5,459.9 585.8,458.6 587.2,459.5 586.4,461.1 583.6,465.6 584.8,466.7 588.2,462.8 589.5,461.7 590.6,463.1 589.7,464.7 586.5,468.9 587.4,470.4 591.0,466.9 592.3,466.0 593.1,467.7 592.0,469.3 588.5,473.1 589.1,474.9 592.8,472.0 594.2,471.3 594.5,473.4 593.4,474.8 589.7,478.2 590.0,480.3 593.7,478.0 595.0,477.6 595.0,479.9 593.8,481.2 590.0,484.0 589.9,486.4 593.6,484.7 594.7,484.5 594.4,487.1 593.1,488.2 589.4,490.4 588.9,493.0 592.4,492.0 593.5,492.1 592.8,494.8 591.5,495.7 587.8,497.3 587.0,500.0 590.3,499.7 591.2,500.0 590.2,502.8 588.9,503.5 585.4,504.4 584.3,507.2 587.2,507.6 588.0,508.2 586.7,511.0 585.4,511.4 582.2,511.6 580.8,514.3 583.3,515.5 583.9,516.3 582.3,519.1 581.1,519.3 578.3,518.7 576.6,521.4 578.6,523.2 579.1,524.3 577.3,526.9 576.2,526.8 573.7,525.6 571.8,528.1 573.3,530.6 573.6,531.8 571.6,534.2 570.6,533.9 568.6,532.0 566.6,534.3 567.5,537.4 567.5,538.7 565.4,540.9 564.6,540.4 563.1,537.8 561.0,539.9 561.4,543.4 561.2,544.9 558.9,546.8 558.3,546.1 557.4,542.9 555.2,544.6 555.0,548.6 554.6,550.2 552.3,551.8 551.9,550.8 551.5,547.2 549.3,548.5 548.5,552.8 547.9,554.4 545.7,555.6 545.5,554.5 545.7,550.4 543.5,551.4 542.2,555.9 541.4,557.5 539.3,558.3 539.2,557.0 540.1,552.6 538.0,553.2 536.1,557.8 535.2,559.4 533.1,559.8 533.3,558.3 534.7,553.8 532.8,553.9 530.4,558.5 529.4,560.0 527.5,559.9 527.9,558.4 529.8,553.8 528.1,553.5 525.3,557.9 524.1,559.4 522.5,558.8 523.1,557.2 525.5,552.6 524.0,551.9 520.9,556.1 519.6,557.4 518.2,556.5 519.0,554.9 521.8,550.4 520.6,549.3 517.2,553.2 515.9,554.3 514.8,552.9 515.7,551.3 518.9,547.1 518.0,545.6 514.4,549.1 513.1,550.0 512.3,548.3 513.4,546.7 516.9,542.9 516.3,541.1 512.6,544.0 511.2,544.7 510.9,542.6 512.0,541.2 515.7,537.8 515.4,535.7 511.7,538.0 510.4,538.4 510.4,536.1 511.6,534.8 515.4,532.0 515.5,529.6 511.8,531.3 510.7,531.5 511.0,528.9 512.3,527.8 516.0,525.6 516.5,523.0 513.0,524.0 511.9,523.9 512.6,521.2 513.9,520.3 517.6,518.7 518.4,516.0 515.1,516.3 514.2,516.0 515.2,513.2 516.5,512.5 520.0,511.6 521.1,508.8 518.2,508.4 517.4,507.8 518.7,505.0 520.0,504.6 523.2,504.4 524.6,501.7 522.1,500.5 521.5,499.7 523.1,496.9 524.3,496.7 527.1,497.3 528.8,494.6 526.8,492.8 526.3,491.7 528.1,489.1 529.2,489.2 531.7,490.4 533.6,487.9 532.1,485.4 531.8,484.2 533.8,481.8 534.8,482.1 536.8,484.0 538.8,481.7 537.9,478.6 537.9,477.3 540.0,475.1 540.8,475.6 542.3,478.2 544.4,476.1 544.0,472.6 544.2,471.1 546.5,469.2 547.1,469.9 548.0,473.1 550.2,471.4 550.4,467.4 550.8,465.8 553.1,464.2 553.5,465.2 553.9,468.8 556.1,467.5 556.9,463.2 557.5,461.6 559.7,460.4 559.9,461.5 559.7,465.6 561.9,464.6 563.2,460.1 564.0,458.5 566.1,457.7 566.2,459.0 565.3,463.4 567.4,462.8 569.3,458.2 570.2,456.6 572.3,456.2 572.1,457.7 570.7,462.2 572.6,462.1 575.0,457.5 576.0,456.0 577.9,456.1 577.5,457.6 575.6,462.2 577.3,462.5 580.1,458.1 581.3,456.6 582.9,457.2 582.3,458.8 579.9,463.4Z" fill="#fff" stroke="#000" stroke-width="1.20" stroke-linejoin="round"/>
<path d="M554.8,525.4 554.0,524.7 573.8,538.3 574.6,539.1Z" fill="#fff" stroke="#000" stroke-width="1.20" stroke-linejoin="round"/>
<path d="M562.2,510.9 564.7,512.5 584.4,526.2 582.0,524.5Z" fill="#fff" stroke="#000" stroke-width="1.20" stroke-linejoin="round"/>
<path d="M569.0,502.5 570.0,502.9 589.8,516.5 588.8,516.1Z" fill="#fff" stroke="#000" stroke-width="1.20" stroke-linejoin="round"/>
<path d="M554.0,524.7 553.2,521.2 573.0,534.8 573.8,538.3Z" fill="#fff" stroke="#000" stroke-width="1.20" stroke-linejoin="round"/>
<path d="M565.4,503.1 569.0,502.5 588.8,516.1 585.1,516.8Z" fill="#fff" stroke="#000" stroke-width="1.20" stroke-linejoin="round"/>
<path d="M546.1,530.2 545.9,528.8 565.7,542.4 565.8,543.9Z" fill="#fff" stroke="#000" stroke-width="1.20" stroke-linejoin="round"/>
<path d="M569.6,493.6 571.0,493.2 590.8,506.8 589.4,507.3Z" fill="#fff" stroke="#000" stroke-width="1.20" stroke-linejoin="round"/>
<path d="M545.9,528.8 547.0,524.0 566.8,537.7 565.7,542.4Z" fill="#fff" stroke="#000" stroke-width="1.20" stroke-linejoin="round"/>
<path d="M565.6,496.5 569.6,493.6 589.4,507.3 585.3,510.2Z" fill="#fff" stroke="#000" stroke-width="1.20" stroke-linejoin="round"/>
<path d="M538.8,529.9 539.4,528.1 559.1,541.7 558.6,543.5Z" fill="#fff" stroke="#000" stroke-width="1.20" stroke-linejoin="round"/>
<path d="M539.4,528.1 542.2,523.2 561.9,536.8 559.1,541.7Z" fill="#fff" stroke="#000" stroke-width="1.20" stroke-linejoin="round"/>
<path d="M566.3,488.1 567.8,486.9 587.6,500.5 586.1,501.7Z" fill="#fff" stroke="#000" stroke-width="1.20" stroke-linejoin="round"/>
<path d="M562.8,492.5 566.3,488.1 586.1,501.7 582.6,506.2Z" fill="#fff" stroke="#000" stroke-width="1.20" stroke-linejoin="round"/>
<path d="M542.2,523.2 540.9,521.9 560.6,535.5 561.9,536.8Z" fill="#fff" stroke="#000" stroke-width="1.20" stroke-linejoin="round"/>
<path d="M561.0,491.9 562.8,492.5 582.6,506.2 580.8,505.5Z" fill="#fff" stroke="#000" stroke-width="1.20" stroke-linejoin="round"/>
<path d="M535.5,526.5 534.7,524.6 554.5,538.2 555.2,540.2Z" fill="#fff" stroke="#000" stroke-width="1.20" stroke-linejoin="round"/>
<path d="M535.9,522.8 539.7,518.9 559.5,532.5 555.6,536.4Z" fill="#fff" stroke="#000" stroke-width="1.20" stroke-linejoin="round"/>
<path d="M561.1,485.4 563.3,485.3 583.0,498.9 580.9,499.0Z" fill="#fff" stroke="#000" stroke-width="1.20" stroke-linejoin="round"/>
<path d="M539.7,518.9 539.6,516.4 559.3,530.0 559.5,532.5Z" fill="#fff" stroke="#000" stroke-width="1.20" stroke-linejoin="round"/>
<path d="M557.8,492.1 559.9,487.1 579.7,500.8 577.5,505.7Z" fill="#fff" stroke="#000" stroke-width="1.20" stroke-linejoin="round"/>
<path d="M534.7,524.6 535.9,522.8 555.6,536.4 554.5,538.2Z" fill="#fff" stroke="#000" stroke-width="1.20" stroke-linejoin="round"/>
<path d="M555.4,493.0 557.8,492.1 577.5,505.7 575.1,506.6Z" fill="#fff" stroke="#000" stroke-width="1.20" stroke-linejoin="round"/>
<path d="M559.9,487.1 561.1,485.4 580.9,499.0 579.7,500.8Z" fill="#fff" stroke="#000" stroke-width="1.20" stroke-linejoin="round"/>
<path d="M540.2,512.1 541.3,509.0 561.0,522.6 560.0,525.7Z" fill="#fff" stroke="#000" stroke-width="1.20" stroke-linejoin="round"/>
<path d="M549.1,497.5 551.6,495.3 571.3,508.9 568.8,511.1Z" fill="#fff" stroke="#000" stroke-width="1.20" stroke-linejoin="round"/>
<path d="M536.2,514.1 540.2,512.1 560.0,525.7 556.0,527.8Z" fill="#fff" stroke="#000" stroke-width="1.20" stroke-linejoin="round"/>
<path d="M551.6,495.3 551.9,490.9 571.6,504.6 571.3,508.9Z" fill="#fff" stroke="#000" stroke-width="1.20" stroke-linejoin="round"/>
<path d="M543.6,504.4 545.6,501.4 565.4,515.0 563.4,518.0Z" fill="#fff" stroke="#000" stroke-width="1.20" stroke-linejoin="round"/>
<path d="M534.3,518.3 534.8,515.4 554.5,529.1 554.1,531.9Z" fill="#fff" stroke="#000" stroke-width="1.20" stroke-linejoin="round"/>
<path d="M552.5,489.1 555.0,487.6 574.8,501.2 572.3,502.7Z" fill="#fff" stroke="#000" stroke-width="1.20" stroke-linejoin="round"/>
<path d="M534.8,515.4 536.2,514.1 556.0,527.8 554.5,529.1Z" fill="#fff" stroke="#000" stroke-width="1.20" stroke-linejoin="round"/>
<path d="M551.9,490.9 552.5,489.1 572.3,502.7 571.6,504.6Z" fill="#fff" stroke="#000" stroke-width="1.20" stroke-linejoin="round"/>
<path d="M540.4,504.1 543.6,504.4 563.4,518.0 560.1,517.7Z" fill="#fff" stroke="#000" stroke-width="1.20" stroke-linejoin="round"/>
<path d="M545.6,501.4 544.0,498.7 563.8,512.3 565.4,515.0Z" fill="#fff" stroke="#000" stroke-width="1.20" stroke-linejoin="round"/>
<path d="M538.1,508.5 537.4,507.7 557.1,521.3 557.9,522.1Z" fill="#fff" stroke="#000" stroke-width="1.20" stroke-linejoin="round"/>
<path d="M546.2,494.6 547.3,494.9 567.1,508.5 566.0,508.2Z" fill="#fff" stroke="#000" stroke-width="1.20" stroke-linejoin="round"/>
<path d="M538.9,504.6 540.4,504.1 560.1,517.7 558.7,518.2Z" fill="#fff" stroke="#000" stroke-width="1.20" stroke-linejoin="round"/>
<path d="M544.0,498.7 544.0,497.1 563.7,510.8 563.8,512.3Z" fill="#fff" stroke="#000" stroke-width="1.20" stroke-linejoin="round"/>
<path d="M537.4,507.7 538.9,504.6 558.7,518.2 557.1,521.3Z" fill="#fff" stroke="#000" stroke-width="1.20" stroke-linejoin="round"/>
<path d="M544.0,497.1 546.2,494.6 566.0,508.2 563.7,510.8Z" fill="#fff" stroke="#000" stroke-width="1.20" stroke-linejoin="round"/>
<path d="M582.6,506.2 586.1,501.7 587.6,500.5 588.9,501.8 588.0,503.7 584.6,508.2 585.3,510.2 589.4,507.3 590.8,506.8 590.9,509.3 589.6,510.8 585.6,513.9 585.1,516.8 588.8,516.1 589.8,516.5 588.8,519.5 587.3,520.5 583.6,521.4 582.0,524.5 584.4,526.2 584.8,527.4 582.9,530.3 581.6,530.4 579.0,528.9 576.7,531.6 577.4,535.2 577.0,536.9 574.6,539.1 573.8,538.3 573.0,534.8 570.4,536.4 569.2,541.2 568.2,543.0 565.8,543.9 565.7,542.4 566.8,537.7 564.6,537.8 561.7,542.6 560.3,544.2 558.6,543.5 559.1,541.7 561.9,536.8 560.6,535.5 556.7,539.3 555.2,540.2 554.5,538.2 555.6,536.4 559.5,532.5 559.3,530.0 555.3,531.9 554.1,531.9 554.5,529.1 556.0,527.8 560.0,525.7 561.0,522.6 557.9,522.1 557.1,521.3 558.7,518.2 560.1,517.7 563.4,518.0 565.4,515.0 563.8,512.3 563.7,510.8 566.0,508.2 567.1,508.5 568.8,511.1 571.3,508.9 571.6,504.6 572.3,502.7 574.8,501.2 575.3,502.3 575.1,506.6 577.5,505.7 579.7,500.8 580.9,499.0 583.0,498.9 582.8,500.6 580.8,505.5Z" fill="#fff" stroke="#000" stroke-width="1.20" stroke-linejoin="round"/>
<path d="M582.7,506.8 583.4,507.4 584.0,508.1 584.5,509.0 584.8,510.0 585.1,511.1 585.2,512.3 585.2,513.5 585.1,514.9 584.9,516.3 584.5,517.8 584.1,519.3 583.5,520.9 582.8,522.4 582.0,524.0 581.1,525.5 580.2,526.9 579.1,528.4 578.0,529.7 576.9,531.0 575.7,532.2 574.4,533.3 573.2,534.3 571.9,535.1 570.7,535.9 569.4,536.5 568.2,536.9 567.1,537.2 566.0,537.4 564.9,537.3 563.9,537.2 563.0,536.9 562.2,536.4 561.5,535.9 560.9,535.1 560.4,534.3 560.1,533.3 559.8,532.2 559.7,531.0 559.7,529.7 559.8,528.3 560.0,526.9 560.4,525.4 560.8,523.9 561.4,522.4 562.1,520.8 562.9,519.3 563.8,517.8 564.8,516.3 565.8,514.9 566.9,513.5 568.0,512.2 569.2,511.0 570.5,510.0 571.7,509.0 573.0,508.1 574.2,507.4 575.5,506.8 576.7,506.4 577.8,506.1 579.0,505.9 580.0,505.9 581.0,506.1 581.9,506.4Z" fill="#fff" stroke="#000" stroke-width="1.20"/>
<path d="M581.8,508.0 582.5,508.6 583.0,509.3 583.5,510.0 583.8,510.9 584.0,511.9 584.2,513.0 584.2,514.2 584.1,515.5 583.9,516.8 583.5,518.1 583.1,519.5 582.6,520.9 581.9,522.3 581.2,523.8 580.4,525.1 579.5,526.5 578.6,527.8 577.6,529.1 576.5,530.2 575.4,531.3 574.3,532.3 573.1,533.2 572.0,534.0 570.8,534.7 569.7,535.2 568.6,535.6 567.5,535.9 566.5,536.0 565.5,536.0 564.6,535.9 563.8,535.6 563.1,535.2 562.4,534.7 561.9,534.0 561.4,533.2 561.1,532.3 560.9,531.3 560.7,530.2 560.7,529.0 560.8,527.8 561.1,526.5 561.4,525.1 561.8,523.7 562.3,522.3 563.0,520.9 563.7,519.5 564.5,518.1 565.4,516.8 566.3,515.4 567.4,514.2 568.4,513.0 569.5,511.9 570.6,510.9 571.8,510.0 572.9,509.2 574.1,508.6 575.2,508.0 576.3,507.6 577.4,507.4 578.4,507.2 579.4,507.2 580.3,507.4 581.1,507.6Z" fill="none" stroke="#000" stroke-width="1.20"/>
<path d="M578.4,513.0 578.8,513.3 579.2,513.8 579.5,514.3 579.7,514.8 579.8,515.5 579.9,516.2 579.9,516.9 579.8,517.7 579.7,518.5 579.5,519.4 579.2,520.3 578.9,521.2 578.5,522.1 578.0,523.0 577.5,523.9 576.9,524.7 576.3,525.6 575.7,526.4 575.0,527.1 574.3,527.8 573.6,528.4 572.9,529.0 572.1,529.5 571.4,529.9 570.7,530.3 570.0,530.5 569.3,530.7 568.7,530.8 568.1,530.8 567.5,530.7 567.0,530.5 566.5,530.3 566.1,529.9 565.7,529.5 565.4,529.0 565.2,528.4 565.1,527.8 565.0,527.1 565.0,526.3 565.1,525.5 565.2,524.7 565.4,523.9 565.7,523.0 566.0,522.1 566.4,521.2 566.9,520.3 567.4,519.4 568.0,518.5 568.6,517.7 569.2,516.9 569.9,516.2 570.6,515.5 571.3,514.8 572.0,514.2 572.8,513.7 573.5,513.3 574.2,513.0 574.9,512.7 575.6,512.5 576.2,512.5 576.9,512.5 577.4,512.5 577.9,512.7Z" fill="#fff" stroke="#000" stroke-width="1.20"/>
<path d="M577.7,514.0 578.1,514.3 578.4,514.7 578.7,515.1 578.9,515.6 579.0,516.2 579.1,516.8 579.1,517.5 579.0,518.2 578.9,518.9 578.7,519.7 578.5,520.4 578.2,521.2 577.8,522.0 577.4,522.8 576.9,523.6 576.4,524.4 575.9,525.1 575.3,525.8 574.7,526.5 574.1,527.1 573.5,527.7 572.8,528.2 572.2,528.6 571.5,529.0 570.9,529.3 570.3,529.5 569.7,529.7 569.1,529.8 568.6,529.8 568.1,529.7 567.6,529.5 567.2,529.3 566.8,529.0 566.5,528.6 566.2,528.2 566.1,527.6 565.9,527.1 565.9,526.5 565.8,525.8 565.9,525.1 566.0,524.4 566.2,523.6 566.5,522.8 566.8,522.0 567.1,521.2 567.5,520.4 568.0,519.6 568.5,518.9 569.0,518.1 569.6,517.4 570.2,516.8 570.8,516.2 571.4,515.6 572.1,515.1 572.7,514.6 573.4,514.3 574.0,514.0 574.6,513.7 575.2,513.6 575.8,513.5 576.4,513.5 576.9,513.6 577.3,513.7Z" fill="none" stroke="#000" stroke-width="1.20"/>
<path d="M412.1,420.8 411.8,420.4 411.4,420.1 411.2,419.6 411.0,419.1 410.9,418.6 410.8,417.9 410.8,417.3 410.9,416.6 411.0,415.8 411.2,415.1 411.4,414.3 411.7,413.5 412.1,412.7 412.5,411.9 412.9,411.1 413.4,410.4 414.0,409.6 414.5,408.9 415.1,408.2 415.7,407.6 416.4,407.1 417.0,406.6 417.7,406.1 418.3,405.7 419.0,405.4 419.6,405.2 420.2,405.1 420.8,405.0 421.3,405.0 421.8,405.1 422.3,405.2 422.7,405.4 486.1,449.2 485.6,448.9 485.2,448.8 484.7,448.7 484.1,448.7 483.6,448.8 483.0,448.9 482.3,449.2 481.7,449.5 481.1,449.8 480.4,450.3 479.8,450.8 479.1,451.4 478.5,452.0 477.9,452.6 477.3,453.3 476.8,454.1 476.3,454.8 475.8,455.6 475.4,456.4 475.1,457.2 474.8,458.0 474.5,458.8 474.4,459.6 474.2,460.3 474.2,461.0 474.2,461.7 474.2,462.3 474.4,462.8 474.6,463.4 474.8,463.8 475.1,464.2 475.5,464.5Z" fill="#fff" stroke="#000" stroke-width="1.20"/>
<path d="M486.1,449.2 486.4,449.5 486.7,449.9 487.0,450.3 487.2,450.8 487.3,451.4 487.4,452.0 487.4,452.6 487.3,453.4 487.2,454.1 487.0,454.9 486.8,455.6 486.5,456.4 486.1,457.2 485.7,458.0 485.3,458.8 484.8,459.6 484.2,460.3 483.7,461.0 483.1,461.7 482.4,462.3 481.8,462.9 481.2,463.4 480.5,463.8 479.9,464.2 479.2,464.5 478.6,464.7 478.0,464.9 477.4,464.9 476.9,464.9 476.4,464.9 475.9,464.7 475.5,464.5 475.1,464.2 474.8,463.8 474.6,463.4 474.4,462.8 474.2,462.3 474.2,461.7 474.2,461.0 474.2,460.3 474.4,459.6 474.5,458.8 474.8,458.0 475.1,457.2 475.4,456.4 475.8,455.6 476.3,454.8 476.8,454.1 477.3,453.3 477.9,452.6 478.5,452.0 479.1,451.4 479.8,450.8 480.4,450.3 481.1,449.8 481.7,449.5 482.3,449.2 483.0,448.9 483.6,448.8 484.1,448.7 484.7,448.7 485.2,448.8 485.6,448.9Z" fill="#fff" stroke="#000" stroke-width="1.20"/>
<path d="M476.7,462.8 476.4,462.5 476.2,462.2 476.0,461.9 475.8,461.5 475.7,461.0 475.7,460.6 475.7,460.1 475.7,459.5 475.8,458.9 475.9,458.3 476.1,457.7 476.4,457.1 476.6,456.5 477.0,455.9 477.3,455.3 477.7,454.7 478.1,454.1 478.6,453.6 479.0,453.1 479.5,452.6 480.0,452.2 480.5,451.8 481.0,451.4 481.5,451.1 482.0,450.9 482.5,450.7 482.9,450.6 483.4,450.5 483.8,450.5 484.2,450.6 484.5,450.7 484.9,450.9 488.2,453.2 487.8,453.0 487.5,452.9 487.1,452.8 486.7,452.8 486.2,452.9 485.8,453.0 485.3,453.2 484.8,453.4 484.3,453.7 483.8,454.0 483.3,454.4 482.8,454.9 482.3,455.3 481.8,455.9 481.4,456.4 481.0,457.0 480.6,457.6 480.3,458.2 479.9,458.8 479.7,459.4 479.4,460.0 479.2,460.6 479.1,461.2 479.0,461.8 479.0,462.3 479.0,462.8 479.0,463.3 479.1,463.8 479.3,464.1 479.5,464.5 479.7,464.8 480.0,465.0Z" fill="#fff" stroke="#000" stroke-width="1.20"/>
<path d="M488.2,453.2 488.4,453.4 488.7,453.7 488.9,454.0 489.0,454.4 489.1,454.9 489.2,455.3 489.2,455.9 489.1,456.4 489.1,457.0 488.9,457.6 488.7,458.2 488.5,458.8 488.2,459.4 487.9,460.0 487.5,460.6 487.2,461.2 486.7,461.8 486.3,462.3 485.8,462.9 485.4,463.3 484.9,463.8 484.4,464.2 483.9,464.5 483.4,464.8 482.9,465.0 482.4,465.2 481.9,465.3 481.5,465.4 481.1,465.4 480.7,465.3 480.3,465.2 480.0,465.0 479.7,464.8 479.5,464.5 479.3,464.1 479.1,463.8 479.0,463.3 479.0,462.8 479.0,462.3 479.0,461.8 479.1,461.2 479.2,460.6 479.4,460.0 479.7,459.4 479.9,458.8 480.3,458.2 480.6,457.6 481.0,457.0 481.4,456.4 481.8,455.9 482.3,455.3 482.8,454.9 483.3,454.4 483.8,454.0 484.3,453.7 484.8,453.4 485.3,453.2 485.8,453.0 486.2,452.9 486.7,452.8 487.1,452.8 487.5,452.9 487.8,453.0Z" fill="#fff" stroke="#000" stroke-width="1.20"/>
<path d="M216.7,496.9 214.2,494.8 212.1,492.2 210.4,489.2 209.1,485.8 208.2,481.9 207.7,477.7 207.7,473.2 208.1,468.4 208.9,463.3 210.1,458.1 211.8,452.8 213.9,447.4 216.3,441.9 219.1,436.5 222.2,431.2 225.6,426.0 229.2,421.0 233.1,416.2 237.2,411.6 241.4,407.4 245.7,403.6 250.1,400.1 254.6,397.1 259.0,394.6 263.3,392.5 267.6,390.9 271.7,389.9 275.6,389.3 279.3,389.3 282.7,389.9 285.9,390.9 288.7,392.5 425.3,486.8 422.5,485.2 419.4,484.1 415.9,483.6 412.2,483.6 408.3,484.1 404.2,485.2 400.0,486.7 395.6,488.8 391.2,491.4 386.8,494.4 382.4,497.9 378.0,501.7 373.8,505.9 369.7,510.4 365.9,515.2 362.2,520.2 358.8,525.4 355.7,530.8 352.9,536.2 350.5,541.6 348.4,547.1 346.8,552.4 345.5,557.6 344.7,562.6 344.3,567.4 344.3,572.0 344.8,576.2 345.7,580.0 347.0,583.5 348.7,586.5 350.9,589.1 353.3,591.1Z" fill="#fff" stroke="#000" stroke-width="1.20"/>
<path d="M253.7,522.4 251.3,520.4 249.1,517.8 247.4,514.8 246.1,511.3 245.2,507.5 244.7,503.2 244.7,498.7 245.1,493.9 245.9,488.9 247.2,483.7 248.8,478.3 250.9,472.9 253.3,467.5 256.1,462.1 259.2,456.7 262.6,451.5 266.3,446.5 270.1,441.7 274.2,437.2 278.4,433.0 282.8,429.1 287.2,425.7 291.6,422.7 296.0,420.1 300.4,418.0 304.6,416.5 308.7,415.4 312.6,414.9 316.3,414.9 319.8,415.4 322.9,416.5 325.7,418.1" fill="none" stroke="#000" stroke-width="1.20"/>
<path d="M247.4,400.8 228.3,432.4 246.0,444.9 269.7,411.3Z" fill="#fff" stroke="#000" stroke-width="1.20" stroke-linejoin="round"/>
<path d="M256.6,389.0 290.8,369.2 298.0,362.6 305.3,362.0 315.8,369.9 317.8,378.4 314.5,390.3 309.2,394.2 302.6,399.5 280.0,410.0 269.7,411.3 252.6,399.0Z" fill="#fff" stroke="#000" stroke-width="1.20" stroke-linejoin="round"/>
<path d="M264.5,398.3 295.4,379.9" fill="none" stroke="#000" stroke-width="1.20"/>
<path d="M296.4,389.4 295.8,389.0 295.4,388.4 295.0,387.8 294.7,387.0 294.5,386.2 294.4,385.3 294.4,384.4 294.5,383.3 294.7,382.3 295.0,381.2 295.3,380.0 295.8,378.9 296.3,377.7 296.9,376.6 297.5,375.4 298.3,374.3 299.0,373.2 299.9,372.2 300.7,371.3 301.6,370.4 302.5,369.5 303.5,368.8 304.4,368.2 305.4,367.6 306.3,367.2 307.2,366.8 308.1,366.6 308.9,366.5 309.7,366.5 310.4,366.6 311.1,366.8 311.7,367.2 314.2,368.9 313.6,368.6 312.9,368.3 312.2,368.2 311.4,368.2 310.5,368.3 309.7,368.5 308.8,368.9 307.8,369.3 306.9,369.9 306.0,370.5 305.0,371.2 304.1,372.1 303.2,373.0 302.3,373.9 301.5,374.9 300.7,376.0 300.0,377.1 299.3,378.3 298.7,379.4 298.2,380.6 297.8,381.7 297.4,382.9 297.2,384.0 297.0,385.0 296.9,386.1 296.9,387.0 297.0,387.9 297.2,388.7 297.5,389.5 297.9,390.1 298.3,390.7 298.8,391.1Z" fill="#fff" stroke="#000" stroke-width="1.20"/>
<path d="M314.2,368.9 314.7,369.3 315.1,369.9 315.5,370.5 315.8,371.3 316.0,372.1 316.1,373.0 316.1,373.9 316.0,375.0 315.8,376.0 315.6,377.1 315.2,378.3 314.8,379.4 314.3,380.6 313.7,381.7 313.0,382.9 312.3,384.0 311.5,385.1 310.7,386.1 309.8,387.0 308.9,387.9 308.0,388.8 307.0,389.5 306.1,390.1 305.2,390.7 304.2,391.1 303.3,391.5 302.5,391.7 301.6,391.8 300.8,391.8 300.1,391.7 299.4,391.4 298.8,391.1 298.3,390.7 297.9,390.1 297.5,389.5 297.2,388.7 297.0,387.9 296.9,387.0 296.9,386.1 297.0,385.0 297.2,384.0 297.4,382.9 297.8,381.7 298.2,380.6 298.7,379.4 299.3,378.3 300.0,377.1 300.7,376.0 301.5,374.9 302.3,373.9 303.2,373.0 304.1,372.1 305.0,371.2 306.0,370.5 306.9,369.9 307.8,369.3 308.8,368.9 309.7,368.5 310.5,368.3 311.4,368.2 312.2,368.2 312.9,368.3 313.6,368.6Z" fill="#fff" stroke="#000" stroke-width="1.20"/>
<path d="M313.3,370.7 313.8,371.1 314.2,371.6 314.5,372.1 314.7,372.8 314.9,373.5 315.0,374.2 315.0,375.0 314.9,375.9 314.7,376.8 314.5,377.8 314.2,378.7 313.8,379.7 313.4,380.7 312.9,381.7 312.3,382.7 311.7,383.6 311.1,384.5 310.4,385.4 309.6,386.2 308.8,387.0 308.1,387.7 307.3,388.3 306.5,388.8 305.7,389.3 304.9,389.7 304.1,390.0 303.4,390.1 302.7,390.2 302.0,390.2 301.4,390.1 300.8,390.0 300.3,389.7 299.8,389.3 299.4,388.8 299.1,388.3 298.9,387.6 298.7,386.9 298.6,386.2 298.6,385.4 298.7,384.5 298.9,383.6 299.1,382.6 299.4,381.7 299.8,380.7 300.2,379.7 300.7,378.7 301.3,377.7 301.9,376.8 302.5,375.9 303.2,375.0 304.0,374.2 304.8,373.4 305.5,372.7 306.3,372.1 307.1,371.6 307.9,371.1 308.7,370.7 309.5,370.4 310.2,370.3 310.9,370.2 311.6,370.2 312.2,370.3 312.8,370.4Z" fill="none" stroke="#000" stroke-width="1.00"/>
<path d="M311.1,374.9 311.3,375.1 311.6,375.4 311.7,375.7 311.9,376.1 312.0,376.5 312.0,377.0 312.0,377.4 312.0,378.0 311.9,378.5 311.8,379.1 311.6,379.6 311.4,380.2 311.1,380.8 310.8,381.4 310.5,381.9 310.1,382.5 309.7,383.0 309.3,383.6 308.9,384.0 308.4,384.5 307.9,384.9 307.5,385.3 307.0,385.6 306.5,385.9 306.1,386.1 305.6,386.3 305.2,386.4 304.7,386.4 304.3,386.4 304.0,386.4 303.6,386.3 303.3,386.1 303.1,385.9 302.8,385.6 302.7,385.3 302.5,384.9 302.4,384.5 302.4,384.0 302.4,383.6 302.4,383.0 302.5,382.5 302.6,381.9 302.8,381.4 303.0,380.8 303.3,380.2 303.6,379.6 303.9,379.1 304.3,378.5 304.7,378.0 305.1,377.4 305.5,377.0 306.0,376.5 306.5,376.1 306.9,375.7 307.4,375.4 307.9,375.1 308.3,374.9 308.8,374.7 309.2,374.6 309.7,374.6 310.1,374.6 310.4,374.6 310.8,374.7Z" fill="#fff" stroke="#000" stroke-width="1.20"/>
<path d="M306.1,371.5 306.4,371.7 306.6,372.0 306.8,372.3 306.9,372.7 307.0,373.1 307.1,373.6 307.1,374.0 307.0,374.6 307.0,375.1 306.8,375.7 306.6,376.2 306.4,376.8 306.2,377.4 305.9,378.0 305.5,378.5 305.2,379.1 304.8,379.6 304.4,380.2 303.9,380.6 303.5,381.1 303.0,381.5 302.5,381.9 302.1,382.2 301.6,382.5 301.1,382.7 300.7,382.9 300.2,383.0 299.8,383.0 299.4,383.0 299.0,383.0 298.7,382.9 298.4,382.7 298.1,382.5 297.9,382.2 297.7,381.9 297.6,381.5 297.5,381.1 297.4,380.6 297.4,380.1 297.5,379.6 297.6,379.1 297.7,378.5 297.9,378.0 298.1,377.4 298.4,376.8 298.7,376.2 299.0,375.6 299.4,375.1 299.7,374.5 300.2,374.0 300.6,373.5 301.0,373.1 301.5,372.7 302.0,372.3 302.5,372.0 302.9,371.7 303.4,371.5 303.9,371.3 304.3,371.2 304.7,371.2 305.1,371.2 305.5,371.2 305.8,371.3Z" fill="none" stroke="#000" stroke-width="1.20" clip-path="url(#c12)"/>
<path d="M252.6,391.6 260.0,387.5 300.0,412.0 285.0,425.0 269.7,411.3 248.0,397.0Z" fill="#fff" stroke="#000" stroke-width="1.20" stroke-linejoin="round"/>
<path d="M270.8,413.0 270.7,412.8 270.5,412.7 270.4,412.4 270.3,412.2 270.2,411.9 270.2,411.6 270.2,411.3 270.2,410.9 270.3,410.6 270.4,410.2 270.5,409.8 270.6,409.4 270.8,409.0 271.0,408.6 271.2,408.2 271.5,407.8 271.7,407.5 272.0,407.1 272.3,406.8 272.6,406.5 272.9,406.2 273.3,406.0 273.6,405.8 273.9,405.6 274.2,405.4 274.5,405.3 274.8,405.2 275.1,405.2 275.4,405.2 275.6,405.2 275.9,405.3 276.1,405.4 395.4,487.8 395.2,487.6 395.0,487.6 394.7,487.5 394.5,487.5 394.2,487.6 393.9,487.6 393.6,487.8 393.3,487.9 392.9,488.1 392.6,488.3 392.3,488.6 392.0,488.8 391.7,489.1 391.4,489.5 391.1,489.8 390.8,490.2 390.6,490.6 390.4,490.9 390.2,491.3 390.0,491.7 389.8,492.1 389.7,492.5 389.6,492.9 389.6,493.3 389.5,493.6 389.5,493.9 389.6,494.2 389.6,494.5 389.7,494.8 389.9,495.0 390.0,495.2 390.2,495.3Z" fill="#fff" stroke="#000" stroke-width="1.20"/>
<path d="M276.1,405.4 276.2,405.6 276.4,405.8 276.5,406.0 276.6,406.2 276.7,406.5 276.7,406.8 276.7,407.1 276.7,407.5 276.6,407.9 276.5,408.2 276.4,408.6 276.3,409.0 276.1,409.4 275.9,409.8 275.7,410.2 275.4,410.6 275.1,410.9 274.9,411.3 274.6,411.6 274.3,411.9 274.0,412.2 273.6,412.4 273.3,412.7 273.0,412.8 272.7,413.0 272.4,413.1 272.1,413.2 271.8,413.2 271.5,413.2 271.3,413.2 271.0,413.1 270.8,413.0 270.7,412.8 270.5,412.7 270.4,412.4 270.3,412.2 270.2,411.9 270.2,411.6 270.2,411.3 270.2,410.9 270.3,410.6 270.4,410.2 270.5,409.8 270.6,409.4 270.8,409.0 271.0,408.6 271.2,408.2 271.5,407.8 271.7,407.5 272.0,407.1 272.3,406.8 272.6,406.5 272.9,406.2 273.3,406.0 273.6,405.8 273.9,405.6 274.2,405.4 274.5,405.3 274.8,405.2 275.1,405.2 275.4,405.2 275.6,405.2 275.9,405.3Z" fill="#fff" stroke="#000" stroke-width="1.20"/>
<path d="M281.7,451.3 282.1,451.6 282.4,452.0 282.7,452.5 282.9,453.0 283.0,453.6 283.1,454.3 283.1,455.0 283.0,455.8 282.9,456.6 282.7,457.4 282.5,458.2 282.1,459.1 281.7,459.9 281.3,460.8 280.8,461.6 280.3,462.5 279.7,463.2 279.1,464.0 278.4,464.7 277.8,465.4 277.1,466.0 276.4,466.5 275.7,467.0 275.0,467.4 274.3,467.7 273.7,468.0 273.0,468.2 272.4,468.2 271.8,468.2 271.3,468.1 270.8,468.0 270.3,467.7 269.9,467.4 269.6,467.0 269.3,466.5 269.1,466.0 269.0,465.4 268.9,464.7 268.9,464.0 269.0,463.2 269.1,462.4 269.3,461.6 269.5,460.8 269.9,459.9 270.3,459.1 270.7,458.2 271.2,457.4 271.7,456.5 272.3,455.8 272.9,455.0 273.6,454.3 274.2,453.6 274.9,453.0 275.6,452.5 276.3,452.0 277.0,451.6 277.7,451.3 278.3,451.0 279.0,450.8 279.6,450.8 280.2,450.8 280.7,450.9 281.2,451.0Z" fill="#fff" stroke="#000" stroke-width="1.25"/>
<path d="M279.8,449.9 280.2,450.2 280.5,450.7 280.8,451.1 281.0,451.7 281.1,452.3 281.2,452.9 281.2,453.7 281.1,454.4 281.0,455.2 280.8,456.0 280.6,456.9 280.2,457.7 279.8,458.6 279.4,459.4 278.9,460.3 278.4,461.1 277.8,461.9 277.2,462.7 276.5,463.4 275.9,464.0 275.2,464.6 274.5,465.2 273.8,465.7 273.1,466.1 272.4,466.4 271.8,466.6 271.1,466.8 270.5,466.9 269.9,466.9 269.4,466.8 268.9,466.6 268.4,466.4 268.0,466.1 267.7,465.6 267.4,465.2 267.2,464.6 267.1,464.0 267.0,463.4 267.0,462.6 267.1,461.9 267.2,461.1 267.4,460.3 267.6,459.4 268.0,458.6 268.4,457.7 268.8,456.9 269.3,456.0 269.8,455.2 270.4,454.4 271.0,453.6 271.7,452.9 272.3,452.3 273.0,451.7 273.7,451.1 274.4,450.6 275.1,450.2 275.8,449.9 276.4,449.7 277.1,449.5 277.7,449.4 278.3,449.4 278.8,449.5 279.3,449.7Z" fill="#fff" stroke="#000" stroke-width="1.25"/>
<path d="M277.9,448.6 278.3,448.9 278.6,449.3 278.9,449.8 279.1,450.3 279.2,450.9 279.3,451.6 279.3,452.3 279.2,453.1 279.1,453.9 278.9,454.7 278.7,455.5 278.3,456.4 277.9,457.2 277.5,458.1 277.0,458.9 276.5,459.8 275.9,460.5 275.3,461.3 274.6,462.0 274.0,462.7 273.3,463.3 272.6,463.8 271.9,464.3 271.2,464.7 270.5,465.0 269.9,465.3 269.2,465.5 268.6,465.5 268.0,465.5 267.5,465.4 267.0,465.3 266.5,465.0 266.1,464.7 265.8,464.3 265.5,463.8 265.3,463.3 265.2,462.7 265.1,462.0 265.1,461.3 265.2,460.5 265.3,459.7 265.5,458.9 265.7,458.1 266.1,457.2 266.5,456.4 266.9,455.5 267.4,454.7 267.9,453.8 268.5,453.1 269.1,452.3 269.8,451.6 270.4,450.9 271.1,450.3 271.8,449.8 272.5,449.3 273.2,448.9 273.9,448.6 274.5,448.3 275.2,448.1 275.8,448.1 276.4,448.1 276.9,448.2 277.4,448.3Z" fill="#fff" stroke="#000" stroke-width="1.25"/>
<path d="M276.0,447.2 276.4,447.5 276.7,448.0 277.0,448.4 277.2,449.0 277.3,449.6 277.4,450.2 277.4,451.0 277.3,451.7 277.2,452.5 277.0,453.3 276.8,454.2 276.4,455.0 276.0,455.9 275.6,456.7 275.1,457.6 274.6,458.4 274.0,459.2 273.4,460.0 272.7,460.7 272.1,461.3 271.4,461.9 270.7,462.5 270.0,463.0 269.3,463.4 268.6,463.7 268.0,463.9 267.3,464.1 266.7,464.2 266.1,464.2 265.6,464.1 265.1,463.9 264.6,463.7 264.2,463.4 263.9,462.9 263.6,462.5 263.4,461.9 263.3,461.3 263.2,460.7 263.2,459.9 263.3,459.2 263.4,458.4 263.6,457.6 263.8,456.7 264.2,455.9 264.6,455.0 265.0,454.2 265.5,453.3 266.0,452.5 266.6,451.7 267.2,450.9 267.9,450.2 268.5,449.6 269.2,449.0 269.9,448.4 270.6,447.9 271.3,447.5 272.0,447.2 272.6,447.0 273.3,446.8 273.9,446.7 274.5,446.7 275.0,446.8 275.5,447.0Z" fill="#fff" stroke="#000" stroke-width="1.25"/>
<path d="M274.1,445.9 274.5,446.2 274.8,446.6 275.1,447.1 275.3,447.6 275.4,448.2 275.5,448.9 275.5,449.6 275.4,450.4 275.3,451.2 275.1,452.0 274.9,452.8 274.5,453.7 274.1,454.5 273.7,455.4 273.2,456.2 272.7,457.1 272.1,457.8 271.5,458.6 270.8,459.3 270.2,460.0 269.5,460.6 268.8,461.1 268.1,461.6 267.4,462.0 266.7,462.3 266.1,462.6 265.4,462.8 264.8,462.8 264.2,462.8 263.7,462.7 263.2,462.6 262.7,462.3 262.3,462.0 262.0,461.6 261.7,461.1 261.5,460.6 261.4,460.0 261.3,459.3 261.3,458.6 261.4,457.8 261.5,457.0 261.7,456.2 261.9,455.4 262.3,454.5 262.7,453.7 263.1,452.8 263.6,452.0 264.1,451.1 264.7,450.4 265.3,449.6 266.0,448.9 266.6,448.2 267.3,447.6 268.0,447.1 268.7,446.6 269.4,446.2 270.1,445.9 270.7,445.6 271.4,445.4 272.0,445.4 272.6,445.4 273.1,445.5 273.6,445.6Z" fill="#fff" stroke="#000" stroke-width="1.25"/>
<path d="M272.2,444.5 272.6,444.8 272.9,445.3 273.2,445.7 273.4,446.3 273.5,446.9 273.6,447.5 273.6,448.3 273.5,449.0 273.4,449.8 273.2,450.6 273.0,451.5 272.6,452.3 272.2,453.2 271.8,454.0 271.3,454.9 270.8,455.7 270.2,456.5 269.6,457.3 268.9,458.0 268.3,458.6 267.6,459.2 266.9,459.8 266.2,460.3 265.5,460.7 264.8,461.0 264.2,461.2 263.5,461.4 262.9,461.5 262.3,461.5 261.8,461.4 261.3,461.2 260.8,461.0 260.4,460.7 260.1,460.2 259.8,459.8 259.6,459.2 259.5,458.6 259.4,458.0 259.4,457.2 259.5,456.5 259.6,455.7 259.8,454.9 260.0,454.0 260.4,453.2 260.8,452.3 261.2,451.5 261.7,450.6 262.2,449.8 262.8,449.0 263.4,448.2 264.1,447.5 264.7,446.9 265.4,446.3 266.1,445.7 266.8,445.2 267.5,444.8 268.2,444.5 268.8,444.3 269.5,444.1 270.1,444.0 270.7,444.0 271.2,444.1 271.7,444.3Z" fill="#fff" stroke="#000" stroke-width="1.25"/>
<path d="M270.3,443.2 270.7,443.5 271.0,443.9 271.3,444.4 271.5,444.9 271.6,445.5 271.7,446.2 271.7,446.9 271.6,447.7 271.5,448.5 271.3,449.3 271.1,450.1 270.7,451.0 270.3,451.8 269.9,452.7 269.4,453.5 268.9,454.4 268.3,455.1 267.7,455.9 267.0,456.6 266.4,457.3 265.7,457.9 265.0,458.4 264.3,458.9 263.6,459.3 262.9,459.6 262.3,459.9 261.6,460.1 261.0,460.1 260.4,460.1 259.9,460.0 259.4,459.9 258.9,459.6 258.5,459.3 258.2,458.9 257.9,458.4 257.7,457.9 257.6,457.3 257.5,456.6 257.5,455.9 257.6,455.1 257.7,454.3 257.9,453.5 258.1,452.7 258.5,451.8 258.9,451.0 259.3,450.1 259.8,449.3 260.3,448.4 260.9,447.7 261.5,446.9 262.2,446.2 262.8,445.5 263.5,444.9 264.2,444.4 264.9,443.9 265.6,443.5 266.3,443.2 266.9,442.9 267.6,442.7 268.2,442.7 268.8,442.7 269.3,442.8 269.8,442.9Z" fill="#fff" stroke="#000" stroke-width="1.25"/>
<path d="M268.4,441.8 268.8,442.1 269.1,442.6 269.4,443.0 269.6,443.6 269.7,444.2 269.8,444.8 269.8,445.6 269.7,446.3 269.6,447.1 269.4,447.9 269.2,448.8 268.8,449.6 268.4,450.5 268.0,451.3 267.5,452.2 267.0,453.0 266.4,453.8 265.8,454.6 265.1,455.3 264.5,455.9 263.8,456.5 263.1,457.1 262.4,457.6 261.7,458.0 261.0,458.3 260.4,458.5 259.7,458.7 259.1,458.8 258.5,458.8 258.0,458.7 257.5,458.5 257.0,458.3 256.6,458.0 256.3,457.5 256.0,457.1 255.8,456.5 255.7,455.9 255.6,455.3 255.6,454.5 255.7,453.8 255.8,453.0 256.0,452.2 256.2,451.3 256.6,450.5 257.0,449.6 257.4,448.8 257.9,447.9 258.4,447.1 259.0,446.3 259.6,445.5 260.3,444.8 260.9,444.2 261.6,443.6 262.3,443.0 263.0,442.5 263.7,442.1 264.4,441.8 265.0,441.6 265.7,441.4 266.3,441.3 266.9,441.3 267.4,441.4 267.9,441.6Z" fill="#fff" stroke="#000" stroke-width="1.25"/>
<path d="M264.5,441.9 264.9,442.2 265.1,442.5 265.3,442.9 265.5,443.3 265.6,443.8 265.7,444.3 265.7,444.9 265.6,445.5 265.5,446.1 265.4,446.8 265.2,447.5 264.9,448.2 264.6,448.8 264.2,449.5 263.9,450.2 263.4,450.9 263.0,451.5 262.5,452.1 262.0,452.7 261.4,453.2 260.9,453.7 260.3,454.1 259.8,454.5 259.2,454.8 258.7,455.1 258.1,455.3 257.6,455.4 257.1,455.5 256.6,455.5 256.2,455.4 255.8,455.3 255.5,455.1 255.1,454.8 254.9,454.5 254.7,454.1 254.5,453.7 254.4,453.2 254.3,452.7 254.3,452.1 254.4,451.5 254.5,450.9 254.6,450.2 254.8,449.5 255.1,448.8 255.4,448.2 255.8,447.5 256.1,446.8 256.6,446.1 257.0,445.5 257.5,444.9 258.0,444.3 258.6,443.8 259.1,443.3 259.7,442.9 260.2,442.5 260.8,442.2 261.3,441.9 261.9,441.7 262.4,441.6 262.9,441.5 263.4,441.5 263.8,441.6 264.2,441.7Z" fill="#fff" stroke="#000" stroke-width="1.30"/>
<path d="M262.9,443.4 263.1,443.6 263.3,443.8 263.5,444.1 263.6,444.4 263.7,444.8 263.8,445.2 263.8,445.6 263.7,446.1 263.6,446.5 263.5,447.0 263.4,447.5 263.2,448.0 262.9,448.6 262.7,449.1 262.4,449.6 262.1,450.1 261.7,450.5 261.4,451.0 261.0,451.4 260.6,451.8 260.2,452.2 259.7,452.5 259.3,452.8 258.9,453.0 258.5,453.2 258.1,453.4 257.7,453.5 257.3,453.5 257.0,453.5 256.7,453.5 256.4,453.4 256.1,453.2 255.9,453.0 255.7,452.8 255.5,452.5 255.4,452.2 255.3,451.8 255.2,451.4 255.2,451.0 255.3,450.5 255.4,450.1 255.5,449.6 255.6,449.1 255.8,448.6 256.1,448.0 256.3,447.5 256.6,447.0 256.9,446.5 257.3,446.1 257.6,445.6 258.0,445.2 258.4,444.8 258.8,444.4 259.3,444.1 259.7,443.8 260.1,443.6 260.5,443.4 260.9,443.2 261.3,443.1 261.7,443.1 262.0,443.1 262.3,443.1 262.6,443.2Z" fill="none" stroke="#000" stroke-width="1.10"/>
<path d="M261.8,444.4 262.0,444.6 262.1,444.8 262.3,445.0 262.4,445.2 262.4,445.5 262.5,445.8 262.5,446.1 262.4,446.5 262.4,446.8 262.3,447.2 262.2,447.6 262.0,448.0 261.8,448.4 261.6,448.8 261.4,449.2 261.2,449.6 260.9,449.9 260.6,450.3 260.3,450.6 260.0,450.9 259.7,451.2 259.4,451.4 259.1,451.7 258.7,451.8 258.4,452.0 258.1,452.1 257.8,452.2 257.5,452.2 257.3,452.2 257.0,452.2 256.8,452.1 256.6,452.0 256.4,451.8 256.3,451.6 256.1,451.4 256.0,451.2 256.0,450.9 255.9,450.6 255.9,450.3 256.0,449.9 256.0,449.6 256.1,449.2 256.2,448.8 256.4,448.4 256.6,448.0 256.8,447.6 257.0,447.2 257.2,446.8 257.5,446.5 257.8,446.1 258.1,445.8 258.4,445.5 258.7,445.2 259.0,445.0 259.3,444.7 259.7,444.6 260.0,444.4 260.3,444.3 260.6,444.2 260.9,444.2 261.1,444.2 261.4,444.2 261.6,444.3Z" fill="#fff" stroke="#000" stroke-width="1.30"/>
<path d="M373.4,593.2 370.0,590.3 386.5,601.7 389.8,604.6Z" fill="#fff" stroke="#fff" stroke-width="0.60"/>
<path d="M370.0,590.3 364.9,584.8 381.4,596.2 386.5,601.7Z" fill="#fff" stroke="#fff" stroke-width="0.60"/>
<path d="M364.9,584.8 358.5,577.4 374.9,588.8 381.4,596.2Z" fill="#fff" stroke="#fff" stroke-width="0.60"/>
<path d="M417.7,487.2 420.1,488.7 436.5,500.0 434.2,498.6Z" fill="#fff" stroke="#fff" stroke-width="0.60"/>
<path d="M415.3,486.2 417.7,487.2 434.2,498.6 431.8,497.6Z" fill="#fff" stroke="#fff" stroke-width="0.60"/>
<path d="M358.5,577.4 352.1,569.2 368.6,580.6 374.9,588.8Z" fill="#fff" stroke="#fff" stroke-width="0.60"/>
<path d="M412.7,485.6 415.3,486.2 431.8,497.6 429.2,496.9Z" fill="#fff" stroke="#fff" stroke-width="0.60"/>
<path d="M410.3,485.3 412.7,485.6 429.2,496.9 426.8,496.6Z" fill="#fff" stroke="#fff" stroke-width="0.60"/>
<path d="M408.2,485.3 410.3,485.3 426.8,496.6 424.7,496.7Z" fill="#fff" stroke="#fff" stroke-width="0.60"/>
<path d="M406.8,486.0 408.2,485.3 424.7,496.7 423.3,497.4Z" fill="#fff" stroke="#fff" stroke-width="0.60"/>
<path d="M405.8,487.2 406.8,486.0 423.3,497.4 422.2,498.6Z" fill="#fff" stroke="#fff" stroke-width="0.60"/>
<path d="M404.8,488.5 405.8,487.2 422.2,498.6 421.3,499.8Z" fill="#fff" stroke="#fff" stroke-width="0.60"/>
<path d="M403.4,489.1 404.8,488.5 421.3,499.8 419.9,500.5Z" fill="#fff" stroke="#fff" stroke-width="0.60"/>
<path d="M401.4,489.1 403.4,489.1 419.9,500.5 417.9,500.5Z" fill="#fff" stroke="#fff" stroke-width="0.60"/>
<path d="M352.1,569.2 347.1,561.6 363.6,573.0 368.6,580.6Z" fill="#fff" stroke="#fff" stroke-width="0.60"/>
<path d="M399.0,488.7 401.4,489.1 417.9,500.5 415.5,500.0Z" fill="#fff" stroke="#fff" stroke-width="0.60"/>
<path d="M396.7,488.0 399.0,488.7 415.5,500.0 413.1,499.3Z" fill="#fff" stroke="#fff" stroke-width="0.60"/>
<path d="M394.8,487.2 396.7,488.0 413.1,499.3 411.3,498.6Z" fill="#fff" stroke="#fff" stroke-width="0.60"/>
<path d="M347.1,561.6 343.9,554.7 360.4,566.1 363.6,573.0Z" fill="#fff" stroke="#fff" stroke-width="0.60"/>
<path d="M393.7,486.5 394.8,487.2 411.3,498.6 410.2,497.9Z" fill="#fff" stroke="#fff" stroke-width="0.60"/>
<path d="M343.9,554.7 341.8,547.8 358.2,559.2 360.4,566.1Z" fill="#fff" stroke="#fff" stroke-width="0.60"/>
<path d="M341.8,547.8 340.4,541.2 356.9,552.5 358.2,559.2Z" fill="#fff" stroke="#fff" stroke-width="0.60"/>
<path d="M385.6,474.1 387.6,475.4 404.0,486.7 402.1,485.4Z" fill="#fff" stroke="#fff" stroke-width="0.60"/>
<path d="M383.6,473.0 385.6,474.1 402.1,485.4 400.0,484.3Z" fill="#fff" stroke="#fff" stroke-width="0.60"/>
<path d="M340.4,541.2 339.5,534.9 356.0,546.3 356.9,552.5Z" fill="#fff" stroke="#fff" stroke-width="0.60"/>
<path d="M381.5,472.0 383.6,473.0 400.0,484.3 398.0,483.4Z" fill="#fff" stroke="#fff" stroke-width="0.60"/>
<path d="M339.5,534.9 339.0,529.3 355.5,540.7 356.0,546.3Z" fill="#fff" stroke="#fff" stroke-width="0.60"/>
<path d="M379.6,471.2 381.5,472.0 398.0,483.4 396.1,482.6Z" fill="#fff" stroke="#fff" stroke-width="0.60"/>
<path d="M377.6,470.6 379.6,471.2 396.1,482.6 394.1,481.9Z" fill="#fff" stroke="#fff" stroke-width="0.60"/>
<path d="M339.0,529.3 339.1,524.2 355.5,535.6 355.5,540.7Z" fill="#fff" stroke="#fff" stroke-width="0.60"/>
<path d="M375.7,470.2 377.6,470.6 394.1,481.9 392.2,481.6Z" fill="#fff" stroke="#fff" stroke-width="0.60"/>
<path d="M339.1,524.2 339.8,519.2 356.3,530.5 355.5,535.6Z" fill="#fff" stroke="#fff" stroke-width="0.60"/>
<path d="M373.8,470.4 375.7,470.2 392.2,481.6 390.3,481.8Z" fill="#fff" stroke="#fff" stroke-width="0.60"/>
<path d="M372.2,471.3 373.8,470.4 390.3,481.8 388.7,482.6Z" fill="#fff" stroke="#fff" stroke-width="0.60"/>
<path d="M370.7,472.6 372.2,471.3 388.7,482.6 387.2,484.0Z" fill="#fff" stroke="#fff" stroke-width="0.60"/>
<path d="M339.8,519.2 341.4,513.9 357.9,525.3 356.3,530.5Z" fill="#fff" stroke="#fff" stroke-width="0.60"/>
<path d="M369.1,474.4 370.7,472.6 387.2,484.0 385.6,485.8Z" fill="#fff" stroke="#fff" stroke-width="0.60"/>
<path d="M367.2,476.7 369.1,474.4 385.6,485.8 383.7,488.1Z" fill="#fff" stroke="#fff" stroke-width="0.60"/>
<path d="M365.0,479.6 367.2,476.7 383.7,488.1 381.5,490.9Z" fill="#fff" stroke="#fff" stroke-width="0.60"/>
<path d="M362.5,482.9 365.0,479.6 381.5,490.9 379.0,494.2Z" fill="#fff" stroke="#fff" stroke-width="0.60"/>
<path d="M359.8,486.7 362.5,482.9 379.0,494.2 376.3,498.0Z" fill="#fff" stroke="#fff" stroke-width="0.60"/>
<path d="M356.7,491.0 359.8,486.7 376.3,498.0 373.2,502.4Z" fill="#fff" stroke="#fff" stroke-width="0.60"/>
<path d="M341.4,513.9 344.4,508.2 360.9,519.5 357.9,525.3Z" fill="#fff" stroke="#fff" stroke-width="0.60"/>
<path d="M352.9,496.2 356.7,491.0 373.2,502.4 369.4,507.6Z" fill="#fff" stroke="#fff" stroke-width="0.60"/>
<path d="M348.5,502.1 352.9,496.2 369.4,507.6 365.0,513.4Z" fill="#fff" stroke="#fff" stroke-width="0.60"/>
<path d="M344.4,508.2 348.5,502.1 365.0,513.4 360.9,519.5Z" fill="#fff" stroke="#fff" stroke-width="0.60"/>
<path d="M373.4,593.2 370.0,590.3" fill="none" stroke="#000" stroke-width="1.20" stroke-linecap="round"/>
<path d="M370.0,590.3 364.9,584.8" fill="none" stroke="#000" stroke-width="1.20" stroke-linecap="round"/>
<path d="M364.9,584.8 358.5,577.4" fill="none" stroke="#000" stroke-width="1.20" stroke-linecap="round"/>
<path d="M417.7,487.2 420.1,488.7" fill="none" stroke="#000" stroke-width="1.20" stroke-linecap="round"/>
<path d="M415.3,486.2 417.7,487.2" fill="none" stroke="#000" stroke-width="1.20" stroke-linecap="round"/>
<path d="M358.5,577.4 352.1,569.2" fill="none" stroke="#000" stroke-width="1.20" stroke-linecap="round"/>
<path d="M412.7,485.6 415.3,486.2" fill="none" stroke="#000" stroke-width="1.20" stroke-linecap="round"/>
<path d="M410.3,485.3 412.7,485.6" fill="none" stroke="#000" stroke-width="1.20" stroke-linecap="round"/>
<path d="M408.2,485.3 410.3,485.3" fill="none" stroke="#000" stroke-width="1.20" stroke-linecap="round"/>
<path d="M406.8,486.0 408.2,485.3" fill="none" stroke="#000" stroke-width="1.20" stroke-linecap="round"/>
<path d="M405.8,487.2 406.8,486.0" fill="none" stroke="#000" stroke-width="1.20" stroke-linecap="round"/>
<path d="M404.8,488.5 405.8,487.2" fill="none" stroke="#000" stroke-width="1.20" stroke-linecap="round"/>
<path d="M403.4,489.1 404.8,488.5" fill="none" stroke="#000" stroke-width="1.20" stroke-linecap="round"/>
<path d="M401.4,489.1 403.4,489.1" fill="none" stroke="#000" stroke-width="1.20" stroke-linecap="round"/>
<path d="M352.1,569.2 347.1,561.6" fill="none" stroke="#000" stroke-width="1.20" stroke-linecap="round"/>
<path d="M399.0,488.7 401.4,489.1" fill="none" stroke="#000" stroke-width="1.20" stroke-linecap="round"/>
<path d="M396.7,488.0 399.0,488.7" fill="none" stroke="#000" stroke-width="1.20" stroke-linecap="round"/>
<path d="M394.8,487.2 396.7,488.0" fill="none" stroke="#000" stroke-width="1.20" stroke-linecap="round"/>
<path d="M347.1,561.6 343.9,554.7" fill="none" stroke="#000" stroke-width="1.20" stroke-linecap="round"/>
<path d="M393.7,486.5 394.8,487.2" fill="none" stroke="#000" stroke-width="1.20" stroke-linecap="round"/>
<path d="M343.9,554.7 341.8,547.8" fill="none" stroke="#000" stroke-width="1.20" stroke-linecap="round"/>
<path d="M341.8,547.8 340.4,541.2" fill="none" stroke="#000" stroke-width="1.20" stroke-linecap="round"/>
<path d="M385.6,474.1 387.6,475.4" fill="none" stroke="#000" stroke-width="1.20" stroke-linecap="round"/>
<path d="M383.6,473.0 385.6,474.1" fill="none" stroke="#000" stroke-width="1.20" stroke-linecap="round"/>
<path d="M340.4,541.2 339.5,534.9" fill="none" stroke="#000" stroke-width="1.20" stroke-linecap="round"/>
<path d="M381.5,472.0 383.6,473.0" fill="none" stroke="#000" stroke-width="1.20" stroke-linecap="round"/>
<path d="M339.5,534.9 339.0,529.3" fill="none" stroke="#000" stroke-width="1.20" stroke-linecap="round"/>
<path d="M379.6,471.2 381.5,472.0" fill="none" stroke="#000" stroke-width="1.20" stroke-linecap="round"/>
<path d="M377.6,470.6 379.6,471.2" fill="none" stroke="#000" stroke-width="1.20" stroke-linecap="round"/>
<path d="M339.0,529.3 339.1,524.2" fill="none" stroke="#000" stroke-width="1.20" stroke-linecap="round"/>
<path d="M375.7,470.2 377.6,470.6" fill="none" stroke="#000" stroke-width="1.20" stroke-linecap="round"/>
<path d="M339.1,524.2 339.8,519.2" fill="none" stroke="#000" stroke-width="1.20" stroke-linecap="round"/>
<path d="M373.8,470.4 375.7,470.2" fill="none" stroke="#000" stroke-width="1.20" stroke-linecap="round"/>
<path d="M372.2,471.3 373.8,470.4" fill="none" stroke="#000" stroke-width="1.20" stroke-linecap="round"/>
<path d="M370.7,472.6 372.2,471.3" fill="none" stroke="#000" stroke-width="1.20" stroke-linecap="round"/>
<path d="M339.8,519.2 341.4,513.9" fill="none" stroke="#000" stroke-width="1.20" stroke-linecap="round"/>
<path d="M369.1,474.4 370.7,472.6" fill="none" stroke="#000" stroke-width="1.20" stroke-linecap="round"/>
<path d="M367.2,476.7 369.1,474.4" fill="none" stroke="#000" stroke-width="1.20" stroke-linecap="round"/>
<path d="M365.0,479.6 367.2,476.7" fill="none" stroke="#000" stroke-width="1.20" stroke-linecap="round"/>
<path d="M362.5,482.9 365.0,479.6" fill="none" stroke="#000" stroke-width="1.20" stroke-linecap="round"/>
<path d="M359.8,486.7 362.5,482.9" fill="none" stroke="#000" stroke-width="1.20" stroke-linecap="round"/>
<path d="M356.7,491.0 359.8,486.7" fill="none" stroke="#000" stroke-width="1.20" stroke-linecap="round"/>
<path d="M341.4,513.9 344.4,508.2" fill="none" stroke="#000" stroke-width="1.20" stroke-linecap="round"/>
<path d="M352.9,496.2 356.7,491.0" fill="none" stroke="#000" stroke-width="1.20" stroke-linecap="round"/>
<path d="M348.5,502.1 352.9,496.2" fill="none" stroke="#000" stroke-width="1.20" stroke-linecap="round"/>
<path d="M344.4,508.2 348.5,502.1" fill="none" stroke="#000" stroke-width="1.20" stroke-linecap="round"/>
<path d="M383.7,488.1 385.6,485.8 387.2,484.0 388.7,482.6 390.3,481.8 392.2,481.6 394.1,481.9 396.1,482.6 398.0,483.4 400.0,484.3 402.1,485.4 404.0,486.7 405.6,488.1 406.7,489.7 407.4,491.5 407.9,493.3 408.5,494.8 409.1,496.0 409.5,497.0 410.2,497.9 411.3,498.6 413.1,499.3 415.5,500.0 417.9,500.5 419.9,500.5 421.3,499.8 422.2,498.6 423.3,497.4 424.7,496.7 426.8,496.6 429.2,496.9 431.8,497.6 434.2,498.6 436.5,500.0 438.9,501.9 441.0,504.0 442.8,506.3 444.2,508.9 445.2,511.8 446.0,514.8 446.6,517.7 447.1,520.6 447.5,523.5 447.6,526.3 447.6,529.2 447.4,531.9 447.1,534.4 446.5,537.2 445.7,540.6 444.6,544.9 443.4,549.9 441.8,555.1 440.0,560.0 437.8,564.7 435.4,569.3 432.7,573.8 430.0,578.0 427.0,581.9 423.8,585.6 420.6,589.0 418.0,592.0 416.1,594.4 414.7,596.4 413.4,598.2 412.0,600.0 410.5,602.1 409.0,604.3 407.4,606.2 405.6,607.4 403.4,607.7 401.0,607.4 398.5,606.8 396.0,606.0 393.9,605.7 392.1,605.6 389.8,604.6 386.5,601.7 381.4,596.2 374.9,588.8 368.6,580.6 363.6,573.0 360.4,566.1 358.2,559.2 356.9,552.5 356.0,546.3 355.5,540.7 355.5,535.6 356.3,530.5 357.9,525.3 360.9,519.5 365.0,513.4 369.4,507.6 373.2,502.4 376.3,498.0 379.0,494.2 381.5,490.9Z" fill="#fff" stroke="#000" stroke-width="1.20" stroke-linejoin="round"/>
<path d="M359.8,525.3 377.0,536.8" fill="none" stroke="#000" stroke-width="1.20"/>
<path d="M428.5,517.4 430.1,518.7 431.4,520.3 432.5,522.2 433.3,524.4 433.9,526.8 434.2,529.5 434.2,532.4 434.0,535.4 433.4,538.6 432.7,541.8 431.6,545.2 430.3,548.6 428.8,552.1 427.0,555.5 425.1,558.8 422.9,562.1 420.6,565.3 418.2,568.3 415.6,571.2 412.9,573.8 410.2,576.3 407.4,578.4 404.6,580.3 401.8,582.0 399.1,583.3 396.4,584.3 393.8,584.9 391.4,585.3 389.0,585.3 386.9,584.9 384.9,584.2 383.1,583.2 381.5,581.9 380.2,580.3 379.1,578.4 378.3,576.2 377.7,573.8 377.4,571.1 377.4,568.3 377.6,565.2 378.2,562.1 378.9,558.8 380.0,555.4 381.3,552.0 382.8,548.6 384.6,545.2 386.5,541.8 388.7,538.5 391.0,535.3 393.4,532.3 396.0,529.5 398.7,526.8 401.4,524.4 404.2,522.2 407.0,520.3 409.8,518.7 412.5,517.4 415.2,516.4 417.8,515.7 420.2,515.4 422.6,515.4 424.7,515.7 426.7,516.4Z" fill="none" stroke="#000" stroke-width="1.20"/>
<path d="M386.5,578.3 385.2,577.2 384.0,575.8 383.1,574.2 382.4,572.3 381.9,570.3 381.7,568.0 381.6,565.6 381.9,563.0 382.3,560.3 383.0,557.5 383.9,554.7 385.0,551.8 386.3,548.8 387.8,545.9 389.4,543.1 391.3,540.3 393.2,537.6 395.3,535.0 397.5,532.6 399.7,530.3 402.1,528.3 404.4,526.4 406.8,524.8 409.2,523.4 411.5,522.3 413.8,521.5 416.0,520.9 418.1,520.6 420.1,520.6 421.9,520.9 423.6,521.5 425.1,522.3 437.5,530.8 435.9,530.0 434.2,529.4 432.4,529.1 430.4,529.1 428.3,529.4 426.1,530.0 423.8,530.8 421.5,531.9 419.1,533.3 416.8,534.9 414.4,536.8 412.1,538.9 409.8,541.1 407.6,543.5 405.6,546.1 403.6,548.8 401.8,551.6 400.1,554.4 398.6,557.4 397.3,560.3 396.2,563.2 395.3,566.0 394.7,568.8 394.2,571.5 394.0,574.1 394.0,576.5 394.3,578.8 394.7,580.9 395.5,582.7 396.4,584.3 397.5,585.7 398.8,586.8Z" fill="#fff" stroke="#000" stroke-width="1.20"/>
<path d="M437.5,530.8 438.8,532.0 439.9,533.3 440.9,535.0 441.6,536.8 442.0,538.9 442.3,541.1 442.3,543.6 442.1,546.1 441.6,548.8 441.0,551.6 440.1,554.5 439.0,557.4 437.7,560.3 436.2,563.2 434.5,566.1 432.7,568.9 430.7,571.6 428.7,574.1 426.5,576.6 424.2,578.8 421.9,580.9 419.5,582.7 417.2,584.4 414.8,585.7 412.5,586.8 410.2,587.7 408.0,588.3 405.9,588.5 403.9,588.5 402.1,588.2 400.4,587.7 398.8,586.8 397.5,585.7 396.4,584.3 395.5,582.7 394.7,580.9 394.3,578.8 394.0,576.5 394.0,574.1 394.2,571.5 394.7,568.8 395.3,566.0 396.2,563.2 397.3,560.3 398.6,557.4 400.1,554.4 401.8,551.6 403.6,548.8 405.6,546.1 407.6,543.5 409.8,541.1 412.1,538.9 414.4,536.8 416.8,534.9 419.1,533.3 421.5,531.9 423.8,530.8 426.1,530.0 428.3,529.4 430.4,529.1 432.4,529.1 434.2,529.4 435.9,530.0Z" fill="#fff" stroke="#000" stroke-width="1.20"/>
<path d="M437.2,531.2 438.5,532.3 439.7,533.6 440.6,535.3 441.3,537.1 441.8,539.1 442.0,541.4 442.0,543.8 441.8,546.3 441.4,549.0 440.7,551.7 439.8,554.5 438.7,557.4 437.5,560.3 436.0,563.2 434.3,566.0 432.5,568.8 430.6,571.4 428.5,574.0 426.4,576.4 424.1,578.6 421.8,580.6 419.5,582.5 417.2,584.1 414.8,585.4 412.5,586.5 410.3,587.3 408.1,587.9 406.0,588.2 404.1,588.2 402.2,587.9 400.6,587.3 399.1,586.5 397.8,585.4 396.6,584.0 395.7,582.4 395.0,580.6 394.5,578.6 394.3,576.3 394.3,573.9 394.5,571.4 394.9,568.7 395.6,566.0 396.5,563.1 397.6,560.3 398.8,557.4 400.3,554.5 402.0,551.7 403.8,548.9 405.7,546.3 407.8,543.7 409.9,541.3 412.2,539.1 414.5,537.0 416.8,535.2 419.1,533.6 421.5,532.3 423.8,531.2 426.0,530.3 428.2,529.8 430.3,529.5 432.2,529.5 434.1,529.8 435.7,530.3Z" fill="none" stroke="#000" stroke-width="1.70"/>
<path d="M402.1,582.0 401.0,581.1 400.1,580.0 399.3,578.6 398.7,577.1 398.3,575.4 398.1,573.5 398.1,571.5 398.3,569.4 398.7,567.1 399.2,564.8 400.0,562.4 400.9,560.0 402.0,557.6 403.2,555.2 404.6,552.8 406.1,550.5 407.7,548.3 409.4,546.1 411.2,544.1 413.1,542.3 415.1,540.6 417.0,539.0 419.0,537.7 420.9,536.5 422.9,535.6 424.8,534.9 426.6,534.4 428.3,534.2 430.0,534.2 431.5,534.4 432.9,534.9 434.2,535.6 443.2,541.9 442.0,541.2 440.6,540.7 439.0,540.5 437.4,540.5 435.6,540.7 433.8,541.2 431.9,541.9 430.0,542.8 428.0,543.9 426.1,545.3 424.1,546.8 422.2,548.5 420.3,550.4 418.5,552.4 416.8,554.5 415.1,556.8 413.6,559.1 412.2,561.4 411.0,563.9 409.9,566.3 409.0,568.7 408.3,571.1 407.7,573.4 407.3,575.6 407.2,577.7 407.2,579.8 407.4,581.6 407.8,583.3 408.4,584.9 409.1,586.2 410.1,587.4 411.2,588.3Z" fill="#fff" stroke="#000" stroke-width="1.20"/>
<path d="M443.2,541.9 444.3,542.8 445.3,543.9 446.0,545.3 446.6,546.8 447.0,548.5 447.2,550.4 447.2,552.4 447.1,554.6 446.7,556.8 446.1,559.1 445.4,561.5 444.5,563.9 443.4,566.3 442.2,568.7 440.8,571.1 439.3,573.4 437.6,575.6 435.9,577.8 434.1,579.8 432.2,581.7 430.3,583.4 428.3,584.9 426.4,586.2 424.4,587.4 422.5,588.3 420.6,589.0 418.8,589.5 417.0,589.7 415.4,589.7 413.9,589.5 412.5,589.0 411.2,588.3 410.1,587.4 409.1,586.2 408.4,584.9 407.8,583.3 407.4,581.6 407.2,579.8 407.2,577.7 407.3,575.6 407.7,573.4 408.3,571.1 409.0,568.7 409.9,566.3 411.0,563.9 412.2,561.4 413.6,559.1 415.1,556.8 416.8,554.5 418.5,552.4 420.3,550.4 422.2,548.5 424.1,546.8 426.1,545.3 428.0,543.9 430.0,542.8 431.9,541.9 433.8,541.2 435.6,540.7 437.4,540.5 439.0,540.5 440.6,540.7 442.0,541.2Z" fill="#fff" stroke="#000" stroke-width="1.20"/>
<path d="M441.7,544.1 442.7,544.9 443.5,546.0 444.2,547.2 444.8,548.6 445.1,550.1 445.3,551.8 445.3,553.6 445.2,555.6 444.8,557.6 444.3,559.7 443.7,561.8 442.8,564.0 441.9,566.2 440.7,568.4 439.5,570.5 438.1,572.6 436.6,574.6 435.1,576.6 433.4,578.4 431.7,580.1 430.0,581.6 428.2,583.0 426.5,584.2 424.7,585.2 422.9,586.1 421.2,586.7 419.6,587.1 418.0,587.4 416.5,587.4 415.1,587.1 413.9,586.7 412.7,586.1 411.7,585.2 410.9,584.2 410.2,583.0 409.7,581.6 409.3,580.0 409.1,578.4 409.1,576.5 409.2,574.6 409.6,572.6 410.1,570.5 410.8,568.3 411.6,566.2 412.6,564.0 413.7,561.8 414.9,559.6 416.3,557.6 417.8,555.5 419.3,553.6 421.0,551.8 422.7,550.1 424.4,548.5 426.2,547.2 428.0,545.9 429.7,544.9 431.5,544.1 433.2,543.4 434.8,543.0 436.4,542.8 437.9,542.8 439.3,543.0 440.5,543.5Z" fill="none" stroke="#000" stroke-width="1.20"/>
<path d="M417.3,579.5 416.6,578.9 416.0,578.2 415.5,577.4 415.2,576.4 414.9,575.4 414.8,574.2 414.8,572.9 414.9,571.6 415.1,570.2 415.5,568.8 415.9,567.3 416.5,565.8 417.2,564.3 417.9,562.8 418.8,561.4 419.7,559.9 420.7,558.5 421.8,557.2 422.9,556.0 424.1,554.8 425.3,553.7 426.5,552.8 427.7,552.0 428.9,551.2 430.1,550.7 431.3,550.2 432.4,549.9 433.5,549.8 434.5,549.8 435.5,549.9 436.4,550.2 437.1,550.7 439.6,552.4 438.8,551.9 438.0,551.7 437.0,551.5 436.0,551.5 434.9,551.6 433.8,551.9 432.6,552.4 431.4,552.9 430.2,553.7 429.0,554.5 427.8,555.4 426.6,556.5 425.4,557.7 424.3,558.9 423.2,560.2 422.2,561.6 421.2,563.1 420.4,564.5 419.6,566.0 419.0,567.5 418.4,569.0 417.9,570.5 417.6,571.9 417.4,573.3 417.2,574.6 417.3,575.9 417.4,577.1 417.6,578.1 418.0,579.1 418.5,579.9 419.1,580.6 419.7,581.2Z" fill="#fff" stroke="#000" stroke-width="1.20"/>
<path d="M439.6,552.4 440.3,553.0 440.9,553.7 441.4,554.5 441.7,555.5 442.0,556.5 442.1,557.7 442.1,558.9 442.0,560.3 441.8,561.6 441.4,563.1 441.0,564.6 440.4,566.0 439.7,567.5 439.0,569.0 438.1,570.5 437.2,572.0 436.2,573.3 435.1,574.7 434.0,575.9 432.8,577.1 431.6,578.1 430.4,579.1 429.2,579.9 427.9,580.6 426.7,581.2 425.6,581.6 424.4,581.9 423.4,582.1 422.3,582.1 421.4,581.9 420.5,581.6 419.7,581.2 419.1,580.6 418.5,579.9 418.0,579.1 417.6,578.1 417.4,577.1 417.3,575.9 417.2,574.6 417.4,573.3 417.6,571.9 417.9,570.5 418.4,569.0 419.0,567.5 419.6,566.0 420.4,564.5 421.2,563.1 422.2,561.6 423.2,560.2 424.3,558.9 425.4,557.7 426.6,556.5 427.8,555.4 429.0,554.5 430.2,553.7 431.4,552.9 432.6,552.4 433.8,551.9 434.9,551.6 436.0,551.5 437.0,551.5 438.0,551.7 438.8,551.9Z" fill="#fff" stroke="#000" stroke-width="1.20"/>
<path d="M433.2,566.1 434.3,566.8 474.6,594.6 473.5,594.0Z" fill="#fff" stroke="#000" stroke-width="1.30" stroke-linejoin="round"/>
<path d="M427.0,574.7 426.8,573.0 467.2,600.8 467.3,602.5Z" fill="#fff" stroke="#000" stroke-width="1.30" stroke-linejoin="round"/>
<path d="M434.5,560.9 436.2,560.1 476.5,587.9 474.8,588.7Z" fill="#fff" stroke="#000" stroke-width="1.30" stroke-linejoin="round"/>
<path d="M422.0,575.4 423.0,573.2 463.4,601.1 462.3,603.2Z" fill="#fff" stroke="#000" stroke-width="1.30" stroke-linejoin="round"/>
<path d="M432.7,557.9 434.3,556.0 474.6,583.8 473.1,585.7Z" fill="#fff" stroke="#000" stroke-width="1.30" stroke-linejoin="round"/>
<path d="M423.0,573.2 422.1,572.3 462.4,600.1 463.4,601.1Z" fill="#fff" stroke="#000" stroke-width="1.30" stroke-linejoin="round"/>
<path d="M431.3,557.7 432.7,557.9 473.1,585.7 471.7,585.5Z" fill="#fff" stroke="#000" stroke-width="1.30" stroke-linejoin="round"/>
<path d="M420.3,573.7 419.9,571.5 460.2,599.3 460.7,601.5Z" fill="#fff" stroke="#000" stroke-width="1.30" stroke-linejoin="round"/>
<path d="M419.9,571.5 421.6,569.9 461.9,597.8 460.2,599.3Z" fill="#fff" stroke="#000" stroke-width="1.30" stroke-linejoin="round"/>
<path d="M429.4,556.4 431.8,555.6 472.1,583.5 469.8,584.2Z" fill="#fff" stroke="#000" stroke-width="1.30" stroke-linejoin="round"/>
<path d="M421.6,569.9 421.8,567.9 462.2,595.7 461.9,597.8Z" fill="#fff" stroke="#000" stroke-width="1.30" stroke-linejoin="round"/>
<path d="M428.8,558.5 429.4,556.4 469.8,584.2 469.1,586.4Z" fill="#fff" stroke="#000" stroke-width="1.30" stroke-linejoin="round"/>
<path d="M427.0,559.8 428.8,558.5 469.1,586.4 467.3,587.6Z" fill="#fff" stroke="#000" stroke-width="1.30" stroke-linejoin="round"/>
<path d="M423.1,564.6 424.5,562.5 464.8,590.3 463.5,592.4Z" fill="#fff" stroke="#000" stroke-width="1.30" stroke-linejoin="round"/>
<path d="M421.5,564.9 423.1,564.6 463.5,592.4 461.9,592.7Z" fill="#fff" stroke="#000" stroke-width="1.30" stroke-linejoin="round"/>
<path d="M424.5,562.5 423.9,561.1 464.3,589.0 464.8,590.3Z" fill="#fff" stroke="#000" stroke-width="1.30" stroke-linejoin="round"/>
<path d="M420.3,568.0 421.5,564.9 461.9,592.7 460.7,595.8Z" fill="#fff" stroke="#000" stroke-width="1.30" stroke-linejoin="round"/>
<path d="M423.9,561.1 426.3,558.6 466.6,586.5 464.3,589.0Z" fill="#fff" stroke="#000" stroke-width="1.30" stroke-linejoin="round"/>
<path d="M473.1,585.7 474.6,583.8 475.9,585.2 474.5,587.2 474.8,588.7 476.5,587.9 476.2,590.7 474.4,591.7 473.5,594.0 474.6,594.6 472.8,597.6 471.5,597.1 469.8,598.9 469.8,600.8 467.3,602.5 467.2,600.8 465.5,601.4 464.3,603.5 462.3,603.2 463.4,601.1 462.4,600.1 460.7,601.5 460.2,599.3 461.9,597.8 462.2,595.7 460.7,595.8 461.9,592.7 463.5,592.4 464.8,590.3 464.3,589.0 466.6,586.5 467.3,587.6 469.1,586.4 469.8,584.2 472.1,583.5 471.7,585.5Z" fill="#fff" stroke="#000" stroke-width="1.10" stroke-linejoin="round"/>
<path d="M222.5,313.4 227.5,314.1 234.1,318.6 229.1,318.0Z" fill="#fff" stroke="#000" stroke-width="1.20" stroke-linejoin="round"/>
<path d="M215.7,327.0 216.6,319.9 223.2,324.5 222.3,331.6Z" fill="#fff" stroke="#000" stroke-width="1.20" stroke-linejoin="round"/>
<path d="M216.6,319.9 222.5,313.4 229.1,318.0 223.2,324.5Z" fill="#fff" stroke="#000" stroke-width="1.20" stroke-linejoin="round"/>
<path d="M234.1,318.6 233.2,325.7 227.3,332.2 222.3,331.6 223.2,324.5 229.1,318.0Z" fill="#fff" stroke="#000" stroke-width="1.20" stroke-linejoin="round"/>
<path d="M220.5,335.4 220.0,334.9 219.6,334.4 219.2,333.8 219.0,333.1 218.8,332.3 218.7,331.5 218.7,330.6 218.8,329.6 218.9,328.6 219.2,327.5 219.5,326.4 219.9,325.4 220.4,324.3 221.0,323.2 221.6,322.1 222.3,321.0 223.0,320.0 223.8,319.1 224.7,318.1 225.5,317.3 226.4,316.5 227.3,315.8 228.2,315.2 229.1,314.7 229.9,314.3 230.8,314.0 231.6,313.7 232.4,313.6 233.2,313.6 233.8,313.7 234.5,314.0 235.1,314.3 237.5,316.0 237.0,315.7 236.3,315.4 235.6,315.3 234.9,315.3 234.1,315.4 233.3,315.7 232.4,316.0 231.5,316.4 230.6,316.9 229.7,317.5 228.9,318.2 228.0,319.0 227.1,319.8 226.3,320.8 225.5,321.7 224.8,322.7 224.1,323.8 223.5,324.9 222.9,326.0 222.4,327.1 222.0,328.2 221.7,329.2 221.4,330.3 221.2,331.3 221.2,332.3 221.2,333.2 221.3,334.0 221.4,334.8 221.7,335.5 222.1,336.1 222.5,336.6 223.0,337.1Z" fill="#fff" stroke="#000" stroke-width="1.20"/>
<path d="M237.5,316.0 238.0,316.4 238.5,316.9 238.8,317.5 239.1,318.2 239.3,319.0 239.3,319.9 239.4,320.8 239.3,321.7 239.1,322.8 238.9,323.8 238.5,324.9 238.1,326.0 237.6,327.1 237.0,328.2 236.4,329.2 235.7,330.3 235.0,331.3 234.2,332.3 233.4,333.2 232.5,334.0 231.7,334.8 230.8,335.5 229.9,336.1 229.0,336.6 228.1,337.1 227.3,337.4 226.4,337.6 225.6,337.7 224.9,337.7 224.2,337.6 223.6,337.4 223.0,337.1 222.5,336.6 222.1,336.1 221.7,335.5 221.4,334.8 221.3,334.0 221.2,333.2 221.2,332.3 221.2,331.3 221.4,330.3 221.7,329.2 222.0,328.2 222.4,327.1 222.9,326.0 223.5,324.9 224.1,323.8 224.8,322.7 225.5,321.7 226.3,320.8 227.1,319.8 228.0,319.0 228.9,318.2 229.7,317.5 230.6,316.9 231.5,316.4 232.4,316.0 233.3,315.7 234.1,315.4 234.9,315.3 235.6,315.3 236.3,315.4 237.0,315.7Z" fill="#fff" stroke="#000" stroke-width="1.20"/>
<path d="M236.7,317.2 237.1,317.6 237.5,318.0 237.8,318.6 238.0,319.2 238.2,319.9 238.3,320.6 238.3,321.4 238.2,322.3 238.1,323.2 237.8,324.1 237.5,325.1 237.2,326.0 236.7,327.0 236.3,328.0 235.7,328.9 235.1,329.9 234.4,330.8 233.7,331.6 233.0,332.4 232.3,333.2 231.5,333.8 230.7,334.5 229.9,335.0 229.1,335.5 228.4,335.8 227.6,336.1 226.9,336.3 226.2,336.4 225.5,336.4 224.9,336.3 224.3,336.1 223.8,335.8 223.4,335.4 223.0,335.0 222.7,334.5 222.5,333.8 222.3,333.1 222.2,332.4 222.2,331.6 222.3,330.7 222.4,329.8 222.7,328.9 223.0,328.0 223.3,327.0 223.8,326.0 224.3,325.1 224.8,324.1 225.4,323.2 226.1,322.3 226.8,321.4 227.5,320.6 228.2,319.9 229.0,319.2 229.8,318.6 230.6,318.0 231.4,317.6 232.1,317.2 232.9,316.9 233.6,316.7 234.3,316.6 235.0,316.7 235.6,316.7 236.2,316.9Z" fill="none" stroke="#000" stroke-width="0.90"/>
<path d="M227.8,330.1 227.6,330.0 227.4,329.8 227.3,329.6 227.2,329.4 227.2,329.1 227.1,328.8 227.1,328.5 227.2,328.2 227.2,327.8 227.3,327.5 227.4,327.1 227.6,326.7 227.7,326.3 227.9,326.0 228.1,325.6 228.4,325.2 228.6,324.9 228.9,324.5 229.2,324.2 229.5,323.9 229.8,323.7 230.1,323.4 230.4,323.2 230.7,323.0 231.0,322.9 231.3,322.8 231.6,322.7 231.8,322.7 232.1,322.7 232.3,322.7 232.6,322.8 232.8,322.9 266.9,346.5 266.7,346.4 266.5,346.3 266.3,346.2 266.0,346.2 265.7,346.3 265.4,346.4 265.2,346.5 264.9,346.6 264.5,346.8 264.2,347.0 263.9,347.2 263.6,347.5 263.3,347.8 263.1,348.1 262.8,348.4 262.5,348.8 262.3,349.1 262.1,349.5 261.9,349.9 261.7,350.3 261.6,350.6 261.5,351.0 261.4,351.4 261.3,351.7 261.3,352.1 261.3,352.4 261.3,352.7 261.4,352.9 261.5,353.2 261.6,353.4 261.7,353.6 261.9,353.7Z" fill="#fff" stroke="#000" stroke-width="1.20"/>
<path d="M266.9,346.5 267.1,346.6 267.2,346.8 267.4,347.0 267.4,347.2 267.5,347.5 267.5,347.8 267.5,348.1 267.5,348.4 267.5,348.8 267.4,349.2 267.3,349.5 267.1,349.9 266.9,350.3 266.8,350.7 266.5,351.0 266.3,351.4 266.0,351.7 265.8,352.1 265.5,352.4 265.2,352.7 264.9,352.9 264.6,353.2 264.3,353.4 264.0,353.6 263.7,353.7 263.4,353.8 263.1,353.9 262.8,353.9 262.6,353.9 262.3,353.9 262.1,353.8 261.9,353.7 261.7,353.6 261.6,353.4 261.5,353.2 261.4,352.9 261.3,352.7 261.3,352.4 261.3,352.1 261.3,351.7 261.4,351.4 261.5,351.0 261.6,350.6 261.7,350.3 261.9,349.9 262.1,349.5 262.3,349.1 262.5,348.8 262.8,348.4 263.1,348.1 263.3,347.8 263.6,347.5 263.9,347.2 264.2,347.0 264.5,346.8 264.9,346.6 265.2,346.5 265.4,346.4 265.7,346.3 266.0,346.2 266.3,346.2 266.5,346.3 266.7,346.4Z" fill="#fff" stroke="#000" stroke-width="1.20"/>
<path d="M236.7,336.3 236.2,335.9 235.9,335.3 235.8,334.4 236.0,333.4 236.4,332.3 237.0,331.2 237.8,330.2 238.7,329.4 239.6,328.9 240.4,328.6 241.1,328.7 241.7,329.1" fill="none" stroke="#000" stroke-width="1.00"/>
<path d="M239.4,338.1 238.8,337.7 238.5,337.1 238.4,336.2 238.6,335.2 239.0,334.1 239.7,333.0 240.4,332.0 241.3,331.2 242.2,330.7 243.1,330.5 243.8,330.5 244.3,330.9" fill="none" stroke="#000" stroke-width="1.00"/>
<path d="M242.0,339.9 241.4,339.5 241.1,338.9 241.0,338.0 241.2,337.0 241.7,335.9 242.3,334.8 243.1,333.8 244.0,333.1 244.8,332.5 245.7,332.3 246.4,332.4 246.9,332.7" fill="none" stroke="#000" stroke-width="1.00"/>
<path d="M244.6,341.7 244.1,341.4 243.8,340.7 243.7,339.8 243.9,338.8 244.3,337.7 244.9,336.6 245.7,335.7 246.6,334.9 247.5,334.3 248.3,334.1 249.0,334.2 249.6,334.6" fill="none" stroke="#000" stroke-width="1.00"/>
<path d="M247.3,343.5 246.7,343.2 246.4,342.5 246.3,341.7 246.5,340.6 246.9,339.5 247.6,338.5 248.3,337.5 249.2,336.7 250.1,336.2 251.0,335.9 251.7,336.0 252.2,336.4" fill="none" stroke="#000" stroke-width="1.00"/>
<path d="M249.9,345.3 249.3,345.0 249.0,344.3 248.9,343.5 249.1,342.5 249.6,341.4 250.2,340.3 251.0,339.3 251.9,338.5 252.7,338.0 253.6,337.7 254.3,337.8 254.8,338.2" fill="none" stroke="#000" stroke-width="1.00"/>
<path d="M252.5,347.2 252.0,346.8 251.7,346.2 251.6,345.3 251.8,344.3 252.2,343.2 252.8,342.1 253.6,341.1 254.5,340.3 255.4,339.8 256.2,339.5 256.9,339.6 257.5,340.0" fill="none" stroke="#000" stroke-width="1.00"/>
<path d="M255.2,349.0 254.6,348.6 254.3,348.0 254.2,347.1 254.4,346.1 254.8,345.0 255.5,343.9 256.2,342.9 257.1,342.1 258.0,341.6 258.9,341.4 259.6,341.4 260.1,341.8" fill="none" stroke="#000" stroke-width="1.00"/>
<path d="M257.8,350.8 257.3,350.4 256.9,349.8 256.9,348.9 257.0,347.9 257.5,346.8 258.1,345.7 258.9,344.7 259.8,344.0 260.6,343.4 261.5,343.2 262.2,343.3 262.7,343.6" fill="none" stroke="#000" stroke-width="1.00"/>
<path d="M260.4,352.6 259.9,352.3 259.6,351.6 259.5,350.7 259.7,349.7 260.1,348.6 260.7,347.5 261.5,346.6 262.4,345.8 263.3,345.2 264.1,345.0 264.8,345.1 265.4,345.5" fill="none" stroke="#000" stroke-width="1.00"/>
<path d="M187.1,351.3 192.1,352.0 198.7,356.5 193.7,355.9Z" fill="#fff" stroke="#000" stroke-width="1.20" stroke-linejoin="round"/>
<path d="M180.3,364.9 181.2,357.8 187.8,362.4 186.9,369.5Z" fill="#fff" stroke="#000" stroke-width="1.20" stroke-linejoin="round"/>
<path d="M181.2,357.8 187.1,351.3 193.7,355.9 187.8,362.4Z" fill="#fff" stroke="#000" stroke-width="1.20" stroke-linejoin="round"/>
<path d="M198.7,356.5 197.8,363.6 191.9,370.1 186.9,369.5 187.8,362.4 193.7,355.9Z" fill="#fff" stroke="#000" stroke-width="1.20" stroke-linejoin="round"/>
<path d="M185.1,373.3 184.6,372.8 184.2,372.3 183.8,371.7 183.6,371.0 183.4,370.2 183.3,369.4 183.3,368.5 183.4,367.5 183.5,366.5 183.8,365.4 184.1,364.3 184.5,363.3 185.0,362.2 185.6,361.1 186.2,360.0 186.9,358.9 187.6,357.9 188.4,357.0 189.3,356.0 190.1,355.2 191.0,354.4 191.9,353.7 192.8,353.1 193.7,352.6 194.5,352.2 195.4,351.9 196.2,351.6 197.0,351.5 197.8,351.5 198.4,351.6 199.1,351.9 199.7,352.2 202.1,353.9 201.6,353.6 200.9,353.3 200.2,353.2 199.5,353.2 198.7,353.3 197.9,353.6 197.0,353.9 196.1,354.3 195.2,354.8 194.3,355.4 193.5,356.1 192.6,356.9 191.7,357.7 190.9,358.7 190.1,359.6 189.4,360.6 188.7,361.7 188.1,362.8 187.5,363.9 187.0,365.0 186.6,366.1 186.3,367.1 186.0,368.2 185.8,369.2 185.8,370.2 185.8,371.1 185.9,371.9 186.0,372.7 186.3,373.4 186.7,374.0 187.1,374.5 187.6,375.0Z" fill="#fff" stroke="#000" stroke-width="1.20"/>
<path d="M202.1,353.9 202.6,354.3 203.1,354.8 203.4,355.4 203.7,356.1 203.9,356.9 203.9,357.8 204.0,358.7 203.9,359.6 203.7,360.7 203.5,361.7 203.1,362.8 202.7,363.9 202.2,365.0 201.6,366.1 201.0,367.1 200.3,368.2 199.6,369.2 198.8,370.2 198.0,371.1 197.1,371.9 196.3,372.7 195.4,373.4 194.5,374.0 193.6,374.5 192.7,375.0 191.9,375.3 191.0,375.5 190.2,375.6 189.5,375.6 188.8,375.5 188.2,375.3 187.6,375.0 187.1,374.5 186.7,374.0 186.3,373.4 186.0,372.7 185.9,371.9 185.8,371.1 185.8,370.2 185.8,369.2 186.0,368.2 186.3,367.1 186.6,366.1 187.0,365.0 187.5,363.9 188.1,362.8 188.7,361.7 189.4,360.6 190.1,359.6 190.9,358.7 191.7,357.7 192.6,356.9 193.5,356.1 194.3,355.4 195.2,354.8 196.1,354.3 197.0,353.9 197.9,353.6 198.7,353.3 199.5,353.2 200.2,353.2 200.9,353.3 201.6,353.6Z" fill="#fff" stroke="#000" stroke-width="1.20"/>
<path d="M201.3,355.1 201.7,355.5 202.1,355.9 202.4,356.5 202.6,357.1 202.8,357.8 202.9,358.5 202.9,359.3 202.8,360.2 202.7,361.1 202.4,362.0 202.1,363.0 201.8,363.9 201.3,364.9 200.9,365.9 200.3,366.8 199.7,367.8 199.0,368.7 198.3,369.5 197.6,370.3 196.9,371.1 196.1,371.7 195.3,372.4 194.5,372.9 193.7,373.4 193.0,373.7 192.2,374.0 191.5,374.2 190.8,374.3 190.1,374.3 189.5,374.2 188.9,374.0 188.4,373.7 188.0,373.3 187.6,372.9 187.3,372.4 187.1,371.7 186.9,371.0 186.8,370.3 186.8,369.5 186.9,368.6 187.0,367.7 187.3,366.8 187.6,365.9 187.9,364.9 188.4,363.9 188.9,363.0 189.4,362.0 190.0,361.1 190.7,360.2 191.4,359.3 192.1,358.5 192.8,357.8 193.6,357.1 194.4,356.5 195.2,355.9 196.0,355.5 196.7,355.1 197.5,354.8 198.2,354.6 198.9,354.5 199.6,354.6 200.2,354.6 200.8,354.8Z" fill="none" stroke="#000" stroke-width="0.90"/>
<path d="M192.4,368.0 192.2,367.9 192.0,367.7 191.9,367.5 191.8,367.3 191.8,367.0 191.7,366.7 191.7,366.4 191.8,366.1 191.8,365.7 191.9,365.4 192.0,365.0 192.2,364.6 192.3,364.2 192.5,363.9 192.7,363.5 193.0,363.1 193.2,362.8 193.5,362.4 193.8,362.1 194.1,361.8 194.4,361.6 194.7,361.3 195.0,361.1 195.3,360.9 195.6,360.8 195.9,360.7 196.2,360.6 196.4,360.6 196.7,360.6 196.9,360.6 197.2,360.7 197.4,360.8 231.5,384.4 231.3,384.3 231.1,384.2 230.9,384.1 230.6,384.1 230.3,384.2 230.0,384.3 229.8,384.4 229.5,384.5 229.1,384.7 228.8,384.9 228.5,385.1 228.2,385.4 227.9,385.7 227.7,386.0 227.4,386.3 227.1,386.7 226.9,387.0 226.7,387.4 226.5,387.8 226.3,388.2 226.2,388.5 226.1,388.9 226.0,389.3 225.9,389.6 225.9,390.0 225.9,390.3 225.9,390.6 226.0,390.8 226.1,391.1 226.2,391.3 226.3,391.5 226.5,391.6Z" fill="#fff" stroke="#000" stroke-width="1.20"/>
<path d="M231.5,384.4 231.7,384.5 231.8,384.7 232.0,384.9 232.0,385.1 232.1,385.4 232.1,385.7 232.1,386.0 232.1,386.3 232.1,386.7 232.0,387.1 231.9,387.4 231.7,387.8 231.5,388.2 231.4,388.6 231.1,388.9 230.9,389.3 230.6,389.6 230.4,390.0 230.1,390.3 229.8,390.6 229.5,390.8 229.2,391.1 228.9,391.3 228.6,391.5 228.3,391.6 228.0,391.7 227.7,391.8 227.4,391.8 227.2,391.8 226.9,391.8 226.7,391.7 226.5,391.6 226.3,391.5 226.2,391.3 226.1,391.1 226.0,390.8 225.9,390.6 225.9,390.3 225.9,390.0 225.9,389.6 226.0,389.3 226.1,388.9 226.2,388.5 226.3,388.2 226.5,387.8 226.7,387.4 226.9,387.0 227.1,386.7 227.4,386.3 227.7,386.0 227.9,385.7 228.2,385.4 228.5,385.1 228.8,384.9 229.1,384.7 229.5,384.5 229.8,384.4 230.0,384.3 230.3,384.2 230.6,384.1 230.9,384.1 231.1,384.2 231.3,384.3Z" fill="#fff" stroke="#000" stroke-width="1.20"/>
<path d="M201.3,374.2 200.8,373.8 200.5,373.2 200.4,372.3 200.6,371.3 201.0,370.2 201.6,369.1 202.4,368.1 203.3,367.3 204.2,366.8 205.0,366.5 205.7,366.6 206.3,367.0" fill="none" stroke="#000" stroke-width="1.00"/>
<path d="M204.0,376.0 203.4,375.6 203.1,375.0 203.0,374.1 203.2,373.1 203.6,372.0 204.3,370.9 205.0,369.9 205.9,369.1 206.8,368.6 207.7,368.4 208.4,368.4 208.9,368.8" fill="none" stroke="#000" stroke-width="1.00"/>
<path d="M206.6,377.8 206.0,377.4 205.7,376.8 205.6,375.9 205.8,374.9 206.3,373.8 206.9,372.7 207.7,371.7 208.6,371.0 209.4,370.4 210.3,370.2 211.0,370.3 211.5,370.6" fill="none" stroke="#000" stroke-width="1.00"/>
<path d="M209.2,379.6 208.7,379.3 208.4,378.6 208.3,377.7 208.5,376.7 208.9,375.6 209.5,374.5 210.3,373.6 211.2,372.8 212.1,372.2 212.9,372.0 213.6,372.1 214.2,372.5" fill="none" stroke="#000" stroke-width="1.00"/>
<path d="M211.9,381.4 211.3,381.1 211.0,380.4 210.9,379.6 211.1,378.5 211.5,377.4 212.2,376.4 212.9,375.4 213.8,374.6 214.7,374.1 215.6,373.8 216.3,373.9 216.8,374.3" fill="none" stroke="#000" stroke-width="1.00"/>
<path d="M214.5,383.2 213.9,382.9 213.6,382.2 213.5,381.4 213.7,380.4 214.2,379.3 214.8,378.2 215.6,377.2 216.5,376.4 217.3,375.9 218.2,375.6 218.9,375.7 219.4,376.1" fill="none" stroke="#000" stroke-width="1.00"/>
<path d="M217.1,385.1 216.6,384.7 216.3,384.1 216.2,383.2 216.4,382.2 216.8,381.1 217.4,380.0 218.2,379.0 219.1,378.2 220.0,377.7 220.8,377.4 221.5,377.5 222.1,377.9" fill="none" stroke="#000" stroke-width="1.00"/>
<path d="M219.8,386.9 219.2,386.5 218.9,385.9 218.8,385.0 219.0,384.0 219.4,382.9 220.1,381.8 220.8,380.8 221.7,380.0 222.6,379.5 223.5,379.3 224.2,379.3 224.7,379.7" fill="none" stroke="#000" stroke-width="1.00"/>
<path d="M222.4,388.7 221.9,388.3 221.5,387.7 221.5,386.8 221.6,385.8 222.1,384.7 222.7,383.6 223.5,382.6 224.4,381.9 225.2,381.3 226.1,381.1 226.8,381.2 227.3,381.5" fill="none" stroke="#000" stroke-width="1.00"/>
<path d="M225.0,390.5 224.5,390.2 224.2,389.5 224.1,388.6 224.3,387.6 224.7,386.5 225.3,385.4 226.1,384.5 227.0,383.7 227.9,383.1 228.7,382.9 229.4,383.0 230.0,383.4" fill="none" stroke="#000" stroke-width="1.00"/>
<path d="M264.5,350.5 L270.5,354.6" stroke="#000" stroke-width="1.20" fill="none"/>
<path d="M273.0,356.3 L276.5,358.7" stroke="#000" stroke-width="1.20" fill="none"/>
<path d="M279.0,360.4 L290.5,368.3" stroke="#000" stroke-width="1.20" fill="none"/>
<path d="M230.3,388.3 L246.7,400.1" stroke="#000" stroke-width="1.20" fill="none"/>
<path d="M831.9,255.6 L870.3,283.0" stroke="#000" stroke-width="1.20" fill="none"/>
<path d="M873.0,284.9 L876.7,287.2" stroke="#000" stroke-width="1.20" fill="none"/>
<path d="M879.5,289.5 L896.0,301.4" stroke="#000" stroke-width="1.20" fill="none"/>
<path d="M898.8,303.7 L903.4,307.0" stroke="#000" stroke-width="1.20" fill="none"/>
<path d="M905.2,307.9 L918.1,316.6" stroke="#000" stroke-width="1.20" fill="none"/>
<path d="M601.5,370.5 L613.7,379.7" stroke="#000" stroke-width="1.20" fill="none"/>
<path d="M616.6,381.3 L620.6,384.3" stroke="#000" stroke-width="1.20" fill="none"/>
<path d="M623.2,386.0 L636.0,394.8" stroke="#000" stroke-width="1.20" fill="none"/>
<path d="M483.2,459.5 L494.7,467.7" stroke="#000" stroke-width="1.20" fill="none"/>
<path d="M497.3,469.7 L500.9,472.3" stroke="#000" stroke-width="1.20" fill="none"/>
<path d="M503.9,474.3 L515.4,481.8" stroke="#000" stroke-width="1.20" fill="none"/>
<path d="M928.0,129.7 L913.4,143.0" stroke="#000" stroke-width="1.20" fill="none"/>
<path d="M976.6,283.3 L954.9,303.4" stroke="#000" stroke-width="1.20" fill="none"/>
<path d="M732.1,435.7 L707.4,431.0" stroke="#000" stroke-width="1.20" fill="none"/>
<path d="M576.4,311.0 L555.4,331.4" stroke="#000" stroke-width="1.20" fill="none"/>
<path d="M459.2,402.8 L437.3,422.9" stroke="#000" stroke-width="1.20" fill="none"/>
<path d="M605.9,532.6 L587.8,524.7" stroke="#000" stroke-width="1.20" fill="none"/>
<path d="M352.9,411.0 L331.2,431.4" stroke="#000" stroke-width="1.20" fill="none"/>
<path d="M196.7,310.0 L216.0,317.0" stroke="#000" stroke-width="1.20" fill="none"/>
<path d="M196.7,310.0 L192.8,350.5" stroke="#000" stroke-width="1.20" fill="none"/>
<g font-size="19" stroke="#000" stroke-width="0.45"><text x="0" y="0" transform="translate(980.0,284.9) scale(0.66,1)" text-anchor="middle">1</text>
<text x="0" y="0" transform="translate(932.2,132.0) scale(0.66,1)" text-anchor="middle">2</text>
<text x="0" y="0" transform="translate(735.7,442.9) scale(0.66,1)" text-anchor="middle">3</text>
<text x="0" y="0" transform="translate(580.6,313.7) scale(0.66,1)" text-anchor="middle">4</text>
<text x="0" y="0" transform="translate(463.1,405.7) scale(0.66,1)" text-anchor="middle">4</text>
<text x="0" y="0" transform="translate(609.5,540.1) scale(0.66,1)" text-anchor="middle">5</text>
<text x="0" y="0" transform="translate(357.5,413.7) scale(0.66,1)" text-anchor="middle">6</text>
<text x="0" y="0" transform="translate(193.2,310.0) scale(0.66,1)" text-anchor="middle">7</text></g>
</svg>
</body></html>
